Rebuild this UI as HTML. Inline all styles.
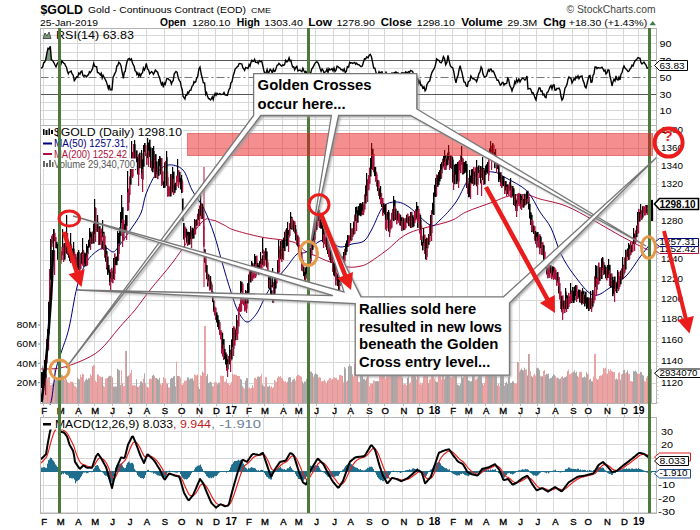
<!DOCTYPE html>
<html><head><meta charset="utf-8"><style>html,body{margin:0;padding:0;background:#fff;overflow:hidden}svg{display:block}text{font-family:"Liberation Sans",sans-serif}</style></head><body>
<svg width="700" height="530" viewBox="0 0 700 530" font-family="Liberation Sans, sans-serif">
<rect width="700" height="530" fill="#fff"/>
<text x="40.5" y="13.7" font-size="13" fill="#000" font-weight="bold" text-anchor="start" textLength="42.5" lengthAdjust="spacingAndGlyphs" >$GOLD</text>
<text x="88" y="12.7" font-size="9" fill="#000" font-weight="normal" text-anchor="start" textLength="158" lengthAdjust="spacingAndGlyphs" >Gold - Continuous Contract (EOD)</text>
<text x="251" y="12.7" font-size="8" fill="#000" font-weight="normal" text-anchor="start" textLength="20" lengthAdjust="spacingAndGlyphs" >CME</text>
<text x="566.5" y="12.9" font-size="10" fill="#444" font-weight="normal" text-anchor="start" textLength="89" lengthAdjust="spacingAndGlyphs" >&#169; StockCharts.com</text>
<text x="40" y="25.7" font-size="9" fill="#000" font-weight="normal" text-anchor="start" textLength="58" lengthAdjust="spacingAndGlyphs" >25-Jan-2019</text>
<text x="160" y="25.7" font-size="10" fill="#000" font-weight="bold" text-anchor="start" textLength="26" lengthAdjust="spacingAndGlyphs" >Open</text>
<text x="192" y="25.7" font-size="9" fill="#000" font-weight="normal" text-anchor="start" textLength="38.4" lengthAdjust="spacingAndGlyphs" >1280.10</text>
<text x="236.8" y="25.7" font-size="10" fill="#000" font-weight="bold" text-anchor="start" textLength="23.2" lengthAdjust="spacingAndGlyphs" >High</text>
<text x="264.3" y="25.7" font-size="9" fill="#000" font-weight="normal" text-anchor="start" textLength="38.6" lengthAdjust="spacingAndGlyphs" >1303.40</text>
<text x="308.2" y="25.7" font-size="10" fill="#000" font-weight="bold" text-anchor="start" textLength="23.8" lengthAdjust="spacingAndGlyphs" >Low</text>
<text x="336.4" y="25.7" font-size="9" fill="#000" font-weight="normal" text-anchor="start" textLength="38.6" lengthAdjust="spacingAndGlyphs" >1278.90</text>
<text x="380.8" y="25.7" font-size="10" fill="#000" font-weight="bold" text-anchor="start" textLength="31.2" lengthAdjust="spacingAndGlyphs" >Close</text>
<text x="416.8" y="25.7" font-size="9" fill="#000" font-weight="normal" text-anchor="start" textLength="38.0" lengthAdjust="spacingAndGlyphs" >1298.10</text>
<text x="461.2" y="25.7" font-size="10" fill="#000" font-weight="bold" text-anchor="start" textLength="41.6" lengthAdjust="spacingAndGlyphs" >Volume</text>
<text x="507.2" y="25.7" font-size="9" fill="#000" font-weight="normal" text-anchor="start" textLength="30.0" lengthAdjust="spacingAndGlyphs" >29.3M</text>
<text x="543.2" y="25.7" font-size="10" fill="#000" font-weight="bold" text-anchor="start" textLength="22.8" lengthAdjust="spacingAndGlyphs" >Chg</text>
<text x="568.8" y="25.7" font-size="9" fill="#000" font-weight="normal" text-anchor="start" textLength="78.4" lengthAdjust="spacingAndGlyphs" >+18.30 (+1.43%)</text>
<polygon points="649.5,25.2 656,25.2 652.7,21" fill="#3a7a4a"/>
<line x1="40.5" y1="119.5" x2="656.5" y2="119.5" stroke="#d8d8d8"/>
<line x1="40.5" y1="110.5" x2="656.5" y2="110.5" stroke="#d8d8d8"/>
<line x1="40.5" y1="102.5" x2="656.5" y2="102.5" stroke="#d8d8d8"/>
<line x1="40.5" y1="85.5" x2="656.5" y2="85.5" stroke="#d8d8d8"/>
<line x1="40.5" y1="68.5" x2="656.5" y2="68.5" stroke="#d8d8d8"/>
<line x1="40.5" y1="52.5" x2="656.5" y2="52.5" stroke="#d8d8d8"/>
<line x1="40.5" y1="43.5" x2="656.5" y2="43.5" stroke="#d8d8d8"/>
<line x1="40.5" y1="35.5" x2="656.5" y2="35.5" stroke="#d8d8d8"/>
<line x1="43.5" y1="28.5" x2="43.5" y2="125.5" stroke="#d8d8d8" stroke-width="1"/>
<line x1="60.5" y1="28.5" x2="60.5" y2="125.5" stroke="#d8d8d8" stroke-width="1"/>
<line x1="77.5" y1="28.5" x2="77.5" y2="125.5" stroke="#d8d8d8" stroke-width="1"/>
<line x1="94.5" y1="28.5" x2="94.5" y2="125.5" stroke="#d8d8d8" stroke-width="1"/>
<line x1="111.5" y1="28.5" x2="111.5" y2="125.5" stroke="#d8d8d8" stroke-width="1"/>
<line x1="129.5" y1="28.5" x2="129.5" y2="125.5" stroke="#d8d8d8" stroke-width="1"/>
<line x1="146.5" y1="28.5" x2="146.5" y2="125.5" stroke="#d8d8d8" stroke-width="1"/>
<line x1="164.5" y1="28.5" x2="164.5" y2="125.5" stroke="#d8d8d8" stroke-width="1"/>
<line x1="181.5" y1="28.5" x2="181.5" y2="125.5" stroke="#d8d8d8" stroke-width="1"/>
<line x1="198.5" y1="28.5" x2="198.5" y2="125.5" stroke="#d8d8d8" stroke-width="1"/>
<line x1="215.5" y1="28.5" x2="215.5" y2="125.5" stroke="#d8d8d8" stroke-width="1"/>
<line x1="232.5" y1="28.5" x2="232.5" y2="125.5" stroke="#d8d8d8" stroke-width="1"/>
<line x1="248.5" y1="28.5" x2="248.5" y2="125.5" stroke="#d8d8d8" stroke-width="1"/>
<line x1="263.5" y1="28.5" x2="263.5" y2="125.5" stroke="#d8d8d8" stroke-width="1"/>
<line x1="282.5" y1="28.5" x2="282.5" y2="125.5" stroke="#d8d8d8" stroke-width="1"/>
<line x1="297.5" y1="28.5" x2="297.5" y2="125.5" stroke="#d8d8d8" stroke-width="1"/>
<line x1="315.5" y1="28.5" x2="315.5" y2="125.5" stroke="#d8d8d8" stroke-width="1"/>
<line x1="333.5" y1="28.5" x2="333.5" y2="125.5" stroke="#d8d8d8" stroke-width="1"/>
<line x1="349.5" y1="28.5" x2="349.5" y2="125.5" stroke="#d8d8d8" stroke-width="1"/>
<line x1="368.5" y1="28.5" x2="368.5" y2="125.5" stroke="#d8d8d8" stroke-width="1"/>
<line x1="384.5" y1="28.5" x2="384.5" y2="125.5" stroke="#d8d8d8" stroke-width="1"/>
<line x1="402.5" y1="28.5" x2="402.5" y2="125.5" stroke="#d8d8d8" stroke-width="1"/>
<line x1="419.5" y1="28.5" x2="419.5" y2="125.5" stroke="#d8d8d8" stroke-width="1"/>
<line x1="435.5" y1="28.5" x2="435.5" y2="125.5" stroke="#d8d8d8" stroke-width="1"/>
<line x1="452.5" y1="28.5" x2="452.5" y2="125.5" stroke="#d8d8d8" stroke-width="1"/>
<line x1="467.5" y1="28.5" x2="467.5" y2="125.5" stroke="#d8d8d8" stroke-width="1"/>
<line x1="485.5" y1="28.5" x2="485.5" y2="125.5" stroke="#d8d8d8" stroke-width="1"/>
<line x1="502.5" y1="28.5" x2="502.5" y2="125.5" stroke="#d8d8d8" stroke-width="1"/>
<line x1="519.5" y1="28.5" x2="519.5" y2="125.5" stroke="#d8d8d8" stroke-width="1"/>
<line x1="536.5" y1="28.5" x2="536.5" y2="125.5" stroke="#d8d8d8" stroke-width="1"/>
<line x1="553.5" y1="28.5" x2="553.5" y2="125.5" stroke="#d8d8d8" stroke-width="1"/>
<line x1="572.5" y1="28.5" x2="572.5" y2="125.5" stroke="#d8d8d8" stroke-width="1"/>
<line x1="588.5" y1="28.5" x2="588.5" y2="125.5" stroke="#d8d8d8" stroke-width="1"/>
<line x1="606.5" y1="28.5" x2="606.5" y2="125.5" stroke="#d8d8d8" stroke-width="1"/>
<line x1="623.5" y1="28.5" x2="623.5" y2="125.5" stroke="#d8d8d8" stroke-width="1"/>
<line x1="638.5" y1="28.5" x2="638.5" y2="125.5" stroke="#d8d8d8" stroke-width="1"/>
<line x1="40.5" y1="60.5" x2="656.5" y2="60.5" stroke="#555"/>
<line x1="40.5" y1="94.5" x2="656.5" y2="94.5" stroke="#555"/>
<line x1="40.5" y1="77.5" x2="656.5" y2="77.5" stroke="#777" stroke-dasharray="8,3,2,3"/>
<line x1="40.5" y1="383.5" x2="656.5" y2="383.5" stroke="#d8d8d8"/>
<line x1="40.5" y1="362.5" x2="656.5" y2="362.5" stroke="#d8d8d8"/>
<line x1="40.5" y1="341.5" x2="656.5" y2="341.5" stroke="#d8d8d8"/>
<line x1="40.5" y1="320.5" x2="656.5" y2="320.5" stroke="#d8d8d8"/>
<line x1="40.5" y1="300.5" x2="656.5" y2="300.5" stroke="#d8d8d8"/>
<line x1="40.5" y1="280.5" x2="656.5" y2="280.5" stroke="#d8d8d8"/>
<line x1="40.5" y1="260.5" x2="656.5" y2="260.5" stroke="#d8d8d8"/>
<line x1="40.5" y1="241.5" x2="656.5" y2="241.5" stroke="#d8d8d8"/>
<line x1="40.5" y1="221.5" x2="656.5" y2="221.5" stroke="#d8d8d8"/>
<line x1="40.5" y1="203.5" x2="656.5" y2="203.5" stroke="#d8d8d8"/>
<line x1="40.5" y1="184.5" x2="656.5" y2="184.5" stroke="#d8d8d8"/>
<line x1="40.5" y1="166.5" x2="656.5" y2="166.5" stroke="#d8d8d8"/>
<line x1="40.5" y1="148.5" x2="656.5" y2="148.5" stroke="#d8d8d8"/>
<line x1="40.5" y1="130.5" x2="656.5" y2="130.5" stroke="#d8d8d8"/>
<line x1="43.5" y1="125.5" x2="43.5" y2="403.5" stroke="#d8d8d8" stroke-width="1"/>
<line x1="60.5" y1="125.5" x2="60.5" y2="403.5" stroke="#d8d8d8" stroke-width="1"/>
<line x1="77.5" y1="125.5" x2="77.5" y2="403.5" stroke="#d8d8d8" stroke-width="1"/>
<line x1="94.5" y1="125.5" x2="94.5" y2="403.5" stroke="#d8d8d8" stroke-width="1"/>
<line x1="111.5" y1="125.5" x2="111.5" y2="403.5" stroke="#d8d8d8" stroke-width="1"/>
<line x1="129.5" y1="125.5" x2="129.5" y2="403.5" stroke="#d8d8d8" stroke-width="1"/>
<line x1="146.5" y1="125.5" x2="146.5" y2="403.5" stroke="#d8d8d8" stroke-width="1"/>
<line x1="164.5" y1="125.5" x2="164.5" y2="403.5" stroke="#d8d8d8" stroke-width="1"/>
<line x1="181.5" y1="125.5" x2="181.5" y2="403.5" stroke="#d8d8d8" stroke-width="1"/>
<line x1="198.5" y1="125.5" x2="198.5" y2="403.5" stroke="#d8d8d8" stroke-width="1"/>
<line x1="215.5" y1="125.5" x2="215.5" y2="403.5" stroke="#d8d8d8" stroke-width="1"/>
<line x1="232.5" y1="125.5" x2="232.5" y2="403.5" stroke="#d8d8d8" stroke-width="1"/>
<line x1="248.5" y1="125.5" x2="248.5" y2="403.5" stroke="#d8d8d8" stroke-width="1"/>
<line x1="263.5" y1="125.5" x2="263.5" y2="403.5" stroke="#d8d8d8" stroke-width="1"/>
<line x1="282.5" y1="125.5" x2="282.5" y2="403.5" stroke="#d8d8d8" stroke-width="1"/>
<line x1="297.5" y1="125.5" x2="297.5" y2="403.5" stroke="#d8d8d8" stroke-width="1"/>
<line x1="315.5" y1="125.5" x2="315.5" y2="403.5" stroke="#d8d8d8" stroke-width="1"/>
<line x1="333.5" y1="125.5" x2="333.5" y2="403.5" stroke="#d8d8d8" stroke-width="1"/>
<line x1="349.5" y1="125.5" x2="349.5" y2="403.5" stroke="#d8d8d8" stroke-width="1"/>
<line x1="368.5" y1="125.5" x2="368.5" y2="403.5" stroke="#d8d8d8" stroke-width="1"/>
<line x1="384.5" y1="125.5" x2="384.5" y2="403.5" stroke="#d8d8d8" stroke-width="1"/>
<line x1="402.5" y1="125.5" x2="402.5" y2="403.5" stroke="#d8d8d8" stroke-width="1"/>
<line x1="419.5" y1="125.5" x2="419.5" y2="403.5" stroke="#d8d8d8" stroke-width="1"/>
<line x1="435.5" y1="125.5" x2="435.5" y2="403.5" stroke="#d8d8d8" stroke-width="1"/>
<line x1="452.5" y1="125.5" x2="452.5" y2="403.5" stroke="#d8d8d8" stroke-width="1"/>
<line x1="467.5" y1="125.5" x2="467.5" y2="403.5" stroke="#d8d8d8" stroke-width="1"/>
<line x1="485.5" y1="125.5" x2="485.5" y2="403.5" stroke="#d8d8d8" stroke-width="1"/>
<line x1="502.5" y1="125.5" x2="502.5" y2="403.5" stroke="#d8d8d8" stroke-width="1"/>
<line x1="519.5" y1="125.5" x2="519.5" y2="403.5" stroke="#d8d8d8" stroke-width="1"/>
<line x1="536.5" y1="125.5" x2="536.5" y2="403.5" stroke="#d8d8d8" stroke-width="1"/>
<line x1="553.5" y1="125.5" x2="553.5" y2="403.5" stroke="#d8d8d8" stroke-width="1"/>
<line x1="572.5" y1="125.5" x2="572.5" y2="403.5" stroke="#d8d8d8" stroke-width="1"/>
<line x1="588.5" y1="125.5" x2="588.5" y2="403.5" stroke="#d8d8d8" stroke-width="1"/>
<line x1="606.5" y1="125.5" x2="606.5" y2="403.5" stroke="#d8d8d8" stroke-width="1"/>
<line x1="623.5" y1="125.5" x2="623.5" y2="403.5" stroke="#d8d8d8" stroke-width="1"/>
<line x1="638.5" y1="125.5" x2="638.5" y2="403.5" stroke="#d8d8d8" stroke-width="1"/>
<line x1="40.5" y1="512.5" x2="656.5" y2="512.5" stroke="#d8d8d8"/>
<line x1="40.5" y1="498.5" x2="656.5" y2="498.5" stroke="#d8d8d8"/>
<line x1="40.5" y1="485.5" x2="656.5" y2="485.5" stroke="#d8d8d8"/>
<line x1="40.5" y1="458.5" x2="656.5" y2="458.5" stroke="#d8d8d8"/>
<line x1="40.5" y1="444.5" x2="656.5" y2="444.5" stroke="#d8d8d8"/>
<line x1="40.5" y1="431.5" x2="656.5" y2="431.5" stroke="#d8d8d8"/>
<line x1="43.5" y1="417.5" x2="43.5" y2="513.5" stroke="#d8d8d8" stroke-width="1"/>
<line x1="60.5" y1="417.5" x2="60.5" y2="513.5" stroke="#d8d8d8" stroke-width="1"/>
<line x1="77.5" y1="417.5" x2="77.5" y2="513.5" stroke="#d8d8d8" stroke-width="1"/>
<line x1="94.5" y1="417.5" x2="94.5" y2="513.5" stroke="#d8d8d8" stroke-width="1"/>
<line x1="111.5" y1="417.5" x2="111.5" y2="513.5" stroke="#d8d8d8" stroke-width="1"/>
<line x1="129.5" y1="417.5" x2="129.5" y2="513.5" stroke="#d8d8d8" stroke-width="1"/>
<line x1="146.5" y1="417.5" x2="146.5" y2="513.5" stroke="#d8d8d8" stroke-width="1"/>
<line x1="164.5" y1="417.5" x2="164.5" y2="513.5" stroke="#d8d8d8" stroke-width="1"/>
<line x1="181.5" y1="417.5" x2="181.5" y2="513.5" stroke="#d8d8d8" stroke-width="1"/>
<line x1="198.5" y1="417.5" x2="198.5" y2="513.5" stroke="#d8d8d8" stroke-width="1"/>
<line x1="215.5" y1="417.5" x2="215.5" y2="513.5" stroke="#d8d8d8" stroke-width="1"/>
<line x1="232.5" y1="417.5" x2="232.5" y2="513.5" stroke="#d8d8d8" stroke-width="1"/>
<line x1="248.5" y1="417.5" x2="248.5" y2="513.5" stroke="#d8d8d8" stroke-width="1"/>
<line x1="263.5" y1="417.5" x2="263.5" y2="513.5" stroke="#d8d8d8" stroke-width="1"/>
<line x1="282.5" y1="417.5" x2="282.5" y2="513.5" stroke="#d8d8d8" stroke-width="1"/>
<line x1="297.5" y1="417.5" x2="297.5" y2="513.5" stroke="#d8d8d8" stroke-width="1"/>
<line x1="315.5" y1="417.5" x2="315.5" y2="513.5" stroke="#d8d8d8" stroke-width="1"/>
<line x1="333.5" y1="417.5" x2="333.5" y2="513.5" stroke="#d8d8d8" stroke-width="1"/>
<line x1="349.5" y1="417.5" x2="349.5" y2="513.5" stroke="#d8d8d8" stroke-width="1"/>
<line x1="368.5" y1="417.5" x2="368.5" y2="513.5" stroke="#d8d8d8" stroke-width="1"/>
<line x1="384.5" y1="417.5" x2="384.5" y2="513.5" stroke="#d8d8d8" stroke-width="1"/>
<line x1="402.5" y1="417.5" x2="402.5" y2="513.5" stroke="#d8d8d8" stroke-width="1"/>
<line x1="419.5" y1="417.5" x2="419.5" y2="513.5" stroke="#d8d8d8" stroke-width="1"/>
<line x1="435.5" y1="417.5" x2="435.5" y2="513.5" stroke="#d8d8d8" stroke-width="1"/>
<line x1="452.5" y1="417.5" x2="452.5" y2="513.5" stroke="#d8d8d8" stroke-width="1"/>
<line x1="467.5" y1="417.5" x2="467.5" y2="513.5" stroke="#d8d8d8" stroke-width="1"/>
<line x1="485.5" y1="417.5" x2="485.5" y2="513.5" stroke="#d8d8d8" stroke-width="1"/>
<line x1="502.5" y1="417.5" x2="502.5" y2="513.5" stroke="#d8d8d8" stroke-width="1"/>
<line x1="519.5" y1="417.5" x2="519.5" y2="513.5" stroke="#d8d8d8" stroke-width="1"/>
<line x1="536.5" y1="417.5" x2="536.5" y2="513.5" stroke="#d8d8d8" stroke-width="1"/>
<line x1="553.5" y1="417.5" x2="553.5" y2="513.5" stroke="#d8d8d8" stroke-width="1"/>
<line x1="572.5" y1="417.5" x2="572.5" y2="513.5" stroke="#d8d8d8" stroke-width="1"/>
<line x1="588.5" y1="417.5" x2="588.5" y2="513.5" stroke="#d8d8d8" stroke-width="1"/>
<line x1="606.5" y1="417.5" x2="606.5" y2="513.5" stroke="#d8d8d8" stroke-width="1"/>
<line x1="623.5" y1="417.5" x2="623.5" y2="513.5" stroke="#d8d8d8" stroke-width="1"/>
<line x1="638.5" y1="417.5" x2="638.5" y2="513.5" stroke="#d8d8d8" stroke-width="1"/>
<rect x="42" y="365.7" width="1" height="37.3" fill="#a9a9a9"/>
<rect x="43" y="367.2" width="1" height="35.8" fill="#a9a9a9"/>
<rect x="44" y="374.4" width="1" height="28.6" fill="#eba3a3"/>
<rect x="45" y="375.4" width="1" height="27.6" fill="#eba3a3"/>
<rect x="46" y="373.9" width="1" height="29.1" fill="#eba3a3"/>
<rect x="47" y="378.5" width="1" height="24.5" fill="#eba3a3"/>
<rect x="48" y="377.4" width="1" height="25.6" fill="#eba3a3"/>
<rect x="49" y="376.8" width="1" height="26.2" fill="#eba3a3"/>
<rect x="50" y="385.0" width="1" height="18.0" fill="#eba3a3"/>
<rect x="51" y="384.9" width="1" height="18.1" fill="#eba3a3"/>
<rect x="52" y="383.8" width="1" height="19.2" fill="#eba3a3"/>
<rect x="53" y="382.6" width="1" height="20.4" fill="#eba3a3"/>
<rect x="54" y="367.8" width="1" height="35.2" fill="#eba3a3"/>
<rect x="55" y="380.1" width="1" height="22.9" fill="#a9a9a9"/>
<rect x="56" y="379.8" width="1" height="23.2" fill="#a9a9a9"/>
<rect x="57" y="379.6" width="1" height="23.4" fill="#a9a9a9"/>
<rect x="58" y="377.7" width="1" height="25.3" fill="#eba3a3"/>
<rect x="59" y="378.0" width="1" height="25.0" fill="#eba3a3"/>
<rect x="60" y="385.0" width="1" height="18.0" fill="#a9a9a9"/>
<rect x="61" y="374.6" width="1" height="28.4" fill="#a9a9a9"/>
<rect x="62" y="375.6" width="1" height="27.4" fill="#a9a9a9"/>
<rect x="63" y="376.0" width="1" height="27.0" fill="#a9a9a9"/>
<rect x="64" y="379.8" width="1" height="23.2" fill="#eba3a3"/>
<rect x="65" y="377.6" width="1" height="25.4" fill="#eba3a3"/>
<rect x="66" y="379.3" width="1" height="23.7" fill="#a9a9a9"/>
<rect x="67" y="381.9" width="1" height="21.1" fill="#eba3a3"/>
<rect x="68" y="382.7" width="1" height="20.3" fill="#eba3a3"/>
<rect x="69" y="383.3" width="1" height="19.7" fill="#eba3a3"/>
<rect x="70" y="381.6" width="1" height="21.4" fill="#eba3a3"/>
<rect x="71" y="381.7" width="1" height="21.3" fill="#eba3a3"/>
<rect x="72" y="381.9" width="1" height="21.1" fill="#eba3a3"/>
<rect x="73" y="383.3" width="1" height="19.7" fill="#eba3a3"/>
<rect x="74" y="386.0" width="1" height="17.0" fill="#eba3a3"/>
<rect x="75" y="386.3" width="1" height="16.7" fill="#eba3a3"/>
<rect x="76" y="387.4" width="1" height="15.6" fill="#eba3a3"/>
<rect x="77" y="377.5" width="1" height="25.5" fill="#a9a9a9"/>
<rect x="78" y="379.1" width="1" height="23.9" fill="#a9a9a9"/>
<rect x="79" y="379.3" width="1" height="23.7" fill="#a9a9a9"/>
<rect x="80" y="374.7" width="1" height="28.3" fill="#eba3a3"/>
<rect x="81" y="377.1" width="1" height="25.9" fill="#eba3a3"/>
<rect x="82" y="373.7" width="1" height="29.3" fill="#eba3a3"/>
<rect x="83" y="374.3" width="1" height="28.7" fill="#eba3a3"/>
<rect x="84" y="381.7" width="1" height="21.3" fill="#a9a9a9"/>
<rect x="85" y="379.9" width="1" height="23.1" fill="#a9a9a9"/>
<rect x="86" y="378.3" width="1" height="24.7" fill="#a9a9a9"/>
<rect x="87" y="379.9" width="1" height="23.1" fill="#a9a9a9"/>
<rect x="88" y="378.2" width="1" height="24.8" fill="#a9a9a9"/>
<rect x="89" y="378.2" width="1" height="24.8" fill="#a9a9a9"/>
<rect x="90" y="374.3" width="1" height="28.7" fill="#eba3a3"/>
<rect x="91" y="375.7" width="1" height="27.3" fill="#eba3a3"/>
<rect x="92" y="366.4" width="1" height="36.6" fill="#eba3a3"/>
<rect x="93" y="365.0" width="1" height="38.0" fill="#eba3a3"/>
<rect x="94" y="365.4" width="1" height="37.6" fill="#eba3a3"/>
<rect x="95" y="380.6" width="1" height="22.4" fill="#eba3a3"/>
<rect x="96" y="382.1" width="1" height="20.9" fill="#eba3a3"/>
<rect x="97" y="374.7" width="1" height="28.3" fill="#eba3a3"/>
<rect x="98" y="374.5" width="1" height="28.5" fill="#eba3a3"/>
<rect x="99" y="376.2" width="1" height="26.8" fill="#eba3a3"/>
<rect x="100" y="376.5" width="1" height="26.5" fill="#eba3a3"/>
<rect x="101" y="377.4" width="1" height="25.6" fill="#eba3a3"/>
<rect x="102" y="376.9" width="1" height="26.1" fill="#a9a9a9"/>
<rect x="103" y="385.9" width="1" height="17.1" fill="#eba3a3"/>
<rect x="104" y="386.8" width="1" height="16.2" fill="#eba3a3"/>
<rect x="105" y="378.6" width="1" height="24.4" fill="#eba3a3"/>
<rect x="106" y="378.2" width="1" height="24.8" fill="#eba3a3"/>
<rect x="107" y="378.0" width="1" height="25.0" fill="#eba3a3"/>
<rect x="108" y="376.7" width="1" height="26.3" fill="#a9a9a9"/>
<rect x="109" y="375.8" width="1" height="27.2" fill="#a9a9a9"/>
<rect x="110" y="375.8" width="1" height="27.2" fill="#a9a9a9"/>
<rect x="111" y="376.2" width="1" height="26.8" fill="#eba3a3"/>
<rect x="112" y="377.6" width="1" height="25.4" fill="#eba3a3"/>
<rect x="113" y="386.5" width="1" height="16.5" fill="#a9a9a9"/>
<rect x="114" y="386.6" width="1" height="16.4" fill="#a9a9a9"/>
<rect x="115" y="386.5" width="1" height="16.5" fill="#a9a9a9"/>
<rect x="116" y="386.5" width="1" height="16.5" fill="#a9a9a9"/>
<rect x="117" y="368.8" width="1" height="34.2" fill="#a9a9a9"/>
<rect x="118" y="369.7" width="1" height="33.3" fill="#a9a9a9"/>
<rect x="119" y="370.3" width="1" height="32.7" fill="#a9a9a9"/>
<rect x="120" y="384.9" width="1" height="18.1" fill="#a9a9a9"/>
<rect x="121" y="370.0" width="1" height="33.0" fill="#eba3a3"/>
<rect x="122" y="383.6" width="1" height="19.4" fill="#eba3a3"/>
<rect x="123" y="386.3" width="1" height="16.7" fill="#eba3a3"/>
<rect x="124" y="386.1" width="1" height="16.9" fill="#eba3a3"/>
<rect x="125" y="351.0" width="1" height="52.0" fill="#eba3a3"/>
<rect x="126" y="351.0" width="1" height="52.0" fill="#a9a9a9"/>
<rect x="127" y="376.5" width="1" height="26.5" fill="#a9a9a9"/>
<rect x="128" y="375.6" width="1" height="27.4" fill="#a9a9a9"/>
<rect x="129" y="375.0" width="1" height="28.0" fill="#eba3a3"/>
<rect x="130" y="373.1" width="1" height="29.9" fill="#eba3a3"/>
<rect x="131" y="370.0" width="1" height="33.0" fill="#eba3a3"/>
<rect x="132" y="385.3" width="1" height="17.7" fill="#eba3a3"/>
<rect x="133" y="385.5" width="1" height="17.5" fill="#eba3a3"/>
<rect x="134" y="384.8" width="1" height="18.2" fill="#eba3a3"/>
<rect x="135" y="385.7" width="1" height="17.3" fill="#eba3a3"/>
<rect x="136" y="379.2" width="1" height="23.8" fill="#a9a9a9"/>
<rect x="137" y="386.9" width="1" height="16.1" fill="#eba3a3"/>
<rect x="138" y="386.9" width="1" height="16.1" fill="#eba3a3"/>
<rect x="139" y="385.4" width="1" height="17.6" fill="#eba3a3"/>
<rect x="140" y="381.5" width="1" height="21.5" fill="#a9a9a9"/>
<rect x="141" y="381.4" width="1" height="21.6" fill="#a9a9a9"/>
<rect x="142" y="382.9" width="1" height="20.1" fill="#a9a9a9"/>
<rect x="143" y="378.7" width="1" height="24.3" fill="#eba3a3"/>
<rect x="144" y="373.4" width="1" height="29.6" fill="#a9a9a9"/>
<rect x="145" y="383.1" width="1" height="19.9" fill="#eba3a3"/>
<rect x="146" y="386.7" width="1" height="16.3" fill="#eba3a3"/>
<rect x="147" y="387.0" width="1" height="16.0" fill="#eba3a3"/>
<rect x="148" y="387.7" width="1" height="15.3" fill="#eba3a3"/>
<rect x="149" y="378.6" width="1" height="24.4" fill="#eba3a3"/>
<rect x="150" y="378.8" width="1" height="24.2" fill="#eba3a3"/>
<rect x="151" y="378.7" width="1" height="24.3" fill="#eba3a3"/>
<rect x="152" y="375.7" width="1" height="27.3" fill="#a9a9a9"/>
<rect x="153" y="374.6" width="1" height="28.4" fill="#a9a9a9"/>
<rect x="154" y="375.8" width="1" height="27.2" fill="#eba3a3"/>
<rect x="155" y="377.8" width="1" height="25.2" fill="#eba3a3"/>
<rect x="156" y="378.0" width="1" height="25.0" fill="#a9a9a9"/>
<rect x="157" y="379.0" width="1" height="24.0" fill="#a9a9a9"/>
<rect x="158" y="379.9" width="1" height="23.1" fill="#a9a9a9"/>
<rect x="159" y="377.9" width="1" height="25.1" fill="#a9a9a9"/>
<rect x="160" y="384.0" width="1" height="19.0" fill="#eba3a3"/>
<rect x="161" y="384.8" width="1" height="18.2" fill="#eba3a3"/>
<rect x="162" y="383.1" width="1" height="19.9" fill="#eba3a3"/>
<rect x="163" y="377.0" width="1" height="26.0" fill="#eba3a3"/>
<rect x="164" y="378.6" width="1" height="24.4" fill="#eba3a3"/>
<rect x="165" y="378.3" width="1" height="24.7" fill="#eba3a3"/>
<rect x="166" y="382.6" width="1" height="20.4" fill="#eba3a3"/>
<rect x="167" y="383.9" width="1" height="19.1" fill="#a9a9a9"/>
<rect x="168" y="387.4" width="1" height="15.6" fill="#eba3a3"/>
<rect x="169" y="387.6" width="1" height="15.4" fill="#eba3a3"/>
<rect x="170" y="378.9" width="1" height="24.1" fill="#a9a9a9"/>
<rect x="171" y="377.8" width="1" height="25.2" fill="#a9a9a9"/>
<rect x="172" y="378.2" width="1" height="24.8" fill="#a9a9a9"/>
<rect x="173" y="376.4" width="1" height="26.6" fill="#a9a9a9"/>
<rect x="174" y="375.9" width="1" height="27.1" fill="#a9a9a9"/>
<rect x="175" y="386.3" width="1" height="16.7" fill="#a9a9a9"/>
<rect x="176" y="361.5" width="1" height="41.5" fill="#eba3a3"/>
<rect x="177" y="375.9" width="1" height="27.1" fill="#a9a9a9"/>
<rect x="178" y="376.0" width="1" height="27.0" fill="#a9a9a9"/>
<rect x="179" y="376.2" width="1" height="26.8" fill="#eba3a3"/>
<rect x="180" y="377.6" width="1" height="25.4" fill="#eba3a3"/>
<rect x="181" y="384.3" width="1" height="18.7" fill="#eba3a3"/>
<rect x="182" y="384.9" width="1" height="18.1" fill="#eba3a3"/>
<rect x="183" y="383.3" width="1" height="19.7" fill="#eba3a3"/>
<rect x="184" y="380.7" width="1" height="22.3" fill="#eba3a3"/>
<rect x="185" y="380.7" width="1" height="22.3" fill="#eba3a3"/>
<rect x="186" y="380.4" width="1" height="22.6" fill="#eba3a3"/>
<rect x="187" y="377.5" width="1" height="25.5" fill="#a9a9a9"/>
<rect x="188" y="377.4" width="1" height="25.6" fill="#a9a9a9"/>
<rect x="189" y="379.5" width="1" height="23.5" fill="#a9a9a9"/>
<rect x="190" y="378.3" width="1" height="24.7" fill="#a9a9a9"/>
<rect x="191" y="378.6" width="1" height="24.4" fill="#a9a9a9"/>
<rect x="192" y="378.4" width="1" height="24.6" fill="#a9a9a9"/>
<rect x="193" y="380.4" width="1" height="22.6" fill="#a9a9a9"/>
<rect x="194" y="374.4" width="1" height="28.6" fill="#eba3a3"/>
<rect x="195" y="374.8" width="1" height="28.2" fill="#eba3a3"/>
<rect x="196" y="375.5" width="1" height="27.5" fill="#eba3a3"/>
<rect x="197" y="374.7" width="1" height="28.3" fill="#eba3a3"/>
<rect x="198" y="386.9" width="1" height="16.1" fill="#a9a9a9"/>
<rect x="199" y="389.0" width="1" height="14.0" fill="#a9a9a9"/>
<rect x="200" y="375.3" width="1" height="27.7" fill="#eba3a3"/>
<rect x="201" y="375.9" width="1" height="27.1" fill="#eba3a3"/>
<rect x="202" y="371.7" width="1" height="31.3" fill="#eba3a3"/>
<rect x="203" y="372.7" width="1" height="30.3" fill="#eba3a3"/>
<rect x="204" y="326.0" width="1" height="77.0" fill="#eba3a3"/>
<rect x="205" y="326.0" width="1" height="77.0" fill="#eba3a3"/>
<rect x="206" y="376.2" width="1" height="26.8" fill="#a9a9a9"/>
<rect x="207" y="374.1" width="1" height="28.9" fill="#a9a9a9"/>
<rect x="208" y="383.0" width="1" height="20.0" fill="#a9a9a9"/>
<rect x="209" y="382.3" width="1" height="20.7" fill="#a9a9a9"/>
<rect x="210" y="381.7" width="1" height="21.3" fill="#a9a9a9"/>
<rect x="211" y="382.7" width="1" height="20.3" fill="#a9a9a9"/>
<rect x="212" y="386.1" width="1" height="16.9" fill="#eba3a3"/>
<rect x="213" y="386.4" width="1" height="16.6" fill="#eba3a3"/>
<rect x="214" y="382.3" width="1" height="20.7" fill="#eba3a3"/>
<rect x="215" y="382.2" width="1" height="20.8" fill="#eba3a3"/>
<rect x="216" y="382.3" width="1" height="20.7" fill="#eba3a3"/>
<rect x="217" y="384.4" width="1" height="18.6" fill="#a9a9a9"/>
<rect x="218" y="382.7" width="1" height="20.3" fill="#a9a9a9"/>
<rect x="219" y="382.6" width="1" height="20.4" fill="#a9a9a9"/>
<rect x="220" y="375.6" width="1" height="27.4" fill="#eba3a3"/>
<rect x="221" y="375.9" width="1" height="27.1" fill="#eba3a3"/>
<rect x="222" y="375.8" width="1" height="27.2" fill="#eba3a3"/>
<rect x="223" y="376.0" width="1" height="27.0" fill="#eba3a3"/>
<rect x="224" y="381.7" width="1" height="21.3" fill="#eba3a3"/>
<rect x="225" y="381.6" width="1" height="21.4" fill="#eba3a3"/>
<rect x="226" y="379.2" width="1" height="23.8" fill="#eba3a3"/>
<rect x="227" y="383.0" width="1" height="20.0" fill="#eba3a3"/>
<rect x="228" y="383.6" width="1" height="19.4" fill="#eba3a3"/>
<rect x="229" y="385.0" width="1" height="18.0" fill="#eba3a3"/>
<rect x="230" y="384.1" width="1" height="18.9" fill="#eba3a3"/>
<rect x="231" y="381.8" width="1" height="21.2" fill="#eba3a3"/>
<rect x="232" y="373.7" width="1" height="29.3" fill="#eba3a3"/>
<rect x="233" y="375.0" width="1" height="28.0" fill="#eba3a3"/>
<rect x="234" y="374.1" width="1" height="28.9" fill="#eba3a3"/>
<rect x="235" y="375.1" width="1" height="27.9" fill="#eba3a3"/>
<rect x="236" y="374.8" width="1" height="28.2" fill="#eba3a3"/>
<rect x="237" y="376.0" width="1" height="27.0" fill="#eba3a3"/>
<rect x="238" y="376.0" width="1" height="27.0" fill="#eba3a3"/>
<rect x="239" y="376.0" width="1" height="27.0" fill="#eba3a3"/>
<rect x="240" y="378.8" width="1" height="24.2" fill="#a9a9a9"/>
<rect x="241" y="379.5" width="1" height="23.5" fill="#a9a9a9"/>
<rect x="242" y="386.2" width="1" height="16.8" fill="#eba3a3"/>
<rect x="243" y="387.6" width="1" height="15.4" fill="#eba3a3"/>
<rect x="244" y="388.7" width="1" height="14.3" fill="#eba3a3"/>
<rect x="245" y="380.7" width="1" height="22.3" fill="#a9a9a9"/>
<rect x="246" y="378.1" width="1" height="24.9" fill="#a9a9a9"/>
<rect x="247" y="378.2" width="1" height="24.8" fill="#a9a9a9"/>
<rect x="248" y="388.3" width="1" height="14.7" fill="#eba3a3"/>
<rect x="249" y="387.4" width="1" height="15.6" fill="#eba3a3"/>
<rect x="250" y="388.5" width="1" height="14.5" fill="#eba3a3"/>
<rect x="251" y="387.9" width="1" height="15.1" fill="#eba3a3"/>
<rect x="252" y="385.2" width="1" height="17.8" fill="#eba3a3"/>
<rect x="253" y="387.6" width="1" height="15.4" fill="#eba3a3"/>
<rect x="254" y="377.8" width="1" height="25.2" fill="#eba3a3"/>
<rect x="255" y="377.7" width="1" height="25.3" fill="#eba3a3"/>
<rect x="256" y="379.2" width="1" height="23.8" fill="#eba3a3"/>
<rect x="257" y="376.7" width="1" height="26.3" fill="#eba3a3"/>
<rect x="258" y="376.3" width="1" height="26.7" fill="#a9a9a9"/>
<rect x="259" y="376.9" width="1" height="26.1" fill="#a9a9a9"/>
<rect x="260" y="376.0" width="1" height="27.0" fill="#eba3a3"/>
<rect x="261" y="373.6" width="1" height="29.4" fill="#eba3a3"/>
<rect x="262" y="384.6" width="1" height="18.4" fill="#a9a9a9"/>
<rect x="263" y="386.4" width="1" height="16.6" fill="#a9a9a9"/>
<rect x="264" y="386.4" width="1" height="16.6" fill="#a9a9a9"/>
<rect x="265" y="376.8" width="1" height="26.2" fill="#eba3a3"/>
<rect x="266" y="377.3" width="1" height="25.7" fill="#eba3a3"/>
<rect x="267" y="386.6" width="1" height="16.4" fill="#a9a9a9"/>
<rect x="268" y="386.7" width="1" height="16.3" fill="#a9a9a9"/>
<rect x="269" y="385.5" width="1" height="17.5" fill="#a9a9a9"/>
<rect x="270" y="387.4" width="1" height="15.6" fill="#eba3a3"/>
<rect x="271" y="386.0" width="1" height="17.0" fill="#eba3a3"/>
<rect x="272" y="388.2" width="1" height="14.8" fill="#eba3a3"/>
<rect x="273" y="387.0" width="1" height="16.0" fill="#eba3a3"/>
<rect x="274" y="380.0" width="1" height="23.0" fill="#eba3a3"/>
<rect x="275" y="381.3" width="1" height="21.7" fill="#eba3a3"/>
<rect x="276" y="382.0" width="1" height="21.0" fill="#eba3a3"/>
<rect x="277" y="377.8" width="1" height="25.2" fill="#eba3a3"/>
<rect x="278" y="376.2" width="1" height="26.8" fill="#eba3a3"/>
<rect x="279" y="376.9" width="1" height="26.1" fill="#eba3a3"/>
<rect x="280" y="376.1" width="1" height="26.9" fill="#eba3a3"/>
<rect x="281" y="378.1" width="1" height="24.9" fill="#eba3a3"/>
<rect x="282" y="378.4" width="1" height="24.6" fill="#eba3a3"/>
<rect x="283" y="380.7" width="1" height="22.3" fill="#eba3a3"/>
<rect x="284" y="381.8" width="1" height="21.2" fill="#eba3a3"/>
<rect x="285" y="381.1" width="1" height="21.9" fill="#eba3a3"/>
<rect x="286" y="382.7" width="1" height="20.3" fill="#eba3a3"/>
<rect x="287" y="381.7" width="1" height="21.3" fill="#eba3a3"/>
<rect x="288" y="377.7" width="1" height="25.3" fill="#a9a9a9"/>
<rect x="289" y="376.9" width="1" height="26.1" fill="#a9a9a9"/>
<rect x="290" y="377.2" width="1" height="25.8" fill="#a9a9a9"/>
<rect x="291" y="382.1" width="1" height="20.9" fill="#eba3a3"/>
<rect x="292" y="380.2" width="1" height="22.8" fill="#eba3a3"/>
<rect x="293" y="379.2" width="1" height="23.8" fill="#a9a9a9"/>
<rect x="294" y="378.8" width="1" height="24.2" fill="#a9a9a9"/>
<rect x="295" y="380.9" width="1" height="22.1" fill="#eba3a3"/>
<rect x="296" y="376.3" width="1" height="26.7" fill="#eba3a3"/>
<rect x="297" y="375.1" width="1" height="27.9" fill="#eba3a3"/>
<rect x="298" y="374.9" width="1" height="28.1" fill="#eba3a3"/>
<rect x="299" y="375.6" width="1" height="27.4" fill="#eba3a3"/>
<rect x="300" y="376.1" width="1" height="26.9" fill="#eba3a3"/>
<rect x="301" y="376.9" width="1" height="26.1" fill="#eba3a3"/>
<rect x="302" y="381.6" width="1" height="21.4" fill="#a9a9a9"/>
<rect x="303" y="383.7" width="1" height="19.3" fill="#a9a9a9"/>
<rect x="304" y="381.4" width="1" height="21.6" fill="#a9a9a9"/>
<rect x="305" y="381.7" width="1" height="21.3" fill="#a9a9a9"/>
<rect x="306" y="378.9" width="1" height="24.1" fill="#a9a9a9"/>
<rect x="307" y="379.3" width="1" height="23.7" fill="#a9a9a9"/>
<rect x="308" y="380.4" width="1" height="22.6" fill="#a9a9a9"/>
<rect x="309" y="373.7" width="1" height="29.3" fill="#a9a9a9"/>
<rect x="310" y="371.5" width="1" height="31.5" fill="#a9a9a9"/>
<rect x="311" y="371.7" width="1" height="31.3" fill="#a9a9a9"/>
<rect x="312" y="373.3" width="1" height="29.7" fill="#a9a9a9"/>
<rect x="313" y="376.6" width="1" height="26.4" fill="#eba3a3"/>
<rect x="314" y="374.5" width="1" height="28.5" fill="#a9a9a9"/>
<rect x="315" y="373.0" width="1" height="30.0" fill="#a9a9a9"/>
<rect x="316" y="374.1" width="1" height="28.9" fill="#a9a9a9"/>
<rect x="317" y="374.8" width="1" height="28.2" fill="#a9a9a9"/>
<rect x="318" y="377.7" width="1" height="25.3" fill="#eba3a3"/>
<rect x="319" y="376.9" width="1" height="26.1" fill="#eba3a3"/>
<rect x="320" y="377.5" width="1" height="25.5" fill="#eba3a3"/>
<rect x="321" y="381.4" width="1" height="21.6" fill="#eba3a3"/>
<rect x="322" y="381.3" width="1" height="21.7" fill="#eba3a3"/>
<rect x="323" y="380.6" width="1" height="22.4" fill="#eba3a3"/>
<rect x="324" y="379.7" width="1" height="23.3" fill="#eba3a3"/>
<rect x="325" y="381.6" width="1" height="21.4" fill="#eba3a3"/>
<rect x="326" y="383.3" width="1" height="19.7" fill="#eba3a3"/>
<rect x="327" y="380.9" width="1" height="22.1" fill="#eba3a3"/>
<rect x="328" y="379.7" width="1" height="23.3" fill="#eba3a3"/>
<rect x="329" y="378.0" width="1" height="25.0" fill="#eba3a3"/>
<rect x="330" y="377.9" width="1" height="25.1" fill="#eba3a3"/>
<rect x="331" y="379.6" width="1" height="23.4" fill="#eba3a3"/>
<rect x="332" y="379.1" width="1" height="23.9" fill="#eba3a3"/>
<rect x="333" y="377.7" width="1" height="25.3" fill="#eba3a3"/>
<rect x="334" y="377.2" width="1" height="25.8" fill="#eba3a3"/>
<rect x="335" y="378.0" width="1" height="25.0" fill="#eba3a3"/>
<rect x="336" y="377.8" width="1" height="25.2" fill="#eba3a3"/>
<rect x="337" y="380.0" width="1" height="23.0" fill="#eba3a3"/>
<rect x="338" y="379.6" width="1" height="23.4" fill="#eba3a3"/>
<rect x="339" y="375.2" width="1" height="27.8" fill="#eba3a3"/>
<rect x="340" y="374.7" width="1" height="28.3" fill="#eba3a3"/>
<rect x="341" y="375.6" width="1" height="27.4" fill="#eba3a3"/>
<rect x="342" y="375.8" width="1" height="27.2" fill="#eba3a3"/>
<rect x="343" y="382.4" width="1" height="20.6" fill="#eba3a3"/>
<rect x="344" y="366.9" width="1" height="36.1" fill="#a9a9a9"/>
<rect x="345" y="368.5" width="1" height="34.5" fill="#a9a9a9"/>
<rect x="346" y="381.7" width="1" height="21.3" fill="#eba3a3"/>
<rect x="347" y="380.6" width="1" height="22.4" fill="#eba3a3"/>
<rect x="348" y="366.3" width="1" height="36.7" fill="#a9a9a9"/>
<rect x="349" y="364.3" width="1" height="38.7" fill="#a9a9a9"/>
<rect x="350" y="365.8" width="1" height="37.2" fill="#a9a9a9"/>
<rect x="351" y="366.3" width="1" height="36.7" fill="#a9a9a9"/>
<rect x="352" y="374.3" width="1" height="28.7" fill="#eba3a3"/>
<rect x="353" y="376.4" width="1" height="26.6" fill="#eba3a3"/>
<rect x="354" y="364.1" width="1" height="38.9" fill="#eba3a3"/>
<rect x="355" y="363.2" width="1" height="39.8" fill="#eba3a3"/>
<rect x="356" y="364.1" width="1" height="38.9" fill="#eba3a3"/>
<rect x="357" y="361.4" width="1" height="41.6" fill="#eba3a3"/>
<rect x="358" y="381.8" width="1" height="21.2" fill="#eba3a3"/>
<rect x="359" y="381.9" width="1" height="21.1" fill="#eba3a3"/>
<rect x="360" y="371.4" width="1" height="31.6" fill="#a9a9a9"/>
<rect x="361" y="374.2" width="1" height="28.8" fill="#a9a9a9"/>
<rect x="362" y="372.3" width="1" height="30.7" fill="#a9a9a9"/>
<rect x="363" y="379.0" width="1" height="24.0" fill="#a9a9a9"/>
<rect x="364" y="379.1" width="1" height="23.9" fill="#a9a9a9"/>
<rect x="365" y="380.3" width="1" height="22.7" fill="#a9a9a9"/>
<rect x="366" y="378.2" width="1" height="24.8" fill="#a9a9a9"/>
<rect x="367" y="373.7" width="1" height="29.3" fill="#eba3a3"/>
<rect x="368" y="373.2" width="1" height="29.8" fill="#eba3a3"/>
<rect x="369" y="386.2" width="1" height="16.8" fill="#eba3a3"/>
<rect x="370" y="384.0" width="1" height="19.0" fill="#eba3a3"/>
<rect x="371" y="383.5" width="1" height="19.5" fill="#eba3a3"/>
<rect x="372" y="383.9" width="1" height="19.1" fill="#eba3a3"/>
<rect x="373" y="380.4" width="1" height="22.6" fill="#eba3a3"/>
<rect x="374" y="380.7" width="1" height="22.3" fill="#eba3a3"/>
<rect x="375" y="381.3" width="1" height="21.7" fill="#a9a9a9"/>
<rect x="376" y="381.2" width="1" height="21.8" fill="#a9a9a9"/>
<rect x="377" y="381.2" width="1" height="21.8" fill="#a9a9a9"/>
<rect x="378" y="381.2" width="1" height="21.8" fill="#a9a9a9"/>
<rect x="379" y="375.6" width="1" height="27.4" fill="#eba3a3"/>
<rect x="380" y="374.7" width="1" height="28.3" fill="#eba3a3"/>
<rect x="381" y="373.9" width="1" height="29.1" fill="#eba3a3"/>
<rect x="382" y="374.9" width="1" height="28.1" fill="#eba3a3"/>
<rect x="383" y="373.2" width="1" height="29.8" fill="#eba3a3"/>
<rect x="384" y="374.3" width="1" height="28.7" fill="#eba3a3"/>
<rect x="385" y="378.7" width="1" height="24.3" fill="#eba3a3"/>
<rect x="386" y="374.2" width="1" height="28.8" fill="#eba3a3"/>
<rect x="387" y="376.5" width="1" height="26.5" fill="#eba3a3"/>
<rect x="388" y="371.1" width="1" height="31.9" fill="#eba3a3"/>
<rect x="389" y="372.4" width="1" height="30.6" fill="#eba3a3"/>
<rect x="390" y="372.9" width="1" height="30.1" fill="#eba3a3"/>
<rect x="391" y="372.8" width="1" height="30.2" fill="#a9a9a9"/>
<rect x="392" y="371.6" width="1" height="31.4" fill="#a9a9a9"/>
<rect x="393" y="372.1" width="1" height="30.9" fill="#a9a9a9"/>
<rect x="394" y="371.4" width="1" height="31.6" fill="#a9a9a9"/>
<rect x="395" y="372.8" width="1" height="30.2" fill="#a9a9a9"/>
<rect x="396" y="372.5" width="1" height="30.5" fill="#a9a9a9"/>
<rect x="397" y="374.9" width="1" height="28.1" fill="#eba3a3"/>
<rect x="398" y="374.8" width="1" height="28.2" fill="#eba3a3"/>
<rect x="399" y="371.6" width="1" height="31.4" fill="#eba3a3"/>
<rect x="400" y="372.0" width="1" height="31.0" fill="#eba3a3"/>
<rect x="401" y="372.3" width="1" height="30.7" fill="#eba3a3"/>
<rect x="402" y="378.0" width="1" height="25.0" fill="#a9a9a9"/>
<rect x="403" y="384.5" width="1" height="18.5" fill="#eba3a3"/>
<rect x="404" y="383.9" width="1" height="19.1" fill="#eba3a3"/>
<rect x="405" y="384.1" width="1" height="18.9" fill="#eba3a3"/>
<rect x="406" y="385.4" width="1" height="17.6" fill="#eba3a3"/>
<rect x="407" y="377.8" width="1" height="25.2" fill="#a9a9a9"/>
<rect x="408" y="376.3" width="1" height="26.7" fill="#a9a9a9"/>
<rect x="409" y="383.6" width="1" height="19.4" fill="#eba3a3"/>
<rect x="410" y="382.4" width="1" height="20.6" fill="#eba3a3"/>
<rect x="411" y="372.6" width="1" height="30.4" fill="#eba3a3"/>
<rect x="412" y="371.4" width="1" height="31.6" fill="#eba3a3"/>
<rect x="413" y="375.1" width="1" height="27.9" fill="#a9a9a9"/>
<rect x="414" y="375.5" width="1" height="27.5" fill="#a9a9a9"/>
<rect x="415" y="376.3" width="1" height="26.7" fill="#a9a9a9"/>
<rect x="416" y="379.3" width="1" height="23.7" fill="#eba3a3"/>
<rect x="417" y="368.9" width="1" height="34.1" fill="#eba3a3"/>
<rect x="418" y="369.7" width="1" height="33.3" fill="#eba3a3"/>
<rect x="419" y="384.6" width="1" height="18.4" fill="#eba3a3"/>
<rect x="420" y="382.6" width="1" height="20.4" fill="#eba3a3"/>
<rect x="421" y="384.5" width="1" height="18.5" fill="#eba3a3"/>
<rect x="422" y="382.8" width="1" height="20.2" fill="#eba3a3"/>
<rect x="423" y="373.9" width="1" height="29.1" fill="#eba3a3"/>
<rect x="424" y="372.4" width="1" height="30.6" fill="#eba3a3"/>
<rect x="425" y="375.1" width="1" height="27.9" fill="#eba3a3"/>
<rect x="426" y="373.4" width="1" height="29.6" fill="#eba3a3"/>
<rect x="427" y="373.9" width="1" height="29.1" fill="#eba3a3"/>
<rect x="428" y="383.3" width="1" height="19.7" fill="#a9a9a9"/>
<rect x="429" y="379.8" width="1" height="23.2" fill="#eba3a3"/>
<rect x="430" y="378.8" width="1" height="24.2" fill="#eba3a3"/>
<rect x="431" y="374.1" width="1" height="28.9" fill="#eba3a3"/>
<rect x="432" y="374.5" width="1" height="28.5" fill="#eba3a3"/>
<rect x="433" y="373.5" width="1" height="29.5" fill="#eba3a3"/>
<rect x="434" y="378.6" width="1" height="24.4" fill="#eba3a3"/>
<rect x="435" y="381.0" width="1" height="22.0" fill="#a9a9a9"/>
<rect x="436" y="381.9" width="1" height="21.1" fill="#a9a9a9"/>
<rect x="437" y="381.9" width="1" height="21.1" fill="#a9a9a9"/>
<rect x="438" y="374.4" width="1" height="28.6" fill="#eba3a3"/>
<rect x="439" y="372.6" width="1" height="30.4" fill="#eba3a3"/>
<rect x="440" y="373.8" width="1" height="29.2" fill="#eba3a3"/>
<rect x="441" y="379.4" width="1" height="23.6" fill="#eba3a3"/>
<rect x="442" y="372.5" width="1" height="30.5" fill="#eba3a3"/>
<rect x="443" y="370.8" width="1" height="32.2" fill="#eba3a3"/>
<rect x="444" y="379.1" width="1" height="23.9" fill="#a9a9a9"/>
<rect x="445" y="376.9" width="1" height="26.1" fill="#a9a9a9"/>
<rect x="446" y="372.7" width="1" height="30.3" fill="#a9a9a9"/>
<rect x="447" y="370.9" width="1" height="32.1" fill="#a9a9a9"/>
<rect x="448" y="373.1" width="1" height="29.9" fill="#a9a9a9"/>
<rect x="449" y="371.2" width="1" height="31.8" fill="#a9a9a9"/>
<rect x="450" y="377.2" width="1" height="25.8" fill="#eba3a3"/>
<rect x="451" y="377.3" width="1" height="25.7" fill="#eba3a3"/>
<rect x="452" y="378.0" width="1" height="25.0" fill="#eba3a3"/>
<rect x="453" y="374.2" width="1" height="28.8" fill="#eba3a3"/>
<rect x="454" y="373.1" width="1" height="29.9" fill="#eba3a3"/>
<rect x="455" y="372.2" width="1" height="30.8" fill="#a9a9a9"/>
<rect x="456" y="373.5" width="1" height="29.5" fill="#a9a9a9"/>
<rect x="457" y="384.6" width="1" height="18.4" fill="#a9a9a9"/>
<rect x="458" y="385.1" width="1" height="17.9" fill="#a9a9a9"/>
<rect x="459" y="385.7" width="1" height="17.3" fill="#a9a9a9"/>
<rect x="460" y="383.8" width="1" height="19.2" fill="#a9a9a9"/>
<rect x="461" y="375.8" width="1" height="27.2" fill="#a9a9a9"/>
<rect x="462" y="378.0" width="1" height="25.0" fill="#a9a9a9"/>
<rect x="463" y="376.8" width="1" height="26.2" fill="#a9a9a9"/>
<rect x="464" y="372.5" width="1" height="30.5" fill="#eba3a3"/>
<rect x="465" y="373.5" width="1" height="29.5" fill="#eba3a3"/>
<rect x="466" y="376.0" width="1" height="27.0" fill="#a9a9a9"/>
<rect x="467" y="374.8" width="1" height="28.2" fill="#a9a9a9"/>
<rect x="468" y="380.4" width="1" height="22.6" fill="#a9a9a9"/>
<rect x="469" y="380.6" width="1" height="22.4" fill="#a9a9a9"/>
<rect x="470" y="381.6" width="1" height="21.4" fill="#a9a9a9"/>
<rect x="471" y="381.0" width="1" height="22.0" fill="#a9a9a9"/>
<rect x="472" y="373.3" width="1" height="29.7" fill="#a9a9a9"/>
<rect x="473" y="371.4" width="1" height="31.6" fill="#a9a9a9"/>
<rect x="474" y="375.4" width="1" height="27.6" fill="#eba3a3"/>
<rect x="475" y="379.6" width="1" height="23.4" fill="#eba3a3"/>
<rect x="476" y="379.2" width="1" height="23.8" fill="#eba3a3"/>
<rect x="477" y="378.2" width="1" height="24.8" fill="#eba3a3"/>
<rect x="478" y="370.7" width="1" height="32.3" fill="#a9a9a9"/>
<rect x="479" y="369.5" width="1" height="33.5" fill="#a9a9a9"/>
<rect x="480" y="373.0" width="1" height="30.0" fill="#a9a9a9"/>
<rect x="481" y="372.1" width="1" height="30.9" fill="#a9a9a9"/>
<rect x="482" y="383.4" width="1" height="19.6" fill="#eba3a3"/>
<rect x="483" y="385.3" width="1" height="17.7" fill="#eba3a3"/>
<rect x="484" y="382.8" width="1" height="20.2" fill="#eba3a3"/>
<rect x="485" y="374.8" width="1" height="28.2" fill="#eba3a3"/>
<rect x="486" y="372.4" width="1" height="30.6" fill="#eba3a3"/>
<rect x="487" y="373.9" width="1" height="29.1" fill="#eba3a3"/>
<rect x="488" y="373.3" width="1" height="29.7" fill="#a9a9a9"/>
<rect x="489" y="373.0" width="1" height="30.0" fill="#a9a9a9"/>
<rect x="490" y="373.4" width="1" height="29.6" fill="#a9a9a9"/>
<rect x="491" y="373.9" width="1" height="29.1" fill="#a9a9a9"/>
<rect x="492" y="373.4" width="1" height="29.6" fill="#eba3a3"/>
<rect x="493" y="372.6" width="1" height="30.4" fill="#eba3a3"/>
<rect x="494" y="371.8" width="1" height="31.2" fill="#a9a9a9"/>
<rect x="495" y="371.0" width="1" height="32.0" fill="#a9a9a9"/>
<rect x="496" y="371.8" width="1" height="31.2" fill="#a9a9a9"/>
<rect x="497" y="385.4" width="1" height="17.6" fill="#eba3a3"/>
<rect x="498" y="383.8" width="1" height="19.2" fill="#eba3a3"/>
<rect x="499" y="386.1" width="1" height="16.9" fill="#eba3a3"/>
<rect x="500" y="364.1" width="1" height="38.9" fill="#a9a9a9"/>
<rect x="501" y="364.2" width="1" height="38.8" fill="#a9a9a9"/>
<rect x="502" y="364.9" width="1" height="38.1" fill="#a9a9a9"/>
<rect x="503" y="365.0" width="1" height="38.0" fill="#a9a9a9"/>
<rect x="504" y="385.7" width="1" height="17.3" fill="#a9a9a9"/>
<rect x="505" y="383.1" width="1" height="19.9" fill="#a9a9a9"/>
<rect x="506" y="381.8" width="1" height="21.2" fill="#a9a9a9"/>
<rect x="507" y="384.0" width="1" height="19.0" fill="#a9a9a9"/>
<rect x="508" y="376.8" width="1" height="26.2" fill="#a9a9a9"/>
<rect x="509" y="376.0" width="1" height="27.0" fill="#a9a9a9"/>
<rect x="510" y="382.7" width="1" height="20.3" fill="#a9a9a9"/>
<rect x="511" y="382.9" width="1" height="20.1" fill="#a9a9a9"/>
<rect x="512" y="381.3" width="1" height="21.7" fill="#a9a9a9"/>
<rect x="513" y="381.4" width="1" height="21.6" fill="#a9a9a9"/>
<rect x="514" y="383.1" width="1" height="19.9" fill="#eba3a3"/>
<rect x="515" y="383.6" width="1" height="19.4" fill="#eba3a3"/>
<rect x="516" y="383.6" width="1" height="19.4" fill="#eba3a3"/>
<rect x="517" y="362.0" width="1" height="41.0" fill="#eba3a3"/>
<rect x="518" y="362.0" width="1" height="41.0" fill="#eba3a3"/>
<rect x="519" y="371.9" width="1" height="31.1" fill="#a9a9a9"/>
<rect x="520" y="370.1" width="1" height="32.9" fill="#a9a9a9"/>
<rect x="521" y="368.5" width="1" height="34.5" fill="#a9a9a9"/>
<rect x="522" y="370.2" width="1" height="32.8" fill="#a9a9a9"/>
<rect x="523" y="370.3" width="1" height="32.7" fill="#a9a9a9"/>
<rect x="524" y="367.7" width="1" height="35.3" fill="#a9a9a9"/>
<rect x="525" y="369.7" width="1" height="33.3" fill="#eba3a3"/>
<rect x="526" y="369.2" width="1" height="33.8" fill="#eba3a3"/>
<rect x="527" y="375.6" width="1" height="27.4" fill="#a9a9a9"/>
<rect x="528" y="354.0" width="1" height="49.0" fill="#a9a9a9"/>
<rect x="529" y="354.0" width="1" height="49.0" fill="#eba3a3"/>
<rect x="530" y="371.2" width="1" height="31.8" fill="#eba3a3"/>
<rect x="531" y="375.8" width="1" height="27.2" fill="#a9a9a9"/>
<rect x="532" y="377.2" width="1" height="25.8" fill="#a9a9a9"/>
<rect x="533" y="375.2" width="1" height="27.8" fill="#eba3a3"/>
<rect x="534" y="373.9" width="1" height="29.1" fill="#eba3a3"/>
<rect x="535" y="375.5" width="1" height="27.5" fill="#eba3a3"/>
<rect x="536" y="368.3" width="1" height="34.7" fill="#a9a9a9"/>
<rect x="537" y="367.8" width="1" height="35.2" fill="#a9a9a9"/>
<rect x="538" y="368.4" width="1" height="34.6" fill="#a9a9a9"/>
<rect x="539" y="370.1" width="1" height="32.9" fill="#a9a9a9"/>
<rect x="540" y="375.8" width="1" height="27.2" fill="#eba3a3"/>
<rect x="541" y="376.3" width="1" height="26.7" fill="#a9a9a9"/>
<rect x="542" y="376.5" width="1" height="26.5" fill="#a9a9a9"/>
<rect x="543" y="371.0" width="1" height="32.0" fill="#eba3a3"/>
<rect x="544" y="369.8" width="1" height="33.2" fill="#eba3a3"/>
<rect x="545" y="375.0" width="1" height="28.0" fill="#a9a9a9"/>
<rect x="546" y="373.7" width="1" height="29.3" fill="#a9a9a9"/>
<rect x="547" y="374.3" width="1" height="28.7" fill="#a9a9a9"/>
<rect x="548" y="373.6" width="1" height="29.4" fill="#a9a9a9"/>
<rect x="549" y="378.9" width="1" height="24.1" fill="#a9a9a9"/>
<rect x="550" y="378.0" width="1" height="25.0" fill="#a9a9a9"/>
<rect x="551" y="377.8" width="1" height="25.2" fill="#a9a9a9"/>
<rect x="552" y="376.2" width="1" height="26.8" fill="#a9a9a9"/>
<rect x="553" y="374.2" width="1" height="28.8" fill="#a9a9a9"/>
<rect x="554" y="374.9" width="1" height="28.1" fill="#a9a9a9"/>
<rect x="555" y="376.3" width="1" height="26.7" fill="#eba3a3"/>
<rect x="556" y="377.9" width="1" height="25.1" fill="#eba3a3"/>
<rect x="557" y="377.7" width="1" height="25.3" fill="#eba3a3"/>
<rect x="558" y="378.2" width="1" height="24.8" fill="#a9a9a9"/>
<rect x="559" y="379.2" width="1" height="23.8" fill="#a9a9a9"/>
<rect x="560" y="378.6" width="1" height="24.4" fill="#a9a9a9"/>
<rect x="561" y="377.0" width="1" height="26.0" fill="#eba3a3"/>
<rect x="562" y="376.3" width="1" height="26.7" fill="#eba3a3"/>
<rect x="563" y="378.1" width="1" height="24.9" fill="#a9a9a9"/>
<rect x="564" y="377.3" width="1" height="25.7" fill="#a9a9a9"/>
<rect x="565" y="377.0" width="1" height="26.0" fill="#a9a9a9"/>
<rect x="566" y="376.2" width="1" height="26.8" fill="#a9a9a9"/>
<rect x="567" y="371.3" width="1" height="31.7" fill="#eba3a3"/>
<rect x="568" y="369.5" width="1" height="33.5" fill="#eba3a3"/>
<rect x="569" y="374.3" width="1" height="28.7" fill="#eba3a3"/>
<rect x="570" y="374.1" width="1" height="28.9" fill="#eba3a3"/>
<rect x="571" y="373.2" width="1" height="29.8" fill="#eba3a3"/>
<rect x="572" y="372.5" width="1" height="30.5" fill="#eba3a3"/>
<rect x="573" y="371.8" width="1" height="31.2" fill="#a9a9a9"/>
<rect x="574" y="370.5" width="1" height="32.5" fill="#a9a9a9"/>
<rect x="575" y="373.0" width="1" height="30.0" fill="#a9a9a9"/>
<rect x="576" y="371.7" width="1" height="31.3" fill="#a9a9a9"/>
<rect x="577" y="375.8" width="1" height="27.2" fill="#eba3a3"/>
<rect x="578" y="377.2" width="1" height="25.8" fill="#eba3a3"/>
<rect x="579" y="372.0" width="1" height="31.0" fill="#eba3a3"/>
<rect x="580" y="371.7" width="1" height="31.3" fill="#eba3a3"/>
<rect x="581" y="371.8" width="1" height="31.2" fill="#eba3a3"/>
<rect x="582" y="377.6" width="1" height="25.4" fill="#a9a9a9"/>
<rect x="583" y="377.4" width="1" height="25.6" fill="#a9a9a9"/>
<rect x="584" y="376.4" width="1" height="26.6" fill="#a9a9a9"/>
<rect x="585" y="377.4" width="1" height="25.6" fill="#a9a9a9"/>
<rect x="586" y="372.0" width="1" height="31.0" fill="#a9a9a9"/>
<rect x="587" y="374.3" width="1" height="28.7" fill="#eba3a3"/>
<rect x="588" y="373.7" width="1" height="29.3" fill="#eba3a3"/>
<rect x="589" y="379.7" width="1" height="23.3" fill="#a9a9a9"/>
<rect x="590" y="378.8" width="1" height="24.2" fill="#a9a9a9"/>
<rect x="591" y="381.2" width="1" height="21.8" fill="#a9a9a9"/>
<rect x="592" y="381.4" width="1" height="21.6" fill="#a9a9a9"/>
<rect x="593" y="376.5" width="1" height="26.5" fill="#eba3a3"/>
<rect x="594" y="354.0" width="1" height="49.0" fill="#eba3a3"/>
<rect x="595" y="354.0" width="1" height="49.0" fill="#eba3a3"/>
<rect x="596" y="378.6" width="1" height="24.4" fill="#eba3a3"/>
<rect x="597" y="379.8" width="1" height="23.2" fill="#eba3a3"/>
<rect x="598" y="379.0" width="1" height="24.0" fill="#eba3a3"/>
<rect x="599" y="375.9" width="1" height="27.1" fill="#eba3a3"/>
<rect x="600" y="375.5" width="1" height="27.5" fill="#eba3a3"/>
<rect x="601" y="375.6" width="1" height="27.4" fill="#eba3a3"/>
<rect x="602" y="374.5" width="1" height="28.5" fill="#eba3a3"/>
<rect x="603" y="367.9" width="1" height="35.1" fill="#eba3a3"/>
<rect x="604" y="368.8" width="1" height="34.2" fill="#eba3a3"/>
<rect x="605" y="367.7" width="1" height="35.3" fill="#eba3a3"/>
<rect x="606" y="373.6" width="1" height="29.4" fill="#eba3a3"/>
<rect x="607" y="373.7" width="1" height="29.3" fill="#eba3a3"/>
<rect x="608" y="369.0" width="1" height="34.0" fill="#eba3a3"/>
<rect x="609" y="371.2" width="1" height="31.8" fill="#eba3a3"/>
<rect x="610" y="369.4" width="1" height="33.6" fill="#eba3a3"/>
<rect x="611" y="370.7" width="1" height="32.3" fill="#eba3a3"/>
<rect x="612" y="371.6" width="1" height="31.4" fill="#eba3a3"/>
<rect x="613" y="372.1" width="1" height="30.9" fill="#eba3a3"/>
<rect x="614" y="372.1" width="1" height="30.9" fill="#eba3a3"/>
<rect x="615" y="379.5" width="1" height="23.5" fill="#a9a9a9"/>
<rect x="616" y="378.5" width="1" height="24.5" fill="#a9a9a9"/>
<rect x="617" y="379.5" width="1" height="23.5" fill="#a9a9a9"/>
<rect x="618" y="373.0" width="1" height="30.0" fill="#eba3a3"/>
<rect x="619" y="372.3" width="1" height="30.7" fill="#eba3a3"/>
<rect x="620" y="379.6" width="1" height="23.4" fill="#a9a9a9"/>
<rect x="621" y="374.5" width="1" height="28.5" fill="#eba3a3"/>
<rect x="622" y="373.6" width="1" height="29.4" fill="#eba3a3"/>
<rect x="623" y="370.0" width="1" height="33.0" fill="#a9a9a9"/>
<rect x="624" y="369.7" width="1" height="33.3" fill="#a9a9a9"/>
<rect x="625" y="373.3" width="1" height="29.7" fill="#eba3a3"/>
<rect x="626" y="372.0" width="1" height="31.0" fill="#eba3a3"/>
<rect x="627" y="370.4" width="1" height="32.6" fill="#a9a9a9"/>
<rect x="628" y="373.5" width="1" height="29.5" fill="#eba3a3"/>
<rect x="629" y="374.0" width="1" height="29.0" fill="#eba3a3"/>
<rect x="630" y="381.3" width="1" height="21.7" fill="#eba3a3"/>
<rect x="631" y="381.0" width="1" height="22.0" fill="#eba3a3"/>
<rect x="632" y="381.7" width="1" height="21.3" fill="#eba3a3"/>
<rect x="633" y="370.9" width="1" height="32.1" fill="#a9a9a9"/>
<rect x="634" y="371.5" width="1" height="31.5" fill="#a9a9a9"/>
<rect x="635" y="370.6" width="1" height="32.4" fill="#a9a9a9"/>
<rect x="636" y="371.9" width="1" height="31.1" fill="#a9a9a9"/>
<rect x="637" y="373.8" width="1" height="29.2" fill="#eba3a3"/>
<rect x="638" y="374.0" width="1" height="29.0" fill="#eba3a3"/>
<rect x="639" y="373.8" width="1" height="29.2" fill="#eba3a3"/>
<rect x="640" y="371.8" width="1" height="31.2" fill="#a9a9a9"/>
<rect x="641" y="372.2" width="1" height="30.8" fill="#a9a9a9"/>
<rect x="642" y="375.0" width="1" height="28.0" fill="#a9a9a9"/>
<rect x="643" y="375.6" width="1" height="27.4" fill="#a9a9a9"/>
<rect x="644" y="381.0" width="1" height="22.0" fill="#eba3a3"/>
<rect x="645" y="381.6" width="1" height="21.4" fill="#eba3a3"/>
<rect x="646" y="377.8" width="1" height="25.2" fill="#eba3a3"/>
<rect x="647" y="376.0" width="1" height="27.0" fill="#eba3a3"/>
<rect x="648" y="378.0" width="1" height="25.0" fill="#eba3a3"/>
<rect x="649" y="376.6" width="1" height="26.4" fill="#eba3a3"/>
<rect x="650" y="369.8" width="1" height="33.2" fill="#a9a9a9"/>
<rect x="651" y="368.9" width="1" height="34.1" fill="#a9a9a9"/>
<rect x="42" y="365.7" width="0.6" height="37.3" fill="#b88" opacity="0.5"/>
<rect x="47" y="378.5" width="0.6" height="24.5" fill="#b88" opacity="0.5"/>
<rect x="52" y="383.8" width="0.6" height="19.2" fill="#b88" opacity="0.5"/>
<rect x="57" y="379.6" width="0.6" height="23.4" fill="#b88" opacity="0.5"/>
<rect x="62" y="375.6" width="0.6" height="27.4" fill="#b88" opacity="0.5"/>
<rect x="67" y="381.9" width="0.6" height="21.1" fill="#b88" opacity="0.5"/>
<rect x="72" y="381.9" width="0.6" height="21.1" fill="#b88" opacity="0.5"/>
<rect x="77" y="377.5" width="0.6" height="25.5" fill="#b88" opacity="0.5"/>
<rect x="82" y="373.7" width="0.6" height="29.3" fill="#b88" opacity="0.5"/>
<rect x="87" y="379.9" width="0.6" height="23.1" fill="#b88" opacity="0.5"/>
<rect x="92" y="366.4" width="0.6" height="36.6" fill="#b88" opacity="0.5"/>
<rect x="97" y="374.7" width="0.6" height="28.3" fill="#b88" opacity="0.5"/>
<rect x="102" y="376.9" width="0.6" height="26.1" fill="#b88" opacity="0.5"/>
<rect x="107" y="378.0" width="0.6" height="25.0" fill="#b88" opacity="0.5"/>
<rect x="112" y="377.6" width="0.6" height="25.4" fill="#b88" opacity="0.5"/>
<rect x="117" y="368.8" width="0.6" height="34.2" fill="#b88" opacity="0.5"/>
<rect x="122" y="383.6" width="0.6" height="19.4" fill="#b88" opacity="0.5"/>
<rect x="127" y="376.5" width="0.6" height="26.5" fill="#b88" opacity="0.5"/>
<rect x="132" y="385.3" width="0.6" height="17.7" fill="#b88" opacity="0.5"/>
<rect x="137" y="386.9" width="0.6" height="16.1" fill="#b88" opacity="0.5"/>
<rect x="142" y="382.9" width="0.6" height="20.1" fill="#b88" opacity="0.5"/>
<rect x="147" y="387.0" width="0.6" height="16.0" fill="#b88" opacity="0.5"/>
<rect x="152" y="375.7" width="0.6" height="27.3" fill="#b88" opacity="0.5"/>
<rect x="157" y="379.0" width="0.6" height="24.0" fill="#b88" opacity="0.5"/>
<rect x="162" y="383.1" width="0.6" height="19.9" fill="#b88" opacity="0.5"/>
<rect x="167" y="383.9" width="0.6" height="19.1" fill="#b88" opacity="0.5"/>
<rect x="172" y="378.2" width="0.6" height="24.8" fill="#b88" opacity="0.5"/>
<rect x="177" y="375.9" width="0.6" height="27.1" fill="#b88" opacity="0.5"/>
<rect x="182" y="384.9" width="0.6" height="18.1" fill="#b88" opacity="0.5"/>
<rect x="187" y="377.5" width="0.6" height="25.5" fill="#b88" opacity="0.5"/>
<rect x="192" y="378.4" width="0.6" height="24.6" fill="#b88" opacity="0.5"/>
<rect x="197" y="374.7" width="0.6" height="28.3" fill="#b88" opacity="0.5"/>
<rect x="202" y="371.7" width="0.6" height="31.3" fill="#b88" opacity="0.5"/>
<rect x="207" y="374.1" width="0.6" height="28.9" fill="#b88" opacity="0.5"/>
<rect x="212" y="386.1" width="0.6" height="16.9" fill="#b88" opacity="0.5"/>
<rect x="217" y="384.4" width="0.6" height="18.6" fill="#b88" opacity="0.5"/>
<rect x="222" y="375.8" width="0.6" height="27.2" fill="#b88" opacity="0.5"/>
<rect x="227" y="383.0" width="0.6" height="20.0" fill="#b88" opacity="0.5"/>
<rect x="232" y="373.7" width="0.6" height="29.3" fill="#b88" opacity="0.5"/>
<rect x="237" y="376.0" width="0.6" height="27.0" fill="#b88" opacity="0.5"/>
<rect x="242" y="386.2" width="0.6" height="16.8" fill="#b88" opacity="0.5"/>
<rect x="247" y="378.2" width="0.6" height="24.8" fill="#b88" opacity="0.5"/>
<rect x="252" y="385.2" width="0.6" height="17.8" fill="#b88" opacity="0.5"/>
<rect x="257" y="376.7" width="0.6" height="26.3" fill="#b88" opacity="0.5"/>
<rect x="262" y="384.6" width="0.6" height="18.4" fill="#b88" opacity="0.5"/>
<rect x="267" y="386.6" width="0.6" height="16.4" fill="#b88" opacity="0.5"/>
<rect x="272" y="388.2" width="0.6" height="14.8" fill="#b88" opacity="0.5"/>
<rect x="277" y="377.8" width="0.6" height="25.2" fill="#b88" opacity="0.5"/>
<rect x="282" y="378.4" width="0.6" height="24.6" fill="#b88" opacity="0.5"/>
<rect x="287" y="381.7" width="0.6" height="21.3" fill="#b88" opacity="0.5"/>
<rect x="292" y="380.2" width="0.6" height="22.8" fill="#b88" opacity="0.5"/>
<rect x="297" y="375.1" width="0.6" height="27.9" fill="#b88" opacity="0.5"/>
<rect x="302" y="381.6" width="0.6" height="21.4" fill="#b88" opacity="0.5"/>
<rect x="307" y="379.3" width="0.6" height="23.7" fill="#b88" opacity="0.5"/>
<rect x="312" y="373.3" width="0.6" height="29.7" fill="#b88" opacity="0.5"/>
<rect x="317" y="374.8" width="0.6" height="28.2" fill="#b88" opacity="0.5"/>
<rect x="322" y="381.3" width="0.6" height="21.7" fill="#b88" opacity="0.5"/>
<rect x="327" y="380.9" width="0.6" height="22.1" fill="#b88" opacity="0.5"/>
<rect x="332" y="379.1" width="0.6" height="23.9" fill="#b88" opacity="0.5"/>
<rect x="337" y="380.0" width="0.6" height="23.0" fill="#b88" opacity="0.5"/>
<rect x="342" y="375.8" width="0.6" height="27.2" fill="#b88" opacity="0.5"/>
<rect x="347" y="380.6" width="0.6" height="22.4" fill="#b88" opacity="0.5"/>
<rect x="352" y="374.3" width="0.6" height="28.7" fill="#b88" opacity="0.5"/>
<rect x="357" y="361.4" width="0.6" height="41.6" fill="#b88" opacity="0.5"/>
<rect x="362" y="372.3" width="0.6" height="30.7" fill="#b88" opacity="0.5"/>
<rect x="367" y="373.7" width="0.6" height="29.3" fill="#b88" opacity="0.5"/>
<rect x="372" y="383.9" width="0.6" height="19.1" fill="#b88" opacity="0.5"/>
<rect x="377" y="381.2" width="0.6" height="21.8" fill="#b88" opacity="0.5"/>
<rect x="382" y="374.9" width="0.6" height="28.1" fill="#b88" opacity="0.5"/>
<rect x="387" y="376.5" width="0.6" height="26.5" fill="#b88" opacity="0.5"/>
<rect x="392" y="371.6" width="0.6" height="31.4" fill="#b88" opacity="0.5"/>
<rect x="397" y="374.9" width="0.6" height="28.1" fill="#b88" opacity="0.5"/>
<rect x="402" y="378.0" width="0.6" height="25.0" fill="#b88" opacity="0.5"/>
<rect x="407" y="377.8" width="0.6" height="25.2" fill="#b88" opacity="0.5"/>
<rect x="412" y="371.4" width="0.6" height="31.6" fill="#b88" opacity="0.5"/>
<rect x="417" y="368.9" width="0.6" height="34.1" fill="#b88" opacity="0.5"/>
<rect x="422" y="382.8" width="0.6" height="20.2" fill="#b88" opacity="0.5"/>
<rect x="427" y="373.9" width="0.6" height="29.1" fill="#b88" opacity="0.5"/>
<rect x="432" y="374.5" width="0.6" height="28.5" fill="#b88" opacity="0.5"/>
<rect x="437" y="381.9" width="0.6" height="21.1" fill="#b88" opacity="0.5"/>
<rect x="442" y="372.5" width="0.6" height="30.5" fill="#b88" opacity="0.5"/>
<rect x="447" y="370.9" width="0.6" height="32.1" fill="#b88" opacity="0.5"/>
<rect x="452" y="378.0" width="0.6" height="25.0" fill="#b88" opacity="0.5"/>
<rect x="457" y="384.6" width="0.6" height="18.4" fill="#b88" opacity="0.5"/>
<rect x="462" y="378.0" width="0.6" height="25.0" fill="#b88" opacity="0.5"/>
<rect x="467" y="374.8" width="0.6" height="28.2" fill="#b88" opacity="0.5"/>
<rect x="472" y="373.3" width="0.6" height="29.7" fill="#b88" opacity="0.5"/>
<rect x="477" y="378.2" width="0.6" height="24.8" fill="#b88" opacity="0.5"/>
<rect x="482" y="383.4" width="0.6" height="19.6" fill="#b88" opacity="0.5"/>
<rect x="487" y="373.9" width="0.6" height="29.1" fill="#b88" opacity="0.5"/>
<rect x="492" y="373.4" width="0.6" height="29.6" fill="#b88" opacity="0.5"/>
<rect x="497" y="385.4" width="0.6" height="17.6" fill="#b88" opacity="0.5"/>
<rect x="502" y="364.9" width="0.6" height="38.1" fill="#b88" opacity="0.5"/>
<rect x="507" y="384.0" width="0.6" height="19.0" fill="#b88" opacity="0.5"/>
<rect x="512" y="381.3" width="0.6" height="21.7" fill="#b88" opacity="0.5"/>
<rect x="517" y="362.0" width="0.6" height="41.0" fill="#b88" opacity="0.5"/>
<rect x="522" y="370.2" width="0.6" height="32.8" fill="#b88" opacity="0.5"/>
<rect x="527" y="375.6" width="0.6" height="27.4" fill="#b88" opacity="0.5"/>
<rect x="532" y="377.2" width="0.6" height="25.8" fill="#b88" opacity="0.5"/>
<rect x="537" y="367.8" width="0.6" height="35.2" fill="#b88" opacity="0.5"/>
<rect x="542" y="376.5" width="0.6" height="26.5" fill="#b88" opacity="0.5"/>
<rect x="547" y="374.3" width="0.6" height="28.7" fill="#b88" opacity="0.5"/>
<rect x="552" y="376.2" width="0.6" height="26.8" fill="#b88" opacity="0.5"/>
<rect x="557" y="377.7" width="0.6" height="25.3" fill="#b88" opacity="0.5"/>
<rect x="562" y="376.3" width="0.6" height="26.7" fill="#b88" opacity="0.5"/>
<rect x="567" y="371.3" width="0.6" height="31.7" fill="#b88" opacity="0.5"/>
<rect x="572" y="372.5" width="0.6" height="30.5" fill="#b88" opacity="0.5"/>
<rect x="577" y="375.8" width="0.6" height="27.2" fill="#b88" opacity="0.5"/>
<rect x="582" y="377.6" width="0.6" height="25.4" fill="#b88" opacity="0.5"/>
<rect x="587" y="374.3" width="0.6" height="28.7" fill="#b88" opacity="0.5"/>
<rect x="592" y="381.4" width="0.6" height="21.6" fill="#b88" opacity="0.5"/>
<rect x="597" y="379.8" width="0.6" height="23.2" fill="#b88" opacity="0.5"/>
<rect x="602" y="374.5" width="0.6" height="28.5" fill="#b88" opacity="0.5"/>
<rect x="607" y="373.7" width="0.6" height="29.3" fill="#b88" opacity="0.5"/>
<rect x="612" y="371.6" width="0.6" height="31.4" fill="#b88" opacity="0.5"/>
<rect x="617" y="379.5" width="0.6" height="23.5" fill="#b88" opacity="0.5"/>
<rect x="622" y="373.6" width="0.6" height="29.4" fill="#b88" opacity="0.5"/>
<rect x="627" y="370.4" width="0.6" height="32.6" fill="#b88" opacity="0.5"/>
<rect x="632" y="381.7" width="0.6" height="21.3" fill="#b88" opacity="0.5"/>
<rect x="637" y="373.8" width="0.6" height="29.2" fill="#b88" opacity="0.5"/>
<rect x="642" y="375.0" width="0.6" height="28.0" fill="#b88" opacity="0.5"/>
<rect x="647" y="376.0" width="0.6" height="27.0" fill="#b88" opacity="0.5"/>
<path d="M41.0,369.0 C44.2,368.8 53.3,369.3 60.0,368.0 C66.7,366.7 74.3,364.0 81.0,361.0 C87.7,358.0 93.7,355.5 100.0,350.0 C106.3,344.5 113.2,334.7 119.0,328.0 C124.8,321.3 129.8,316.3 135.0,310.0 C140.2,303.7 143.7,298.0 150.0,290.0 C156.3,282.0 164.5,273.2 173.0,262.0 C181.5,250.8 194.5,230.0 201.0,223.0 C207.5,216.0 208.2,219.7 212.0,220.0 C215.8,220.3 220.3,223.3 224.0,225.0 C227.7,226.7 227.8,228.0 234.0,230.0 C240.2,232.0 251.2,235.0 261.0,237.0 C270.8,239.0 285.7,239.7 293.0,242.0 C300.3,244.3 301.2,248.7 305.0,251.0 C308.8,253.3 311.8,254.2 316.0,256.0 C320.2,257.8 324.7,260.2 330.0,262.0 C335.3,263.8 342.8,266.3 348.0,267.0 C353.2,267.7 357.3,266.8 361.0,266.0 C364.7,265.2 365.7,264.7 370.0,262.0 C374.3,259.3 380.5,254.8 387.0,250.0 C393.5,245.2 398.5,237.8 409.0,233.0 C419.5,228.2 440.5,224.5 450.0,221.0 C459.5,217.5 458.8,215.2 466.0,212.0 C473.2,208.8 485.8,204.7 493.0,202.0 C500.2,199.3 503.3,197.2 509.0,196.0 C514.7,194.8 521.8,194.5 527.0,195.0 C532.2,195.5 533.5,197.2 540.0,199.0 C546.5,200.8 557.2,202.5 566.0,206.0 C574.8,209.5 584.2,215.2 593.0,220.0 C601.8,224.8 610.2,230.2 619.0,235.0 C627.8,239.8 640.7,246.5 646.0,249.0 C651.3,251.5 650.2,249.8 651.0,250.0" fill="none" stroke="#b0103c" stroke-width="1"/>
<path d="M50.0,405.0 C50.3,403.7 51.0,403.0 52.0,397.0 C53.0,391.0 54.3,376.8 56.0,369.0 C57.7,361.2 59.8,356.8 62.0,350.0 C64.2,343.2 66.5,338.5 69.0,328.0 C71.5,317.5 74.2,297.8 77.0,287.0 C79.8,276.2 82.7,269.0 86.0,263.0 C89.3,257.0 93.7,253.5 97.0,251.0 C100.3,248.5 103.3,247.8 106.0,248.0 C108.7,248.2 110.8,252.3 113.0,252.0 C115.2,251.7 116.0,249.8 119.0,246.0 C122.0,242.2 127.3,234.5 131.0,229.0 C134.7,223.5 138.5,218.8 141.0,213.0 C143.5,207.2 143.5,200.5 146.0,194.0 C148.5,187.5 152.3,178.8 156.0,174.0 C159.7,169.2 163.5,165.7 168.0,165.0 C172.5,164.3 179.0,165.8 183.0,170.0 C187.0,174.2 188.5,183.5 192.0,190.0 C195.5,196.5 200.3,201.7 204.0,209.0 C207.7,216.3 211.0,225.2 214.0,234.0 C217.0,242.8 219.2,252.3 222.0,262.0 C224.8,271.7 228.3,283.8 231.0,292.0 C233.7,300.2 235.3,306.0 238.0,311.0 C240.7,316.0 243.8,321.7 247.0,322.0 C250.2,322.3 253.8,317.5 257.0,313.0 C260.2,308.5 263.0,300.3 266.0,295.0 C269.0,289.7 271.7,285.5 275.0,281.0 C278.3,276.5 282.3,272.5 286.0,268.0 C289.7,263.5 293.7,256.7 297.0,254.0 C300.3,251.3 302.2,254.2 306.0,252.0 C309.8,249.8 316.0,242.8 320.0,241.0 C324.0,239.2 326.7,240.0 330.0,241.0 C333.3,242.0 336.3,246.5 340.0,247.0 C343.7,247.5 348.0,245.0 352.0,244.0 C356.0,243.0 360.7,243.5 364.0,241.0 C367.3,238.5 368.8,234.7 372.0,229.0 C375.2,223.3 379.0,211.5 383.0,207.0 C387.0,202.5 391.7,202.0 396.0,202.0 C400.3,202.0 403.3,203.2 409.0,207.0 C414.7,210.8 424.8,222.8 430.0,225.0 C435.2,227.2 435.7,223.8 440.0,220.0 C444.3,216.2 450.7,209.5 456.0,202.0 C461.3,194.5 465.8,180.0 472.0,175.0 C478.2,170.0 487.3,171.5 493.0,172.0 C498.7,172.5 500.3,174.8 506.0,178.0 C511.7,181.2 521.3,185.3 527.0,191.0 C532.7,196.7 536.0,205.8 540.0,212.0 C544.0,218.2 547.5,221.0 551.0,228.0 C554.5,235.0 557.2,246.2 561.0,254.0 C564.8,261.8 568.7,268.2 574.0,275.0 C579.3,281.8 586.8,293.0 593.0,295.0 C599.2,297.0 605.3,290.3 611.0,287.0 C616.7,283.7 622.2,280.0 627.0,275.0 C631.8,270.0 636.0,262.3 640.0,257.0 C644.0,251.7 649.2,245.3 651.0,243.0" fill="none" stroke="#00007a" stroke-width="1"/>
<rect x="41" y="372.4" width="1.6" height="11.0" fill="#a8123c"/>
<rect x="42" y="372.2" width="1.6" height="12.0" fill="#000"/>
<rect x="43" y="369.5" width="1.6" height="14.7" fill="#000"/>
<rect x="44" y="368.1" width="1.6" height="12.6" fill="#a8123c"/>
<rect x="45" y="355.8" width="1.6" height="22.4" fill="#000"/>
<rect x="46" y="339.0" width="1.6" height="24.4" fill="#a8123c"/>
<rect x="47" y="329.0" width="1.6" height="21.6" fill="#000"/>
<rect x="48" y="301.7" width="1.6" height="32.6" fill="#000"/>
<rect x="49" y="269.0" width="1.6" height="43.9" fill="#a8123c"/>
<rect x="50" y="239.0" width="1.6" height="40.7" fill="#000"/>
<rect x="51" y="235.7" width="1.6" height="11.4" fill="#a8123c"/>
<rect x="52" y="234.1" width="1.6" height="9.4" fill="#a8123c"/>
<rect x="53" y="229.0" width="1.6" height="12.3" fill="#000"/>
<rect x="54" y="232.8" width="1.6" height="8.1" fill="#a8123c"/>
<rect x="55" y="237.0" width="1.6" height="11.1" fill="#a8123c"/>
<rect x="56" y="242.1" width="1.6" height="6.3" fill="#000"/>
<rect x="57" y="244.0" width="1.6" height="15.5" fill="#000"/>
<rect x="58" y="251.6" width="1.6" height="12.0" fill="#a8123c"/>
<rect x="59" y="249.6" width="1.6" height="9.7" fill="#000"/>
<rect x="60" y="246.7" width="1.6" height="17.2" fill="#a8123c"/>
<rect x="61" y="251.3" width="1.6" height="8.8" fill="#a8123c"/>
<rect x="62" y="247.2" width="1.6" height="8.2" fill="#a8123c"/>
<rect x="63" y="249.0" width="1.6" height="11.4" fill="#000"/>
<rect x="64" y="243.0" width="1.6" height="16.5" fill="#000"/>
<rect x="65" y="240.8" width="1.6" height="12.4" fill="#a8123c"/>
<rect x="66" y="243.2" width="1.6" height="10.5" fill="#000"/>
<rect x="67" y="240.1" width="1.6" height="11.8" fill="#a8123c"/>
<rect x="68" y="242.4" width="1.6" height="15.3" fill="#000"/>
<rect x="69" y="249.8" width="1.6" height="11.4" fill="#000"/>
<rect x="70" y="243.7" width="1.6" height="19.3" fill="#a8123c"/>
<rect x="71" y="247.9" width="1.6" height="12.3" fill="#a8123c"/>
<rect x="72" y="248.7" width="1.6" height="11.7" fill="#000"/>
<rect x="73" y="248.7" width="1.6" height="17.3" fill="#000"/>
<rect x="74" y="257.0" width="1.6" height="9.6" fill="#a8123c"/>
<rect x="75" y="253.9" width="1.6" height="10.5" fill="#a8123c"/>
<rect x="76" y="256.9" width="1.6" height="13.3" fill="#a8123c"/>
<rect x="77" y="252.2" width="1.6" height="17.8" fill="#000"/>
<rect x="78" y="251.7" width="1.6" height="18.3" fill="#000"/>
<rect x="79" y="260.8" width="1.6" height="9.4" fill="#a8123c"/>
<rect x="80" y="253.2" width="1.6" height="15.6" fill="#a8123c"/>
<rect x="81" y="252.3" width="1.6" height="11.4" fill="#000"/>
<rect x="82" y="254.0" width="1.6" height="11.7" fill="#a8123c"/>
<rect x="83" y="256.0" width="1.6" height="10.7" fill="#000"/>
<rect x="84" y="252.6" width="1.6" height="11.1" fill="#000"/>
<rect x="85" y="253.6" width="1.6" height="12.7" fill="#000"/>
<rect x="86" y="247.4" width="1.6" height="18.6" fill="#a8123c"/>
<rect x="87" y="246.1" width="1.6" height="8.0" fill="#000"/>
<rect x="88" y="239.7" width="1.6" height="8.1" fill="#000"/>
<rect x="89" y="235.2" width="1.6" height="11.5" fill="#000"/>
<rect x="90" y="231.7" width="1.6" height="8.1" fill="#000"/>
<rect x="91" y="233.6" width="1.6" height="10.3" fill="#000"/>
<rect x="92" y="231.5" width="1.6" height="11.5" fill="#a8123c"/>
<rect x="93" y="223.6" width="1.6" height="20.0" fill="#000"/>
<rect x="94" y="207.0" width="1.6" height="27.1" fill="#000"/>
<rect x="95" y="208.1" width="1.6" height="18.3" fill="#a8123c"/>
<rect x="96" y="221.8" width="1.6" height="10.0" fill="#a8123c"/>
<rect x="97" y="222.6" width="1.6" height="8.7" fill="#000"/>
<rect x="98" y="227.3" width="1.6" height="10.9" fill="#000"/>
<rect x="99" y="226.1" width="1.6" height="18.8" fill="#000"/>
<rect x="100" y="229.3" width="1.6" height="12.0" fill="#a8123c"/>
<rect x="101" y="228.5" width="1.6" height="21.1" fill="#a8123c"/>
<rect x="102" y="240.8" width="1.6" height="8.0" fill="#000"/>
<rect x="103" y="231.8" width="1.6" height="13.1" fill="#000"/>
<rect x="104" y="235.7" width="1.6" height="22.0" fill="#a8123c"/>
<rect x="105" y="246.3" width="1.6" height="15.4" fill="#000"/>
<rect x="106" y="250.9" width="1.6" height="18.5" fill="#000"/>
<rect x="107" y="256.5" width="1.6" height="18.4" fill="#000"/>
<rect x="108" y="264.9" width="1.6" height="7.6" fill="#000"/>
<rect x="109" y="269.0" width="1.6" height="16.5" fill="#a8123c"/>
<rect x="110" y="272.2" width="1.6" height="9.8" fill="#000"/>
<rect x="111" y="267.8" width="1.6" height="12.2" fill="#a8123c"/>
<rect x="112" y="270.3" width="1.6" height="12.9" fill="#a8123c"/>
<rect x="113" y="259.7" width="1.6" height="19.3" fill="#000"/>
<rect x="114" y="253.3" width="1.6" height="20.5" fill="#a8123c"/>
<rect x="115" y="257.1" width="1.6" height="8.0" fill="#000"/>
<rect x="116" y="256.4" width="1.6" height="8.8" fill="#000"/>
<rect x="117" y="244.1" width="1.6" height="16.9" fill="#000"/>
<rect x="118" y="233.0" width="1.6" height="20.9" fill="#000"/>
<rect x="119" y="227.4" width="1.6" height="16.2" fill="#000"/>
<rect x="120" y="212.0" width="1.6" height="23.9" fill="#000"/>
<rect x="121" y="208.7" width="1.6" height="9.2" fill="#000"/>
<rect x="122" y="207.2" width="1.6" height="24.2" fill="#000"/>
<rect x="123" y="220.2" width="1.6" height="20.5" fill="#a8123c"/>
<rect x="124" y="224.3" width="1.6" height="8.5" fill="#000"/>
<rect x="125" y="221.8" width="1.6" height="8.9" fill="#a8123c"/>
<rect x="126" y="215.1" width="1.6" height="10.9" fill="#000"/>
<rect x="127" y="192.2" width="1.6" height="18.8" fill="#a8123c"/>
<rect x="128" y="193.6" width="1.6" height="9.2" fill="#000"/>
<rect x="129" y="176.4" width="1.6" height="18.6" fill="#a8123c"/>
<rect x="130" y="166.8" width="1.6" height="17.9" fill="#000"/>
<rect x="131" y="162.6" width="1.6" height="14.1" fill="#a8123c"/>
<rect x="132" y="151.9" width="1.6" height="24.5" fill="#a8123c"/>
<rect x="133" y="144.0" width="1.6" height="14.6" fill="#a8123c"/>
<rect x="134" y="144.2" width="1.6" height="14.8" fill="#000"/>
<rect x="135" y="151.2" width="1.6" height="10.6" fill="#a8123c"/>
<rect x="136" y="150.4" width="1.6" height="11.9" fill="#000"/>
<rect x="137" y="156.0" width="1.6" height="18.7" fill="#a8123c"/>
<rect x="138" y="154.2" width="1.6" height="20.6" fill="#a8123c"/>
<rect x="139" y="152.7" width="1.6" height="15.5" fill="#000"/>
<rect x="140" y="156.2" width="1.6" height="11.4" fill="#a8123c"/>
<rect x="141" y="153.1" width="1.6" height="25.8" fill="#a8123c"/>
<rect x="142" y="159.5" width="1.6" height="20.2" fill="#000"/>
<rect x="143" y="145.0" width="1.6" height="21.7" fill="#000"/>
<rect x="144" y="143.0" width="1.6" height="8.8" fill="#000"/>
<rect x="145" y="145.2" width="1.6" height="10.9" fill="#a8123c"/>
<rect x="146" y="153.4" width="1.6" height="11.5" fill="#a8123c"/>
<rect x="147" y="148.7" width="1.6" height="9.4" fill="#000"/>
<rect x="148" y="142.5" width="1.6" height="14.7" fill="#000"/>
<rect x="149" y="139.7" width="1.6" height="16.9" fill="#000"/>
<rect x="150" y="147.4" width="1.6" height="20.4" fill="#000"/>
<rect x="151" y="160.6" width="1.6" height="10.3" fill="#a8123c"/>
<rect x="152" y="148.0" width="1.6" height="24.3" fill="#000"/>
<rect x="153" y="151.0" width="1.6" height="17.6" fill="#000"/>
<rect x="154" y="155.0" width="1.6" height="12.2" fill="#a8123c"/>
<rect x="155" y="154.1" width="1.6" height="23.9" fill="#000"/>
<rect x="156" y="161.4" width="1.6" height="10.4" fill="#000"/>
<rect x="157" y="167.1" width="1.6" height="12.1" fill="#a8123c"/>
<rect x="158" y="159.0" width="1.6" height="16.8" fill="#000"/>
<rect x="159" y="156.1" width="1.6" height="10.0" fill="#000"/>
<rect x="160" y="158.0" width="1.6" height="13.2" fill="#000"/>
<rect x="161" y="158.1" width="1.6" height="23.1" fill="#a8123c"/>
<rect x="162" y="171.3" width="1.6" height="13.7" fill="#a8123c"/>
<rect x="163" y="181.3" width="1.6" height="6.7" fill="#000"/>
<rect x="164" y="162.4" width="1.6" height="25.3" fill="#000"/>
<rect x="165" y="160.9" width="1.6" height="7.1" fill="#a8123c"/>
<rect x="166" y="157.2" width="1.6" height="28.6" fill="#000"/>
<rect x="167" y="177.1" width="1.6" height="19.7" fill="#a8123c"/>
<rect x="168" y="185.8" width="1.6" height="10.3" fill="#a8123c"/>
<rect x="169" y="186.8" width="1.6" height="9.7" fill="#a8123c"/>
<rect x="170" y="174.1" width="1.6" height="22.3" fill="#000"/>
<rect x="171" y="174.5" width="1.6" height="19.0" fill="#a8123c"/>
<rect x="172" y="171.9" width="1.6" height="20.1" fill="#000"/>
<rect x="173" y="171.6" width="1.6" height="21.6" fill="#000"/>
<rect x="174" y="183.6" width="1.6" height="9.2" fill="#000"/>
<rect x="175" y="182.7" width="1.6" height="7.4" fill="#000"/>
<rect x="176" y="175.6" width="1.6" height="10.8" fill="#a8123c"/>
<rect x="177" y="170.4" width="1.6" height="11.9" fill="#a8123c"/>
<rect x="178" y="170.3" width="1.6" height="14.3" fill="#a8123c"/>
<rect x="179" y="172.1" width="1.6" height="10.0" fill="#000"/>
<rect x="180" y="177.8" width="1.6" height="11.6" fill="#000"/>
<rect x="181" y="179.3" width="1.6" height="13.7" fill="#000"/>
<rect x="182" y="198.5" width="1.6" height="22.6" fill="#000"/>
<rect x="183" y="223.0" width="1.6" height="16.5" fill="#000"/>
<rect x="184" y="226.3" width="1.6" height="11.7" fill="#a8123c"/>
<rect x="185" y="227.6" width="1.6" height="9.7" fill="#a8123c"/>
<rect x="186" y="233.1" width="1.6" height="9.2" fill="#000"/>
<rect x="187" y="231.7" width="1.6" height="12.2" fill="#000"/>
<rect x="188" y="232.0" width="1.6" height="12.9" fill="#000"/>
<rect x="189" y="232.2" width="1.6" height="12.2" fill="#000"/>
<rect x="190" y="227.8" width="1.6" height="11.8" fill="#a8123c"/>
<rect x="191" y="230.3" width="1.6" height="8.8" fill="#a8123c"/>
<rect x="192" y="227.7" width="1.6" height="10.9" fill="#000"/>
<rect x="193" y="229.0" width="1.6" height="9.5" fill="#000"/>
<rect x="194" y="224.0" width="1.6" height="11.0" fill="#a8123c"/>
<rect x="195" y="220.0" width="1.6" height="8.5" fill="#a8123c"/>
<rect x="196" y="219.3" width="1.6" height="6.4" fill="#000"/>
<rect x="197" y="213.7" width="1.6" height="11.7" fill="#a8123c"/>
<rect x="198" y="210.5" width="1.6" height="9.0" fill="#000"/>
<rect x="199" y="205.4" width="1.6" height="13.4" fill="#a8123c"/>
<rect x="200" y="207.5" width="1.6" height="8.3" fill="#000"/>
<rect x="201" y="203.2" width="1.6" height="8.4" fill="#a8123c"/>
<rect x="202" y="206.4" width="1.6" height="12.4" fill="#000"/>
<rect x="203" y="226.0" width="1.6" height="20.7" fill="#a8123c"/>
<rect x="204" y="249.0" width="1.6" height="13.8" fill="#000"/>
<rect x="205" y="257.0" width="1.6" height="15.5" fill="#a8123c"/>
<rect x="206" y="265.0" width="1.6" height="14.3" fill="#000"/>
<rect x="207" y="273.9" width="1.6" height="12.6" fill="#000"/>
<rect x="208" y="274.6" width="1.6" height="6.2" fill="#000"/>
<rect x="209" y="277.4" width="1.6" height="13.2" fill="#a8123c"/>
<rect x="210" y="281.6" width="1.6" height="7.7" fill="#000"/>
<rect x="211" y="284.6" width="1.6" height="11.1" fill="#000"/>
<rect x="212" y="291.7" width="1.6" height="10.5" fill="#000"/>
<rect x="213" y="300.0" width="1.6" height="12.2" fill="#a8123c"/>
<rect x="214" y="307.5" width="1.6" height="7.9" fill="#000"/>
<rect x="215" y="307.6" width="1.6" height="12.4" fill="#a8123c"/>
<rect x="216" y="312.4" width="1.6" height="10.1" fill="#000"/>
<rect x="217" y="315.2" width="1.6" height="11.8" fill="#000"/>
<rect x="218" y="319.8" width="1.6" height="8.3" fill="#000"/>
<rect x="219" y="322.2" width="1.6" height="11.1" fill="#a8123c"/>
<rect x="220" y="330.0" width="1.6" height="9.4" fill="#a8123c"/>
<rect x="221" y="331.7" width="1.6" height="22.0" fill="#a8123c"/>
<rect x="222" y="346.5" width="1.6" height="10.1" fill="#a8123c"/>
<rect x="223" y="339.0" width="1.6" height="10.8" fill="#000"/>
<rect x="224" y="348.9" width="1.6" height="10.4" fill="#000"/>
<rect x="225" y="352.4" width="1.6" height="12.0" fill="#000"/>
<rect x="226" y="354.0" width="1.6" height="16.9" fill="#a8123c"/>
<rect x="227" y="359.2" width="1.6" height="10.3" fill="#000"/>
<rect x="228" y="356.0" width="1.6" height="7.5" fill="#a8123c"/>
<rect x="229" y="350.1" width="1.6" height="14.3" fill="#000"/>
<rect x="230" y="349.6" width="1.6" height="11.1" fill="#a8123c"/>
<rect x="231" y="339.4" width="1.6" height="20.0" fill="#000"/>
<rect x="232" y="336.6" width="1.6" height="10.4" fill="#000"/>
<rect x="233" y="326.2" width="1.6" height="22.6" fill="#a8123c"/>
<rect x="234" y="327.5" width="1.6" height="18.1" fill="#a8123c"/>
<rect x="235" y="329.7" width="1.6" height="10.6" fill="#000"/>
<rect x="236" y="326.8" width="1.6" height="9.8" fill="#a8123c"/>
<rect x="237" y="320.1" width="1.6" height="13.7" fill="#a8123c"/>
<rect x="238" y="306.7" width="1.6" height="19.8" fill="#a8123c"/>
<rect x="239" y="303.7" width="1.6" height="8.1" fill="#a8123c"/>
<rect x="240" y="282.2" width="1.6" height="29.8" fill="#a8123c"/>
<rect x="241" y="281.8" width="1.6" height="9.8" fill="#000"/>
<rect x="242" y="283.6" width="1.6" height="20.3" fill="#a8123c"/>
<rect x="243" y="293.1" width="1.6" height="12.3" fill="#a8123c"/>
<rect x="244" y="295.3" width="1.6" height="16.3" fill="#a8123c"/>
<rect x="245" y="299.8" width="1.6" height="10.6" fill="#a8123c"/>
<rect x="246" y="291.0" width="1.6" height="17.7" fill="#a8123c"/>
<rect x="247" y="283.2" width="1.6" height="20.1" fill="#000"/>
<rect x="248" y="274.5" width="1.6" height="18.2" fill="#000"/>
<rect x="249" y="270.7" width="1.6" height="10.6" fill="#a8123c"/>
<rect x="250" y="268.6" width="1.6" height="13.9" fill="#000"/>
<rect x="251" y="261.9" width="1.6" height="18.5" fill="#a8123c"/>
<rect x="252" y="263.3" width="1.6" height="13.6" fill="#000"/>
<rect x="253" y="264.8" width="1.6" height="13.8" fill="#a8123c"/>
<rect x="254" y="262.8" width="1.6" height="14.4" fill="#a8123c"/>
<rect x="255" y="256.1" width="1.6" height="20.1" fill="#000"/>
<rect x="256" y="255.6" width="1.6" height="18.8" fill="#a8123c"/>
<rect x="257" y="262.9" width="1.6" height="9.7" fill="#000"/>
<rect x="258" y="264.8" width="1.6" height="9.9" fill="#000"/>
<rect x="259" y="261.1" width="1.6" height="12.9" fill="#000"/>
<rect x="260" y="262.8" width="1.6" height="10.2" fill="#a8123c"/>
<rect x="261" y="258.6" width="1.6" height="9.4" fill="#a8123c"/>
<rect x="262" y="255.2" width="1.6" height="9.7" fill="#000"/>
<rect x="263" y="258.1" width="1.6" height="8.5" fill="#a8123c"/>
<rect x="264" y="251.2" width="1.6" height="14.5" fill="#a8123c"/>
<rect x="265" y="248.0" width="1.6" height="11.9" fill="#000"/>
<rect x="266" y="251.4" width="1.6" height="16.0" fill="#000"/>
<rect x="267" y="262.5" width="1.6" height="13.4" fill="#a8123c"/>
<rect x="268" y="274.0" width="1.6" height="14.4" fill="#000"/>
<rect x="269" y="274.9" width="1.6" height="14.1" fill="#000"/>
<rect x="270" y="275.4" width="1.6" height="20.1" fill="#000"/>
<rect x="271" y="290.3" width="1.6" height="8.5" fill="#000"/>
<rect x="272" y="294.5" width="1.6" height="8.1" fill="#000"/>
<rect x="273" y="290.0" width="1.6" height="8.8" fill="#000"/>
<rect x="274" y="272.1" width="1.6" height="21.6" fill="#000"/>
<rect x="275" y="277.5" width="1.6" height="11.0" fill="#000"/>
<rect x="276" y="273.5" width="1.6" height="9.9" fill="#a8123c"/>
<rect x="277" y="260.2" width="1.6" height="18.0" fill="#000"/>
<rect x="278" y="246.1" width="1.6" height="26.9" fill="#a8123c"/>
<rect x="279" y="249.4" width="1.6" height="9.7" fill="#a8123c"/>
<rect x="280" y="240.9" width="1.6" height="18.5" fill="#000"/>
<rect x="281" y="240.2" width="1.6" height="21.7" fill="#a8123c"/>
<rect x="282" y="240.4" width="1.6" height="18.6" fill="#000"/>
<rect x="283" y="237.7" width="1.6" height="11.0" fill="#000"/>
<rect x="284" y="231.8" width="1.6" height="19.3" fill="#000"/>
<rect x="285" y="229.7" width="1.6" height="10.6" fill="#a8123c"/>
<rect x="286" y="228.2" width="1.6" height="18.2" fill="#000"/>
<rect x="287" y="230.9" width="1.6" height="14.6" fill="#000"/>
<rect x="288" y="229.9" width="1.6" height="7.8" fill="#000"/>
<rect x="289" y="223.1" width="1.6" height="12.9" fill="#a8123c"/>
<rect x="290" y="216.6" width="1.6" height="12.4" fill="#000"/>
<rect x="291" y="216.9" width="1.6" height="12.7" fill="#000"/>
<rect x="292" y="219.7" width="1.6" height="9.8" fill="#a8123c"/>
<rect x="293" y="220.8" width="1.6" height="10.8" fill="#000"/>
<rect x="294" y="221.4" width="1.6" height="12.1" fill="#a8123c"/>
<rect x="295" y="229.3" width="1.6" height="11.2" fill="#000"/>
<rect x="296" y="234.4" width="1.6" height="10.8" fill="#a8123c"/>
<rect x="297" y="235.4" width="1.6" height="11.1" fill="#000"/>
<rect x="298" y="237.2" width="1.6" height="17.1" fill="#a8123c"/>
<rect x="299" y="249.3" width="1.6" height="9.9" fill="#a8123c"/>
<rect x="300" y="246.9" width="1.6" height="13.0" fill="#a8123c"/>
<rect x="301" y="252.2" width="1.6" height="18.6" fill="#a8123c"/>
<rect x="302" y="259.7" width="1.6" height="11.7" fill="#a8123c"/>
<rect x="303" y="266.7" width="1.6" height="9.4" fill="#000"/>
<rect x="304" y="271.0" width="1.6" height="9.2" fill="#a8123c"/>
<rect x="305" y="267.4" width="1.6" height="11.3" fill="#000"/>
<rect x="306" y="263.8" width="1.6" height="10.3" fill="#000"/>
<rect x="307" y="260.3" width="1.6" height="13.1" fill="#a8123c"/>
<rect x="308" y="256.6" width="1.6" height="13.4" fill="#a8123c"/>
<rect x="309" y="253.3" width="1.6" height="11.1" fill="#a8123c"/>
<rect x="310" y="249.1" width="1.6" height="12.2" fill="#000"/>
<rect x="311" y="242.4" width="1.6" height="13.1" fill="#a8123c"/>
<rect x="312" y="236.5" width="1.6" height="13.3" fill="#000"/>
<rect x="313" y="231.9" width="1.6" height="8.3" fill="#000"/>
<rect x="314" y="226.5" width="1.6" height="13.1" fill="#000"/>
<rect x="315" y="221.6" width="1.6" height="10.1" fill="#a8123c"/>
<rect x="316" y="219.6" width="1.6" height="10.2" fill="#000"/>
<rect x="317" y="213.2" width="1.6" height="13.4" fill="#a8123c"/>
<rect x="318" y="209.7" width="1.6" height="8.5" fill="#000"/>
<rect x="319" y="212.5" width="1.6" height="13.3" fill="#a8123c"/>
<rect x="320" y="219.2" width="1.6" height="9.4" fill="#000"/>
<rect x="321" y="219.5" width="1.6" height="9.2" fill="#000"/>
<rect x="322" y="223.0" width="1.6" height="19.3" fill="#000"/>
<rect x="323" y="229.0" width="1.6" height="14.9" fill="#000"/>
<rect x="324" y="229.3" width="1.6" height="15.0" fill="#a8123c"/>
<rect x="325" y="236.7" width="1.6" height="10.2" fill="#a8123c"/>
<rect x="326" y="240.5" width="1.6" height="9.6" fill="#000"/>
<rect x="327" y="243.6" width="1.6" height="10.4" fill="#000"/>
<rect x="328" y="248.6" width="1.6" height="8.4" fill="#a8123c"/>
<rect x="329" y="246.5" width="1.6" height="13.5" fill="#a8123c"/>
<rect x="330" y="250.4" width="1.6" height="11.9" fill="#000"/>
<rect x="331" y="252.3" width="1.6" height="10.2" fill="#000"/>
<rect x="332" y="253.9" width="1.6" height="18.0" fill="#a8123c"/>
<rect x="333" y="262.5" width="1.6" height="13.0" fill="#000"/>
<rect x="334" y="266.4" width="1.6" height="9.6" fill="#000"/>
<rect x="335" y="266.5" width="1.6" height="19.0" fill="#a8123c"/>
<rect x="336" y="272.7" width="1.6" height="8.2" fill="#a8123c"/>
<rect x="337" y="274.3" width="1.6" height="11.8" fill="#000"/>
<rect x="338" y="277.0" width="1.6" height="14.0" fill="#000"/>
<rect x="339" y="272.7" width="1.6" height="13.3" fill="#000"/>
<rect x="340" y="267.4" width="1.6" height="11.2" fill="#a8123c"/>
<rect x="341" y="264.2" width="1.6" height="11.8" fill="#000"/>
<rect x="342" y="256.2" width="1.6" height="10.4" fill="#a8123c"/>
<rect x="343" y="254.1" width="1.6" height="11.2" fill="#a8123c"/>
<rect x="344" y="248.8" width="1.6" height="12.4" fill="#a8123c"/>
<rect x="345" y="243.5" width="1.6" height="11.7" fill="#000"/>
<rect x="346" y="240.4" width="1.6" height="11.4" fill="#000"/>
<rect x="347" y="235.0" width="1.6" height="12.0" fill="#000"/>
<rect x="348" y="235.9" width="1.6" height="9.4" fill="#a8123c"/>
<rect x="349" y="235.3" width="1.6" height="7.3" fill="#a8123c"/>
<rect x="350" y="231.0" width="1.6" height="9.3" fill="#000"/>
<rect x="351" y="228.5" width="1.6" height="11.5" fill="#a8123c"/>
<rect x="352" y="228.4" width="1.6" height="8.5" fill="#a8123c"/>
<rect x="353" y="221.7" width="1.6" height="12.9" fill="#000"/>
<rect x="354" y="214.5" width="1.6" height="19.2" fill="#a8123c"/>
<rect x="355" y="208.1" width="1.6" height="9.0" fill="#000"/>
<rect x="356" y="206.6" width="1.6" height="6.9" fill="#000"/>
<rect x="357" y="210.2" width="1.6" height="12.5" fill="#000"/>
<rect x="358" y="206.0" width="1.6" height="9.3" fill="#000"/>
<rect x="359" y="203.5" width="1.6" height="11.9" fill="#000"/>
<rect x="360" y="203.1" width="1.6" height="13.1" fill="#000"/>
<rect x="361" y="204.1" width="1.6" height="10.4" fill="#000"/>
<rect x="362" y="202.3" width="1.6" height="12.9" fill="#a8123c"/>
<rect x="363" y="204.6" width="1.6" height="7.7" fill="#a8123c"/>
<rect x="364" y="194.3" width="1.6" height="15.2" fill="#a8123c"/>
<rect x="365" y="185.4" width="1.6" height="18.0" fill="#000"/>
<rect x="366" y="186.3" width="1.6" height="9.6" fill="#000"/>
<rect x="367" y="179.2" width="1.6" height="11.1" fill="#a8123c"/>
<rect x="368" y="175.1" width="1.6" height="15.1" fill="#a8123c"/>
<rect x="369" y="167.6" width="1.6" height="16.2" fill="#a8123c"/>
<rect x="370" y="158.0" width="1.6" height="18.5" fill="#000"/>
<rect x="371" y="153.6" width="1.6" height="15.2" fill="#000"/>
<rect x="372" y="148.8" width="1.6" height="14.9" fill="#000"/>
<rect x="373" y="154.0" width="1.6" height="18.4" fill="#a8123c"/>
<rect x="374" y="166.8" width="1.6" height="9.3" fill="#000"/>
<rect x="375" y="171.5" width="1.6" height="10.3" fill="#a8123c"/>
<rect x="376" y="174.2" width="1.6" height="12.4" fill="#a8123c"/>
<rect x="377" y="179.9" width="1.6" height="11.3" fill="#000"/>
<rect x="378" y="180.6" width="1.6" height="15.2" fill="#a8123c"/>
<rect x="379" y="188.3" width="1.6" height="11.0" fill="#000"/>
<rect x="380" y="194.3" width="1.6" height="10.1" fill="#a8123c"/>
<rect x="381" y="198.1" width="1.6" height="8.9" fill="#000"/>
<rect x="382" y="198.0" width="1.6" height="17.8" fill="#a8123c"/>
<rect x="383" y="203.1" width="1.6" height="9.7" fill="#000"/>
<rect x="384" y="204.7" width="1.6" height="9.8" fill="#000"/>
<rect x="385" y="203.9" width="1.6" height="25.8" fill="#a8123c"/>
<rect x="386" y="213.8" width="1.6" height="14.5" fill="#a8123c"/>
<rect x="387" y="211.9" width="1.6" height="7.9" fill="#000"/>
<rect x="388" y="212.1" width="1.6" height="19.5" fill="#000"/>
<rect x="389" y="225.5" width="1.6" height="7.3" fill="#a8123c"/>
<rect x="390" y="219.5" width="1.6" height="9.9" fill="#a8123c"/>
<rect x="391" y="212.8" width="1.6" height="15.0" fill="#a8123c"/>
<rect x="392" y="208.9" width="1.6" height="10.8" fill="#a8123c"/>
<rect x="393" y="200.7" width="1.6" height="20.3" fill="#000"/>
<rect x="394" y="199.9" width="1.6" height="17.2" fill="#000"/>
<rect x="395" y="208.7" width="1.6" height="11.3" fill="#000"/>
<rect x="396" y="214.4" width="1.6" height="9.9" fill="#a8123c"/>
<rect x="397" y="210.8" width="1.6" height="9.7" fill="#000"/>
<rect x="398" y="212.9" width="1.6" height="9.9" fill="#a8123c"/>
<rect x="399" y="214.1" width="1.6" height="11.3" fill="#a8123c"/>
<rect x="400" y="218.6" width="1.6" height="7.1" fill="#000"/>
<rect x="401" y="217.2" width="1.6" height="13.7" fill="#000"/>
<rect x="402" y="217.2" width="1.6" height="11.2" fill="#a8123c"/>
<rect x="403" y="218.2" width="1.6" height="12.0" fill="#000"/>
<rect x="404" y="222.4" width="1.6" height="7.4" fill="#a8123c"/>
<rect x="405" y="218.1" width="1.6" height="10.2" fill="#a8123c"/>
<rect x="406" y="214.8" width="1.6" height="7.8" fill="#000"/>
<rect x="407" y="213.7" width="1.6" height="9.7" fill="#a8123c"/>
<rect x="408" y="216.6" width="1.6" height="9.5" fill="#000"/>
<rect x="409" y="215.9" width="1.6" height="10.6" fill="#a8123c"/>
<rect x="410" y="214.3" width="1.6" height="13.7" fill="#000"/>
<rect x="411" y="211.9" width="1.6" height="14.4" fill="#a8123c"/>
<rect x="412" y="215.2" width="1.6" height="12.1" fill="#000"/>
<rect x="413" y="217.1" width="1.6" height="9.4" fill="#000"/>
<rect x="414" y="211.6" width="1.6" height="11.6" fill="#a8123c"/>
<rect x="415" y="209.1" width="1.6" height="11.3" fill="#a8123c"/>
<rect x="416" y="208.2" width="1.6" height="10.4" fill="#000"/>
<rect x="417" y="205.9" width="1.6" height="22.0" fill="#000"/>
<rect x="418" y="208.8" width="1.6" height="12.2" fill="#a8123c"/>
<rect x="419" y="213.3" width="1.6" height="20.2" fill="#a8123c"/>
<rect x="420" y="219.7" width="1.6" height="20.2" fill="#a8123c"/>
<rect x="421" y="235.9" width="1.6" height="9.7" fill="#000"/>
<rect x="422" y="242.0" width="1.6" height="8.3" fill="#000"/>
<rect x="423" y="237.3" width="1.6" height="8.7" fill="#a8123c"/>
<rect x="424" y="234.6" width="1.6" height="10.2" fill="#a8123c"/>
<rect x="425" y="239.0" width="1.6" height="20.4" fill="#000"/>
<rect x="426" y="237.7" width="1.6" height="19.2" fill="#000"/>
<rect x="427" y="238.6" width="1.6" height="9.7" fill="#a8123c"/>
<rect x="428" y="234.0" width="1.6" height="10.8" fill="#000"/>
<rect x="429" y="225.0" width="1.6" height="17.0" fill="#a8123c"/>
<rect x="430" y="226.6" width="1.6" height="9.5" fill="#000"/>
<rect x="431" y="210.1" width="1.6" height="22.9" fill="#a8123c"/>
<rect x="432" y="202.8" width="1.6" height="11.3" fill="#000"/>
<rect x="433" y="192.5" width="1.6" height="22.5" fill="#000"/>
<rect x="434" y="184.9" width="1.6" height="11.9" fill="#000"/>
<rect x="435" y="179.5" width="1.6" height="17.5" fill="#000"/>
<rect x="436" y="174.4" width="1.6" height="10.0" fill="#a8123c"/>
<rect x="437" y="175.3" width="1.6" height="11.5" fill="#000"/>
<rect x="438" y="172.0" width="1.6" height="13.0" fill="#000"/>
<rect x="439" y="170.1" width="1.6" height="11.4" fill="#000"/>
<rect x="440" y="164.0" width="1.6" height="15.0" fill="#000"/>
<rect x="441" y="162.2" width="1.6" height="11.3" fill="#000"/>
<rect x="442" y="158.7" width="1.6" height="10.0" fill="#a8123c"/>
<rect x="443" y="155.9" width="1.6" height="10.5" fill="#000"/>
<rect x="444" y="158.2" width="1.6" height="11.7" fill="#a8123c"/>
<rect x="445" y="155.0" width="1.6" height="14.6" fill="#000"/>
<rect x="446" y="158.4" width="1.6" height="7.2" fill="#000"/>
<rect x="447" y="152.7" width="1.6" height="12.1" fill="#000"/>
<rect x="448" y="151.8" width="1.6" height="8.7" fill="#a8123c"/>
<rect x="449" y="159.4" width="1.6" height="8.6" fill="#a8123c"/>
<rect x="450" y="155.4" width="1.6" height="12.4" fill="#000"/>
<rect x="451" y="155.9" width="1.6" height="13.1" fill="#a8123c"/>
<rect x="452" y="159.5" width="1.6" height="23.0" fill="#000"/>
<rect x="453" y="173.9" width="1.6" height="8.6" fill="#a8123c"/>
<rect x="454" y="164.6" width="1.6" height="19.6" fill="#000"/>
<rect x="455" y="163.9" width="1.6" height="10.8" fill="#000"/>
<rect x="456" y="163.9" width="1.6" height="20.0" fill="#000"/>
<rect x="457" y="170.2" width="1.6" height="10.9" fill="#000"/>
<rect x="458" y="161.3" width="1.6" height="20.4" fill="#a8123c"/>
<rect x="459" y="160.1" width="1.6" height="10.3" fill="#a8123c"/>
<rect x="460" y="155.1" width="1.6" height="18.1" fill="#a8123c"/>
<rect x="461" y="158.7" width="1.6" height="6.4" fill="#a8123c"/>
<rect x="462" y="158.6" width="1.6" height="15.9" fill="#000"/>
<rect x="463" y="162.0" width="1.6" height="11.9" fill="#000"/>
<rect x="464" y="162.3" width="1.6" height="10.7" fill="#000"/>
<rect x="465" y="160.9" width="1.6" height="10.9" fill="#000"/>
<rect x="466" y="164.0" width="1.6" height="24.0" fill="#000"/>
<rect x="467" y="180.3" width="1.6" height="10.5" fill="#000"/>
<rect x="468" y="183.5" width="1.6" height="13.8" fill="#000"/>
<rect x="469" y="175.2" width="1.6" height="21.6" fill="#000"/>
<rect x="470" y="176.8" width="1.6" height="7.5" fill="#000"/>
<rect x="471" y="169.3" width="1.6" height="13.7" fill="#000"/>
<rect x="472" y="169.0" width="1.6" height="14.8" fill="#000"/>
<rect x="473" y="167.1" width="1.6" height="12.0" fill="#a8123c"/>
<rect x="474" y="171.7" width="1.6" height="13.1" fill="#000"/>
<rect x="475" y="167.4" width="1.6" height="9.8" fill="#a8123c"/>
<rect x="476" y="174.4" width="1.6" height="12.0" fill="#000"/>
<rect x="477" y="166.7" width="1.6" height="18.1" fill="#a8123c"/>
<rect x="478" y="165.4" width="1.6" height="7.7" fill="#000"/>
<rect x="479" y="170.0" width="1.6" height="8.0" fill="#a8123c"/>
<rect x="480" y="166.0" width="1.6" height="11.9" fill="#000"/>
<rect x="481" y="168.0" width="1.6" height="10.0" fill="#a8123c"/>
<rect x="482" y="171.7" width="1.6" height="8.4" fill="#000"/>
<rect x="483" y="168.0" width="1.6" height="10.8" fill="#000"/>
<rect x="484" y="170.2" width="1.6" height="14.2" fill="#000"/>
<rect x="485" y="165.6" width="1.6" height="9.4" fill="#000"/>
<rect x="486" y="164.2" width="1.6" height="8.3" fill="#000"/>
<rect x="487" y="163.0" width="1.6" height="10.1" fill="#000"/>
<rect x="488" y="154.0" width="1.6" height="21.4" fill="#a8123c"/>
<rect x="489" y="148.5" width="1.6" height="10.3" fill="#000"/>
<rect x="490" y="146.7" width="1.6" height="6.4" fill="#000"/>
<rect x="491" y="145.6" width="1.6" height="11.6" fill="#a8123c"/>
<rect x="492" y="143.2" width="1.6" height="11.7" fill="#000"/>
<rect x="493" y="144.8" width="1.6" height="14.7" fill="#a8123c"/>
<rect x="494" y="152.0" width="1.6" height="16.2" fill="#000"/>
<rect x="495" y="155.5" width="1.6" height="8.1" fill="#000"/>
<rect x="496" y="157.6" width="1.6" height="10.1" fill="#000"/>
<rect x="497" y="157.6" width="1.6" height="11.4" fill="#000"/>
<rect x="498" y="162.4" width="1.6" height="19.6" fill="#000"/>
<rect x="499" y="172.3" width="1.6" height="7.0" fill="#000"/>
<rect x="500" y="172.0" width="1.6" height="14.0" fill="#a8123c"/>
<rect x="501" y="176.5" width="1.6" height="11.1" fill="#a8123c"/>
<rect x="502" y="176.1" width="1.6" height="9.7" fill="#000"/>
<rect x="503" y="176.8" width="1.6" height="9.4" fill="#000"/>
<rect x="504" y="181.3" width="1.6" height="12.7" fill="#a8123c"/>
<rect x="505" y="181.1" width="1.6" height="8.2" fill="#000"/>
<rect x="506" y="184.7" width="1.6" height="8.4" fill="#000"/>
<rect x="507" y="184.3" width="1.6" height="9.9" fill="#000"/>
<rect x="508" y="185.7" width="1.6" height="10.1" fill="#a8123c"/>
<rect x="509" y="181.7" width="1.6" height="9.4" fill="#a8123c"/>
<rect x="510" y="185.9" width="1.6" height="11.6" fill="#a8123c"/>
<rect x="511" y="191.4" width="1.6" height="6.3" fill="#a8123c"/>
<rect x="512" y="186.0" width="1.6" height="10.3" fill="#000"/>
<rect x="513" y="188.3" width="1.6" height="16.8" fill="#000"/>
<rect x="514" y="194.8" width="1.6" height="11.3" fill="#a8123c"/>
<rect x="515" y="198.4" width="1.6" height="12.5" fill="#a8123c"/>
<rect x="516" y="200.4" width="1.6" height="10.8" fill="#000"/>
<rect x="517" y="193.8" width="1.6" height="12.3" fill="#a8123c"/>
<rect x="518" y="193.1" width="1.6" height="11.1" fill="#a8123c"/>
<rect x="519" y="193.5" width="1.6" height="12.7" fill="#a8123c"/>
<rect x="520" y="198.5" width="1.6" height="10.3" fill="#a8123c"/>
<rect x="521" y="195.5" width="1.6" height="11.4" fill="#000"/>
<rect x="522" y="194.2" width="1.6" height="13.3" fill="#a8123c"/>
<rect x="523" y="199.0" width="1.6" height="8.6" fill="#000"/>
<rect x="524" y="193.8" width="1.6" height="11.6" fill="#000"/>
<rect x="525" y="196.1" width="1.6" height="9.1" fill="#a8123c"/>
<rect x="526" y="191.3" width="1.6" height="12.7" fill="#000"/>
<rect x="527" y="190.6" width="1.6" height="12.4" fill="#a8123c"/>
<rect x="528" y="197.0" width="1.6" height="12.4" fill="#000"/>
<rect x="529" y="204.0" width="1.6" height="14.5" fill="#000"/>
<rect x="530" y="212.5" width="1.6" height="12.6" fill="#000"/>
<rect x="531" y="214.8" width="1.6" height="17.3" fill="#000"/>
<rect x="532" y="220.6" width="1.6" height="11.0" fill="#a8123c"/>
<rect x="533" y="225.5" width="1.6" height="8.4" fill="#000"/>
<rect x="534" y="226.3" width="1.6" height="14.5" fill="#a8123c"/>
<rect x="535" y="232.0" width="1.6" height="12.0" fill="#a8123c"/>
<rect x="536" y="232.4" width="1.6" height="15.1" fill="#000"/>
<rect x="537" y="232.0" width="1.6" height="8.7" fill="#000"/>
<rect x="538" y="234.6" width="1.6" height="13.0" fill="#a8123c"/>
<rect x="539" y="234.2" width="1.6" height="20.1" fill="#a8123c"/>
<rect x="540" y="237.1" width="1.6" height="11.0" fill="#000"/>
<rect x="541" y="242.8" width="1.6" height="9.0" fill="#000"/>
<rect x="542" y="242.2" width="1.6" height="13.0" fill="#a8123c"/>
<rect x="543" y="245.5" width="1.6" height="15.7" fill="#000"/>
<rect x="544" y="251.9" width="1.6" height="16.5" fill="#a8123c"/>
<rect x="545" y="259.4" width="1.6" height="9.4" fill="#000"/>
<rect x="546" y="264.0" width="1.6" height="10.7" fill="#a8123c"/>
<rect x="547" y="267.6" width="1.6" height="10.7" fill="#000"/>
<rect x="548" y="264.7" width="1.6" height="11.0" fill="#a8123c"/>
<rect x="549" y="265.0" width="1.6" height="12.9" fill="#a8123c"/>
<rect x="550" y="265.3" width="1.6" height="8.1" fill="#000"/>
<rect x="551" y="268.0" width="1.6" height="11.2" fill="#a8123c"/>
<rect x="552" y="266.0" width="1.6" height="11.3" fill="#a8123c"/>
<rect x="553" y="267.0" width="1.6" height="11.7" fill="#000"/>
<rect x="554" y="268.0" width="1.6" height="11.1" fill="#a8123c"/>
<rect x="555" y="269.7" width="1.6" height="10.1" fill="#a8123c"/>
<rect x="556" y="272.6" width="1.6" height="13.2" fill="#a8123c"/>
<rect x="557" y="272.2" width="1.6" height="10.8" fill="#a8123c"/>
<rect x="558" y="277.0" width="1.6" height="16.4" fill="#000"/>
<rect x="559" y="283.0" width="1.6" height="16.5" fill="#a8123c"/>
<rect x="560" y="291.4" width="1.6" height="17.6" fill="#a8123c"/>
<rect x="561" y="296.4" width="1.6" height="15.9" fill="#a8123c"/>
<rect x="562" y="295.3" width="1.6" height="18.8" fill="#a8123c"/>
<rect x="563" y="300.5" width="1.6" height="8.4" fill="#000"/>
<rect x="564" y="301.0" width="1.6" height="12.0" fill="#a8123c"/>
<rect x="565" y="291.5" width="1.6" height="17.6" fill="#000"/>
<rect x="566" y="295.0" width="1.6" height="10.5" fill="#000"/>
<rect x="567" y="296.1" width="1.6" height="12.9" fill="#000"/>
<rect x="568" y="292.9" width="1.6" height="14.1" fill="#a8123c"/>
<rect x="569" y="296.2" width="1.6" height="7.7" fill="#a8123c"/>
<rect x="570" y="294.3" width="1.6" height="8.6" fill="#a8123c"/>
<rect x="571" y="290.8" width="1.6" height="12.2" fill="#000"/>
<rect x="572" y="287.0" width="1.6" height="13.9" fill="#000"/>
<rect x="573" y="290.9" width="1.6" height="12.1" fill="#000"/>
<rect x="574" y="286.4" width="1.6" height="14.0" fill="#000"/>
<rect x="575" y="285.0" width="1.6" height="9.2" fill="#000"/>
<rect x="576" y="285.3" width="1.6" height="11.9" fill="#a8123c"/>
<rect x="577" y="291.3" width="1.6" height="7.8" fill="#a8123c"/>
<rect x="578" y="289.5" width="1.6" height="8.0" fill="#000"/>
<rect x="579" y="289.9" width="1.6" height="12.6" fill="#000"/>
<rect x="580" y="290.5" width="1.6" height="12.3" fill="#a8123c"/>
<rect x="581" y="291.7" width="1.6" height="12.9" fill="#000"/>
<rect x="582" y="290.8" width="1.6" height="12.1" fill="#000"/>
<rect x="583" y="291.2" width="1.6" height="10.8" fill="#000"/>
<rect x="584" y="295.0" width="1.6" height="11.4" fill="#000"/>
<rect x="585" y="291.6" width="1.6" height="12.1" fill="#000"/>
<rect x="586" y="297.5" width="1.6" height="11.5" fill="#000"/>
<rect x="587" y="297.2" width="1.6" height="10.8" fill="#000"/>
<rect x="588" y="298.2" width="1.6" height="12.8" fill="#000"/>
<rect x="589" y="297.7" width="1.6" height="11.5" fill="#a8123c"/>
<rect x="590" y="298.2" width="1.6" height="10.7" fill="#000"/>
<rect x="591" y="299.2" width="1.6" height="9.2" fill="#a8123c"/>
<rect x="592" y="290.1" width="1.6" height="16.5" fill="#000"/>
<rect x="593" y="291.9" width="1.6" height="11.4" fill="#a8123c"/>
<rect x="594" y="276.3" width="1.6" height="23.9" fill="#a8123c"/>
<rect x="595" y="267.0" width="1.6" height="20.0" fill="#000"/>
<rect x="596" y="265.8" width="1.6" height="23.9" fill="#000"/>
<rect x="597" y="277.4" width="1.6" height="7.4" fill="#a8123c"/>
<rect x="598" y="262.5" width="1.6" height="21.6" fill="#a8123c"/>
<rect x="599" y="267.4" width="1.6" height="13.6" fill="#000"/>
<rect x="600" y="267.0" width="1.6" height="11.7" fill="#a8123c"/>
<rect x="601" y="258.2" width="1.6" height="20.8" fill="#000"/>
<rect x="602" y="258.1" width="1.6" height="12.3" fill="#a8123c"/>
<rect x="603" y="262.2" width="1.6" height="11.5" fill="#a8123c"/>
<rect x="604" y="264.9" width="1.6" height="9.4" fill="#000"/>
<rect x="605" y="266.7" width="1.6" height="11.6" fill="#000"/>
<rect x="606" y="268.9" width="1.6" height="11.6" fill="#a8123c"/>
<rect x="607" y="265.1" width="1.6" height="12.9" fill="#000"/>
<rect x="608" y="265.8" width="1.6" height="12.1" fill="#a8123c"/>
<rect x="609" y="264.8" width="1.6" height="20.3" fill="#000"/>
<rect x="610" y="273.8" width="1.6" height="14.0" fill="#000"/>
<rect x="611" y="273.4" width="1.6" height="12.7" fill="#a8123c"/>
<rect x="612" y="276.7" width="1.6" height="19.5" fill="#000"/>
<rect x="613" y="283.6" width="1.6" height="10.2" fill="#000"/>
<rect x="614" y="276.5" width="1.6" height="12.9" fill="#000"/>
<rect x="615" y="281.4" width="1.6" height="9.9" fill="#a8123c"/>
<rect x="616" y="282.5" width="1.6" height="10.5" fill="#000"/>
<rect x="617" y="278.3" width="1.6" height="10.6" fill="#000"/>
<rect x="618" y="271.7" width="1.6" height="17.6" fill="#a8123c"/>
<rect x="619" y="276.0" width="1.6" height="10.8" fill="#a8123c"/>
<rect x="620" y="270.5" width="1.6" height="13.7" fill="#000"/>
<rect x="621" y="268.3" width="1.6" height="11.2" fill="#a8123c"/>
<rect x="622" y="266.1" width="1.6" height="12.9" fill="#000"/>
<rect x="623" y="264.8" width="1.6" height="9.6" fill="#000"/>
<rect x="624" y="257.4" width="1.6" height="15.3" fill="#a8123c"/>
<rect x="625" y="249.7" width="1.6" height="19.8" fill="#000"/>
<rect x="626" y="250.5" width="1.6" height="10.5" fill="#a8123c"/>
<rect x="627" y="248.5" width="1.6" height="8.3" fill="#000"/>
<rect x="628" y="245.2" width="1.6" height="14.7" fill="#000"/>
<rect x="629" y="244.6" width="1.6" height="11.0" fill="#000"/>
<rect x="630" y="241.8" width="1.6" height="13.2" fill="#a8123c"/>
<rect x="631" y="245.3" width="1.6" height="7.2" fill="#000"/>
<rect x="632" y="241.5" width="1.6" height="10.2" fill="#a8123c"/>
<rect x="633" y="233.1" width="1.6" height="10.8" fill="#000"/>
<rect x="634" y="234.3" width="1.6" height="9.2" fill="#000"/>
<rect x="635" y="230.3" width="1.6" height="12.2" fill="#a8123c"/>
<rect x="636" y="225.5" width="1.6" height="11.6" fill="#000"/>
<rect x="637" y="217.3" width="1.6" height="16.7" fill="#a8123c"/>
<rect x="638" y="208.9" width="1.6" height="13.2" fill="#a8123c"/>
<rect x="639" y="212.0" width="1.6" height="9.5" fill="#000"/>
<rect x="640" y="211.0" width="1.6" height="7.6" fill="#a8123c"/>
<rect x="641" y="211.6" width="1.6" height="7.8" fill="#000"/>
<rect x="642" y="206.2" width="1.6" height="11.4" fill="#000"/>
<rect x="643" y="206.3" width="1.6" height="6.6" fill="#a8123c"/>
<rect x="644" y="206.6" width="1.6" height="9.0" fill="#a8123c"/>
<rect x="645" y="205.0" width="1.6" height="9.9" fill="#a8123c"/>
<rect x="646" y="206.6" width="1.6" height="6.5" fill="#000"/>
<rect x="647" y="204.9" width="1.6" height="10.0" fill="#a8123c"/>
<rect x="648" y="209.5" width="1.6" height="8.3" fill="#000"/>
<rect x="649" y="206.9" width="1.6" height="10.6" fill="#a8123c"/>
<rect x="650" y="201.2" width="1.6" height="8.7" fill="#000"/>
<rect x="651" y="199.8" width="1.6" height="18.4" fill="#a8123c"/>
<rect x="41" y="372" width="1.2" height="16.0" fill="#000"/>
<rect x="42" y="384.0" width="1.2" height="16.0" fill="#a8123c"/>
<rect x="44" y="360" width="1.2" height="19.5" fill="#000"/>
<rect x="45" y="375.5" width="1.2" height="19.5" fill="#a8123c"/>
<rect x="47" y="330" width="1.2" height="12.0" fill="#000"/>
<rect x="48" y="338.0" width="1.2" height="12.0" fill="#a8123c"/>
<rect x="50" y="240" width="1.2" height="32.0" fill="#000"/>
<rect x="51" y="268.0" width="1.2" height="32.0" fill="#a8123c"/>
<rect x="53" y="230" width="1.2" height="24.5" fill="#000"/>
<rect x="54" y="250.5" width="1.2" height="24.5" fill="#a8123c"/>
<rect x="57" y="245" width="1.2" height="14.5" fill="#000"/>
<rect x="58" y="255.5" width="1.2" height="14.5" fill="#a8123c"/>
<rect x="62" y="229" width="1.2" height="18.5" fill="#000"/>
<rect x="63" y="243.5" width="1.2" height="18.5" fill="#a8123c"/>
<rect x="66" y="215" width="1.2" height="22.0" fill="#000"/>
<rect x="67" y="233.0" width="1.2" height="22.0" fill="#a8123c"/>
<rect x="70" y="233" width="1.2" height="16.5" fill="#000"/>
<rect x="71" y="245.5" width="1.2" height="16.5" fill="#a8123c"/>
<rect x="73" y="242" width="1.2" height="13.5" fill="#000"/>
<rect x="74" y="251.5" width="1.2" height="13.5" fill="#a8123c"/>
<rect x="78" y="250" width="1.2" height="13.0" fill="#000"/>
<rect x="79" y="259.0" width="1.2" height="13.0" fill="#a8123c"/>
<rect x="82" y="238" width="1.2" height="16.0" fill="#000"/>
<rect x="83" y="250.0" width="1.2" height="16.0" fill="#a8123c"/>
<rect x="86" y="244" width="1.2" height="12.5" fill="#000"/>
<rect x="87" y="252.5" width="1.2" height="12.5" fill="#a8123c"/>
<rect x="89" y="228" width="1.2" height="13.0" fill="#000"/>
<rect x="90" y="237.0" width="1.2" height="13.0" fill="#a8123c"/>
<rect x="94" y="199" width="1.2" height="23.5" fill="#000"/>
<rect x="95" y="218.5" width="1.2" height="23.5" fill="#a8123c"/>
<rect x="97" y="215" width="1.2" height="17.0" fill="#000"/>
<rect x="98" y="228.0" width="1.2" height="17.0" fill="#a8123c"/>
<rect x="102" y="220" width="1.2" height="17.0" fill="#000"/>
<rect x="103" y="233.0" width="1.2" height="17.0" fill="#a8123c"/>
<rect x="105" y="245" width="1.2" height="13.5" fill="#000"/>
<rect x="106" y="254.5" width="1.2" height="13.5" fill="#a8123c"/>
<rect x="109" y="270" width="1.2" height="12.0" fill="#000"/>
<rect x="110" y="278.0" width="1.2" height="12.0" fill="#a8123c"/>
<rect x="113" y="258" width="1.2" height="13.0" fill="#000"/>
<rect x="114" y="267.0" width="1.2" height="13.0" fill="#a8123c"/>
<rect x="117" y="231" width="1.2" height="16.5" fill="#000"/>
<rect x="118" y="243.5" width="1.2" height="16.5" fill="#a8123c"/>
<rect x="121" y="195" width="1.2" height="28.0" fill="#000"/>
<rect x="122" y="219.0" width="1.2" height="28.0" fill="#a8123c"/>
<rect x="125" y="215" width="1.2" height="14.5" fill="#000"/>
<rect x="126" y="225.5" width="1.2" height="14.5" fill="#a8123c"/>
<rect x="127" y="171" width="1.2" height="21.5" fill="#000"/>
<rect x="128" y="188.5" width="1.2" height="21.5" fill="#a8123c"/>
<rect x="131" y="141" width="1.2" height="20.5" fill="#000"/>
<rect x="132" y="157.5" width="1.2" height="20.5" fill="#a8123c"/>
<rect x="134" y="140" width="1.2" height="17.0" fill="#000"/>
<rect x="135" y="153.0" width="1.2" height="17.0" fill="#a8123c"/>
<rect x="137" y="157" width="1.2" height="16.5" fill="#000"/>
<rect x="138" y="169.5" width="1.2" height="16.5" fill="#a8123c"/>
<rect x="141" y="150" width="1.2" height="23.0" fill="#000"/>
<rect x="142" y="169.0" width="1.2" height="23.0" fill="#a8123c"/>
<rect x="147" y="138" width="1.2" height="16.5" fill="#000"/>
<rect x="148" y="150.5" width="1.2" height="16.5" fill="#a8123c"/>
<rect x="153" y="146" width="1.2" height="18.0" fill="#000"/>
<rect x="154" y="160.0" width="1.2" height="18.0" fill="#a8123c"/>
<rect x="160" y="159" width="1.2" height="15.5" fill="#000"/>
<rect x="161" y="170.5" width="1.2" height="15.5" fill="#a8123c"/>
<rect x="166" y="151" width="1.2" height="24.5" fill="#000"/>
<rect x="167" y="171.5" width="1.2" height="24.5" fill="#a8123c"/>
<rect x="172" y="167" width="1.2" height="16.0" fill="#000"/>
<rect x="173" y="179.0" width="1.2" height="16.0" fill="#a8123c"/>
<rect x="177" y="159" width="1.2" height="16.5" fill="#000"/>
<rect x="178" y="171.5" width="1.2" height="16.5" fill="#a8123c"/>
<rect x="181" y="175" width="1.2" height="10.5" fill="#000"/>
<rect x="182" y="181.5" width="1.2" height="10.5" fill="#a8123c"/>
<rect x="183" y="224" width="1.2" height="15.0" fill="#000"/>
<rect x="184" y="235.0" width="1.2" height="15.0" fill="#a8123c"/>
<rect x="186" y="229" width="1.2" height="10.5" fill="#000"/>
<rect x="187" y="235.5" width="1.2" height="10.5" fill="#a8123c"/>
<rect x="190" y="226" width="1.2" height="13.0" fill="#000"/>
<rect x="191" y="235.0" width="1.2" height="13.0" fill="#a8123c"/>
<rect x="194" y="219" width="1.2" height="9.5" fill="#000"/>
<rect x="195" y="224.5" width="1.2" height="9.5" fill="#a8123c"/>
<rect x="198" y="209" width="1.2" height="10.5" fill="#000"/>
<rect x="199" y="215.5" width="1.2" height="10.5" fill="#a8123c"/>
<rect x="200" y="195" width="1.2" height="14.0" fill="#000"/>
<rect x="201" y="205.0" width="1.2" height="14.0" fill="#a8123c"/>
<rect x="202" y="204" width="1.2" height="14.5" fill="#000"/>
<rect x="203" y="214.5" width="1.2" height="14.5" fill="#a8123c"/>
<rect x="204" y="250" width="1.2" height="11.0" fill="#000"/>
<rect x="205" y="257.0" width="1.2" height="11.0" fill="#a8123c"/>
<rect x="206" y="266" width="1.2" height="10.5" fill="#000"/>
<rect x="207" y="272.5" width="1.2" height="10.5" fill="#a8123c"/>
<rect x="210" y="276" width="1.2" height="10.5" fill="#000"/>
<rect x="211" y="282.5" width="1.2" height="10.5" fill="#a8123c"/>
<rect x="213" y="301" width="1.2" height="9.0" fill="#000"/>
<rect x="214" y="306.0" width="1.2" height="9.0" fill="#a8123c"/>
<rect x="218" y="320" width="1.2" height="9.5" fill="#000"/>
<rect x="219" y="325.5" width="1.2" height="9.5" fill="#a8123c"/>
<rect x="222" y="333" width="1.2" height="15.5" fill="#000"/>
<rect x="223" y="344.5" width="1.2" height="15.5" fill="#a8123c"/>
<rect x="226" y="355" width="1.2" height="13.0" fill="#000"/>
<rect x="227" y="364.0" width="1.2" height="13.0" fill="#a8123c"/>
<rect x="229" y="345" width="1.2" height="15.5" fill="#000"/>
<rect x="230" y="356.5" width="1.2" height="15.5" fill="#a8123c"/>
<rect x="232" y="328" width="1.2" height="16.0" fill="#000"/>
<rect x="233" y="340.0" width="1.2" height="16.0" fill="#a8123c"/>
<rect x="236" y="315" width="1.2" height="14.5" fill="#000"/>
<rect x="237" y="325.5" width="1.2" height="14.5" fill="#a8123c"/>
<rect x="240" y="281" width="1.2" height="17.0" fill="#000"/>
<rect x="241" y="294.0" width="1.2" height="17.0" fill="#a8123c"/>
<rect x="245" y="290" width="1.2" height="13.5" fill="#000"/>
<rect x="246" y="299.5" width="1.2" height="13.5" fill="#a8123c"/>
<rect x="251" y="261" width="1.2" height="12.0" fill="#000"/>
<rect x="252" y="269.0" width="1.2" height="12.0" fill="#a8123c"/>
<rect x="254" y="254" width="1.2" height="14.0" fill="#000"/>
<rect x="255" y="264.0" width="1.2" height="14.0" fill="#a8123c"/>
<rect x="260" y="252" width="1.2" height="12.0" fill="#000"/>
<rect x="261" y="260.0" width="1.2" height="12.0" fill="#a8123c"/>
<rect x="262" y="238" width="1.2" height="15.5" fill="#000"/>
<rect x="263" y="249.5" width="1.2" height="15.5" fill="#a8123c"/>
<rect x="266" y="252" width="1.2" height="11.0" fill="#000"/>
<rect x="267" y="259.0" width="1.2" height="11.0" fill="#a8123c"/>
<rect x="268" y="275" width="1.2" height="8.5" fill="#000"/>
<rect x="269" y="279.5" width="1.2" height="8.5" fill="#a8123c"/>
<rect x="272" y="268" width="1.2" height="19.5" fill="#000"/>
<rect x="273" y="283.5" width="1.2" height="19.5" fill="#a8123c"/>
<rect x="278" y="240" width="1.2" height="18.0" fill="#000"/>
<rect x="279" y="254.0" width="1.2" height="18.0" fill="#a8123c"/>
<rect x="282" y="240" width="1.2" height="12.0" fill="#000"/>
<rect x="283" y="248.0" width="1.2" height="12.0" fill="#a8123c"/>
<rect x="287" y="222" width="1.2" height="17.0" fill="#000"/>
<rect x="288" y="235.0" width="1.2" height="17.0" fill="#a8123c"/>
<rect x="290" y="212" width="1.2" height="10.0" fill="#000"/>
<rect x="291" y="218.0" width="1.2" height="10.0" fill="#a8123c"/>
<rect x="295" y="225" width="1.2" height="11.0" fill="#000"/>
<rect x="296" y="232.0" width="1.2" height="11.0" fill="#a8123c"/>
<rect x="300" y="247" width="1.2" height="12.5" fill="#000"/>
<rect x="301" y="255.5" width="1.2" height="12.5" fill="#a8123c"/>
<rect x="304" y="272" width="1.2" height="7.0" fill="#000"/>
<rect x="305" y="275.0" width="1.2" height="7.0" fill="#a8123c"/>
<rect x="309" y="254" width="1.2" height="8.0" fill="#000"/>
<rect x="310" y="258.0" width="1.2" height="8.0" fill="#a8123c"/>
<rect x="313" y="231" width="1.2" height="8.0" fill="#000"/>
<rect x="314" y="235.0" width="1.2" height="8.0" fill="#a8123c"/>
<rect x="318" y="210" width="1.2" height="11.0" fill="#000"/>
<rect x="319" y="217.0" width="1.2" height="11.0" fill="#a8123c"/>
<rect x="322" y="224" width="1.2" height="14.0" fill="#000"/>
<rect x="323" y="234.0" width="1.2" height="14.0" fill="#a8123c"/>
<rect x="326" y="235" width="1.2" height="9.5" fill="#000"/>
<rect x="327" y="240.5" width="1.2" height="9.5" fill="#a8123c"/>
<rect x="330" y="244" width="1.2" height="11.0" fill="#000"/>
<rect x="331" y="251.0" width="1.2" height="11.0" fill="#a8123c"/>
<rect x="334" y="264" width="1.2" height="12.5" fill="#000"/>
<rect x="335" y="272.5" width="1.2" height="12.5" fill="#a8123c"/>
<rect x="338" y="278" width="1.2" height="8.0" fill="#000"/>
<rect x="339" y="282.0" width="1.2" height="8.0" fill="#a8123c"/>
<rect x="343" y="252" width="1.2" height="8.5" fill="#000"/>
<rect x="344" y="256.5" width="1.2" height="8.5" fill="#a8123c"/>
<rect x="347" y="236" width="1.2" height="7.0" fill="#000"/>
<rect x="348" y="239.0" width="1.2" height="7.0" fill="#a8123c"/>
<rect x="350" y="223" width="1.2" height="11.0" fill="#000"/>
<rect x="351" y="230.0" width="1.2" height="11.0" fill="#a8123c"/>
<rect x="355" y="207" width="1.2" height="14.0" fill="#000"/>
<rect x="356" y="217.0" width="1.2" height="14.0" fill="#a8123c"/>
<rect x="362" y="202" width="1.2" height="8.5" fill="#000"/>
<rect x="363" y="206.5" width="1.2" height="8.5" fill="#a8123c"/>
<rect x="366" y="173" width="1.2" height="16.5" fill="#000"/>
<rect x="367" y="185.5" width="1.2" height="16.5" fill="#a8123c"/>
<rect x="371" y="143" width="1.2" height="15.5" fill="#000"/>
<rect x="372" y="154.5" width="1.2" height="15.5" fill="#a8123c"/>
<rect x="375" y="167" width="1.2" height="9.0" fill="#000"/>
<rect x="376" y="172.0" width="1.2" height="9.0" fill="#a8123c"/>
<rect x="380" y="186" width="1.2" height="11.0" fill="#000"/>
<rect x="381" y="193.0" width="1.2" height="11.0" fill="#a8123c"/>
<rect x="385" y="204" width="1.2" height="15.5" fill="#000"/>
<rect x="386" y="215.5" width="1.2" height="15.5" fill="#a8123c"/>
<rect x="388" y="210" width="1.2" height="15.5" fill="#000"/>
<rect x="389" y="221.5" width="1.2" height="15.5" fill="#a8123c"/>
<rect x="393" y="196" width="1.2" height="14.0" fill="#000"/>
<rect x="394" y="206.0" width="1.2" height="14.0" fill="#a8123c"/>
<rect x="400" y="215" width="1.2" height="10.0" fill="#000"/>
<rect x="401" y="221.0" width="1.2" height="10.0" fill="#a8123c"/>
<rect x="410" y="212" width="1.2" height="10.0" fill="#000"/>
<rect x="411" y="218.0" width="1.2" height="10.0" fill="#a8123c"/>
<rect x="416" y="202" width="1.2" height="12.5" fill="#000"/>
<rect x="417" y="210.5" width="1.2" height="12.5" fill="#a8123c"/>
<rect x="420" y="215" width="1.2" height="14.5" fill="#000"/>
<rect x="421" y="225.5" width="1.2" height="14.5" fill="#a8123c"/>
<rect x="423" y="228" width="1.2" height="15.0" fill="#000"/>
<rect x="424" y="239.0" width="1.2" height="15.0" fill="#a8123c"/>
<rect x="425" y="240" width="1.2" height="12.0" fill="#000"/>
<rect x="426" y="248.0" width="1.2" height="12.0" fill="#a8123c"/>
<rect x="430" y="215" width="1.2" height="15.0" fill="#000"/>
<rect x="431" y="226.0" width="1.2" height="15.0" fill="#a8123c"/>
<rect x="435" y="178" width="1.2" height="11.0" fill="#000"/>
<rect x="436" y="185.0" width="1.2" height="11.0" fill="#a8123c"/>
<rect x="440" y="165" width="1.2" height="8.5" fill="#000"/>
<rect x="441" y="169.5" width="1.2" height="8.5" fill="#a8123c"/>
<rect x="444" y="150" width="1.2" height="12.0" fill="#000"/>
<rect x="445" y="158.0" width="1.2" height="12.0" fill="#a8123c"/>
<rect x="448" y="145" width="1.2" height="14.5" fill="#000"/>
<rect x="449" y="155.5" width="1.2" height="14.5" fill="#a8123c"/>
<rect x="452" y="157" width="1.2" height="18.5" fill="#000"/>
<rect x="453" y="171.5" width="1.2" height="18.5" fill="#a8123c"/>
<rect x="457" y="162" width="1.2" height="15.0" fill="#000"/>
<rect x="458" y="173.0" width="1.2" height="15.0" fill="#a8123c"/>
<rect x="461" y="146" width="1.2" height="15.5" fill="#000"/>
<rect x="462" y="157.5" width="1.2" height="15.5" fill="#a8123c"/>
<rect x="466" y="165" width="1.2" height="16.5" fill="#000"/>
<rect x="467" y="177.5" width="1.2" height="16.5" fill="#a8123c"/>
<rect x="469" y="170" width="1.2" height="16.5" fill="#000"/>
<rect x="470" y="182.5" width="1.2" height="16.5" fill="#a8123c"/>
<rect x="472" y="170" width="1.2" height="10.0" fill="#000"/>
<rect x="473" y="176.0" width="1.2" height="10.0" fill="#a8123c"/>
<rect x="476" y="160" width="1.2" height="19.5" fill="#000"/>
<rect x="477" y="175.5" width="1.2" height="19.5" fill="#a8123c"/>
<rect x="480" y="167" width="1.2" height="16.5" fill="#000"/>
<rect x="481" y="179.5" width="1.2" height="16.5" fill="#a8123c"/>
<rect x="482" y="157" width="1.2" height="16.0" fill="#000"/>
<rect x="483" y="169.0" width="1.2" height="16.0" fill="#a8123c"/>
<rect x="487" y="162" width="1.2" height="11.5" fill="#000"/>
<rect x="488" y="169.5" width="1.2" height="11.5" fill="#a8123c"/>
<rect x="490" y="141" width="1.2" height="16.5" fill="#000"/>
<rect x="491" y="153.5" width="1.2" height="16.5" fill="#a8123c"/>
<rect x="495" y="149" width="1.2" height="14.0" fill="#000"/>
<rect x="496" y="159.0" width="1.2" height="14.0" fill="#a8123c"/>
<rect x="500" y="173" width="1.2" height="9.5" fill="#000"/>
<rect x="501" y="178.5" width="1.2" height="9.5" fill="#a8123c"/>
<rect x="505" y="181" width="1.2" height="9.5" fill="#000"/>
<rect x="506" y="186.5" width="1.2" height="9.5" fill="#a8123c"/>
<rect x="510" y="178" width="1.2" height="11.5" fill="#000"/>
<rect x="511" y="185.5" width="1.2" height="11.5" fill="#a8123c"/>
<rect x="515" y="194" width="1.2" height="13.5" fill="#000"/>
<rect x="516" y="203.5" width="1.2" height="13.5" fill="#a8123c"/>
<rect x="520" y="194" width="1.2" height="10.0" fill="#000"/>
<rect x="521" y="200.0" width="1.2" height="10.0" fill="#a8123c"/>
<rect x="527" y="191" width="1.2" height="7.5" fill="#000"/>
<rect x="528" y="194.5" width="1.2" height="7.5" fill="#a8123c"/>
<rect x="530" y="212" width="1.2" height="11.5" fill="#000"/>
<rect x="531" y="219.5" width="1.2" height="11.5" fill="#a8123c"/>
<rect x="535" y="231" width="1.2" height="10.0" fill="#000"/>
<rect x="536" y="237.0" width="1.2" height="10.0" fill="#a8123c"/>
<rect x="540" y="236" width="1.2" height="11.5" fill="#000"/>
<rect x="541" y="243.5" width="1.2" height="11.5" fill="#a8123c"/>
<rect x="543" y="245" width="1.2" height="10.5" fill="#000"/>
<rect x="544" y="251.5" width="1.2" height="10.5" fill="#a8123c"/>
<rect x="546" y="265" width="1.2" height="8.5" fill="#000"/>
<rect x="547" y="269.5" width="1.2" height="8.5" fill="#a8123c"/>
<rect x="552" y="267" width="1.2" height="8.5" fill="#000"/>
<rect x="553" y="271.5" width="1.2" height="8.5" fill="#a8123c"/>
<rect x="557" y="272" width="1.2" height="9.0" fill="#000"/>
<rect x="558" y="277.0" width="1.2" height="9.0" fill="#a8123c"/>
<rect x="561" y="296" width="1.2" height="14.0" fill="#000"/>
<rect x="562" y="306.0" width="1.2" height="14.0" fill="#a8123c"/>
<rect x="565" y="288" width="1.2" height="14.0" fill="#000"/>
<rect x="566" y="298.0" width="1.2" height="14.0" fill="#a8123c"/>
<rect x="570" y="283" width="1.2" height="11.5" fill="#000"/>
<rect x="571" y="290.5" width="1.2" height="11.5" fill="#a8123c"/>
<rect x="575" y="286" width="1.2" height="10.0" fill="#000"/>
<rect x="576" y="292.0" width="1.2" height="10.0" fill="#a8123c"/>
<rect x="582" y="288" width="1.2" height="10.0" fill="#000"/>
<rect x="583" y="294.0" width="1.2" height="10.0" fill="#a8123c"/>
<rect x="590" y="291" width="1.2" height="12.5" fill="#000"/>
<rect x="591" y="299.5" width="1.2" height="12.5" fill="#a8123c"/>
<rect x="595" y="265" width="1.2" height="17.5" fill="#000"/>
<rect x="596" y="278.5" width="1.2" height="17.5" fill="#a8123c"/>
<rect x="602" y="257" width="1.2" height="11.0" fill="#000"/>
<rect x="603" y="264.0" width="1.2" height="11.0" fill="#a8123c"/>
<rect x="608" y="259" width="1.2" height="15.5" fill="#000"/>
<rect x="609" y="270.5" width="1.2" height="15.5" fill="#a8123c"/>
<rect x="613" y="280" width="1.2" height="13.0" fill="#000"/>
<rect x="614" y="289.0" width="1.2" height="13.0" fill="#a8123c"/>
<rect x="617" y="270" width="1.2" height="12.5" fill="#000"/>
<rect x="618" y="278.5" width="1.2" height="12.5" fill="#a8123c"/>
<rect x="622" y="257" width="1.2" height="12.5" fill="#000"/>
<rect x="623" y="265.5" width="1.2" height="12.5" fill="#a8123c"/>
<rect x="628" y="243" width="1.2" height="10.0" fill="#000"/>
<rect x="629" y="249.0" width="1.2" height="10.0" fill="#a8123c"/>
<rect x="633" y="228" width="1.2" height="13.5" fill="#000"/>
<rect x="634" y="237.5" width="1.2" height="13.5" fill="#a8123c"/>
<rect x="637" y="212" width="1.2" height="12.5" fill="#000"/>
<rect x="638" y="220.5" width="1.2" height="12.5" fill="#a8123c"/>
<rect x="640" y="204" width="1.2" height="10.0" fill="#000"/>
<rect x="641" y="210.0" width="1.2" height="10.0" fill="#a8123c"/>
<rect x="646" y="205" width="1.2" height="6.5" fill="#000"/>
<rect x="647" y="207.5" width="1.2" height="6.5" fill="#a8123c"/>
<rect x="651" y="200" width="1.2" height="12.5" fill="#000"/>
<rect x="652" y="208.5" width="1.2" height="12.5" fill="#a8123c"/>
<polyline points="41.5,402 43,390 45,372 47,350 49,326 50.5,305 52,280 53,250" fill="none" stroke="#000" stroke-width="2.6"/>
<rect x="203.5" y="167" width="1" height="120" fill="#b3123f"/>
<polygon points="43,60.5 44.6,62.3 46.9,53.1 50.3,46.3 51.4,60 52,60.5" fill="#7d9a7d"/>
<polyline points="41.0,68.0 41.9,67.9 42.8,66.5 43.7,62.8 44.6,62.3 45.8,59.3 46.9,53.1 48.0,48.3 49.2,48.8 50.3,46.3 51.4,60.0 52.5,60.3 53.7,62.3 54.9,64.8 56.0,66.9 57.1,63.9 58.3,62.3 59.2,63.9 60.1,59.7 61.1,63.7 62.0,60.9 62.9,62.3 63.8,63.3 64.7,63.8 65.6,66.0 66.5,67.2 67.4,71.4 68.3,73.7 69.2,71.9 70.2,71.9 71.1,71.0 72.0,73.7 73.2,75.2 74.3,80.6 75.4,79.2 76.6,76.8 77.7,77.1 78.8,72.9 79.9,74.2 81.0,71.4 81.9,71.0 82.9,75.4 83.8,76.4 84.8,75.2 85.7,76.0 86.6,76.8 87.5,75.3 88.5,74.7 89.4,71.8 90.3,72.6 91.4,70.9 92.6,68.5 93.7,63.4 94.7,66.2 95.6,66.5 96.6,66.6 97.5,72.6 98.5,72.6 99.4,73.7 100.3,75.0 101.2,73.3 102.2,78.1 103.1,75.3 104.0,77.1 105.1,79.2 106.3,81.6 107.4,85.1 108.3,88.4 109.2,84.8 110.2,89.8 111.1,89.5 112.0,89.7 113.1,77.1 114.0,75.4 114.9,73.4 115.9,71.5 116.8,66.1 117.7,65.7 118.8,62.3 120.0,63.4 121.1,66.1 122.3,72.8 123.4,78.3 124.3,72.1 125.2,71.5 126.0,66.5 126.9,62.3 128.0,59.2 129.2,58.4 130.3,60.0 131.4,58.9 132.3,62.6 133.2,64.7 134.2,66.5 135.1,70.9 136.0,71.4 136.9,74.5 137.8,73.0 138.8,76.2 139.7,73.8 140.6,76.0 141.6,73.4 142.5,72.8 143.4,68.0 144.4,70.1 145.4,67.5 146.3,63.4 147.4,68.7 148.6,70.1 149.7,73.7 150.6,72.6 151.5,71.7 152.5,72.5 153.4,74.3 154.3,72.6 155.4,70.0 156.6,71.4 157.6,72.2 158.5,75.2 159.5,77.4 160.5,81.2 161.5,84.6 162.4,82.9 163.4,87.4 164.3,83.0 165.2,84.3 166.0,81.4 166.9,78.3 168.0,78.7 169.2,79.9 170.3,80.2 171.4,84.0 172.3,81.4 173.2,80.7 174.2,74.1 175.1,72.6 176.0,71.4 177.1,72.3 178.3,78.0 179.4,80.6 180.3,81.7 181.2,86.4 182.2,89.7 183.1,96.5 184.0,97.7 184.9,99.0 185.8,95.1 186.8,95.2 187.7,92.3 188.6,93.1 189.7,90.4 190.8,90.3 192.0,86.4 193.1,85.1 194.0,81.7 194.8,82.5 195.7,81.9 196.6,78.3 197.7,76.7 198.9,69.0 200.0,67.0 201.2,74.0 202.3,78.3 203.4,82.8 204.6,82.9 205.7,94.3 206.6,92.6 207.6,96.6 208.6,98.6 209.5,98.7 210.4,100.0 211.4,98.9 212.3,96.9 213.2,99.5 214.2,95.6 215.1,93.5 216.0,95.4 217.0,93.2 218.0,94.4 219.0,94.2 219.9,93.6 220.9,94.5 221.9,94.4 222.9,94.3 224.0,92.5 225.2,95.1 226.3,95.1 227.4,95.4 228.3,91.8 229.2,89.1 230.0,88.2 230.9,82.9 232.0,81.6 233.2,75.6 234.3,72.6 235.2,68.8 236.2,67.9 237.2,66.8 238.1,66.2 239.1,63.6 240.0,63.4 240.9,63.9 241.8,63.9 242.8,67.6 243.7,68.8 244.6,70.3 245.7,67.4 246.8,68.0 248.0,68.6 249.1,64.6 250.0,66.1 250.9,62.6 251.9,60.2 252.8,61.4 253.7,61.1 254.6,59.3 255.5,62.1 256.5,62.5 257.4,62.0 258.3,63.4 259.4,60.6 260.6,61.7 261.7,61.1 262.9,66.1 264.0,71.4 265.0,73.7 266.1,72.9 267.1,69.5 268.1,73.0 269.1,72.1 270.2,69.3 271.2,70.3 272.2,72.9 273.3,69.2 274.3,71.4 275.2,70.9 276.1,68.1 277.1,65.3 278.0,65.0 278.9,63.4 279.8,64.3 280.8,65.4 281.8,66.1 282.7,64.9 283.7,65.4 284.6,64.6 285.7,60.4 286.9,61.9 288.0,60.8 289.1,57.7 290.0,60.9 290.9,60.4 291.7,63.9 292.6,66.9 293.7,66.8 294.7,69.8 295.8,67.3 296.8,66.3 297.9,71.0 298.9,70.4 300.0,70.0 301.0,71.0 301.9,71.6 302.9,68.3 303.9,70.8 304.9,72.5 305.8,71.3 306.8,73.6 307.8,71.0 308.7,74.8 309.7,72.6 310.7,73.1 311.7,69.0 312.7,67.8 313.7,65.9 314.7,63.9 315.7,62.4 316.7,61.8 317.7,62.3 318.8,64.6 320.0,68.3 321.1,71.4 322.1,69.0 323.1,70.4 324.1,72.8 325.1,72.0 326.0,71.5 327.0,69.0 328.0,72.4 329.0,68.6 330.0,70.0 331.0,69.6 332.0,68.6 333.0,70.9 334.0,68.0 335.0,71.5 336.0,70.1 337.0,66.2 338.0,66.7 339.0,67.7 340.0,68.0 341.1,69.7 342.1,69.5 343.1,71.1 344.2,68.9 345.2,72.6 346.3,71.4 347.4,66.6 348.6,67.0 349.7,62.3 350.7,63.1 351.7,62.7 352.7,63.4 353.7,62.9 354.7,62.5 355.7,64.3 356.7,63.1 357.7,64.6 358.9,64.7 360.0,65.7 361.1,66.7 362.3,66.0 363.4,62.3 364.5,58.7 365.7,58.9 366.8,56.8 368.0,57.9 369.1,55.4 370.2,54.3 371.4,56.6 372.5,61.9 373.7,68.0 374.9,68.1 376.0,72.6 377.0,74.4 378.0,74.5 379.0,71.8 380.0,73.7 381.0,72.0 382.0,71.8 383.0,75.1 384.0,76.4 385.0,75.2 386.0,72.2 387.0,74.2 388.0,76.3 389.0,77.3 390.0,75.0 391.0,76.9 392.0,72.5 392.9,75.8 393.9,72.7 394.9,72.3 395.9,71.8 396.9,73.3 397.9,72.7 398.8,74.4 399.8,74.5 400.8,73.7 401.8,72.8 402.8,73.0 403.8,73.0 404.7,73.6 405.7,71.8 406.7,72.5 407.7,72.5 408.7,71.7 409.7,72.3 410.6,70.4 411.6,70.9 412.6,71.4 413.7,75.0 414.9,77.2 416.0,77.3 417.1,78.3 418.0,79.2 418.9,83.4 419.9,81.1 420.8,85.4 421.7,85.1 422.8,88.1 424.0,86.7 425.1,90.9 426.0,89.5 426.9,84.8 427.7,83.1 428.6,81.7 429.7,81.0 430.9,75.7 432.0,72.3 433.1,70.3 434.0,68.8 434.9,67.0 435.7,63.8 436.6,58.9 437.7,59.9 438.9,60.3 440.0,62.3 441.1,62.9 442.3,61.0 443.4,56.6 444.5,58.5 445.7,64.6 446.9,62.4 448.0,55.4 449.1,60.8 450.3,65.7 451.4,67.1 452.6,67.6 453.7,71.4 454.9,78.4 456.0,82.9 457.0,77.9 458.1,75.4 459.1,69.4 460.1,65.7 461.0,69.5 462.0,72.6 462.9,77.1 464.0,82.0 465.1,82.4 466.3,86.0 467.4,86.3 468.3,81.7 469.1,81.2 470.0,80.6 470.9,76.0 471.8,77.6 472.8,78.7 473.8,78.7 474.7,79.6 475.7,79.9 476.6,81.7 477.7,78.2 478.9,73.5 480.0,71.9 481.1,66.9 482.0,68.5 482.9,73.6 483.7,75.6 484.6,77.1 485.6,76.7 486.5,75.9 487.5,72.5 488.4,69.8 489.4,71.1 490.3,69.1 491.2,69.2 492.1,71.7 493.1,71.0 494.0,72.4 494.9,74.9 496.0,77.4 497.1,80.3 498.3,80.2 499.4,82.9 500.3,85.2 501.2,84.6 502.2,82.5 503.1,82.4 504.0,85.1 504.9,83.7 505.8,83.7 506.8,83.1 507.7,78.2 508.6,79.4 509.7,85.3 510.9,87.6 512.0,90.9 512.9,88.1 513.8,86.6 514.8,81.6 515.7,83.3 516.6,79.4 517.7,82.0 518.9,79.0 520.0,82.0 521.0,79.9 522.0,78.8 523.0,78.1 524.0,79.0 525.0,80.1 526.0,78.5 527.0,76.0 528.0,89.0 529.0,88.6 530.0,88.5 531.0,89.8 532.0,93.0 533.0,92.6 534.0,94.9 535.0,98.1 536.0,100.0 537.0,93.8 538.0,91.2 539.0,88.0 540.0,87.9 541.0,91.3 542.0,91.0 543.0,94.9 544.0,94.1 545.0,97.0 546.0,97.6 547.0,92.4 548.0,92.0 549.0,89.4 550.0,86.9 551.0,85.5 552.0,88.9 553.0,85.0 554.0,84.8 555.0,90.2 556.0,90.0 557.0,88.4 558.0,88.7 559.0,88.0 560.0,90.1 561.0,96.5 562.0,100.0 563.0,98.5 564.0,93.6 565.0,88.0 566.0,86.6 567.0,84.3 568.0,79.3 569.0,77.0 570.0,77.9 571.0,78.5 572.0,83.0 573.0,81.0 574.0,78.8 575.0,79.9 576.0,76.7 577.0,78.0 578.0,75.8 579.0,78.7 580.0,76.6 581.0,76.2 582.0,76.0 583.0,80.6 584.0,82.6 585.0,86.7 586.0,88.0 587.0,83.9 588.0,79.7 589.0,76.0 590.0,75.5 591.0,82.3 592.0,82.0 593.0,75.5 594.0,73.8 595.0,67.0 596.0,67.0 597.0,68.7 598.0,67.6 599.0,67.9 600.0,68.0 601.0,67.9 602.0,67.2 603.0,68.8 604.0,71.0 605.0,70.0 606.0,74.0 607.0,72.7 608.0,69.8 609.0,70.0 610.0,76.5 611.0,80.4 612.0,86.0 613.0,81.9 614.0,79.4 615.0,81.0 616.0,76.0 617.0,79.6 618.0,80.1 619.0,77.1 620.0,80.0 621.0,74.2 622.0,72.8 623.0,68.7 624.0,66.0 625.0,68.1 626.0,68.9 627.0,70.1 628.0,71.6 629.0,71.0 630.0,68.9 631.0,67.9 632.0,65.2 633.0,66.0 634.0,63.0 635.0,61.0 636.0,59.9 637.0,59.1 638.0,57.6 639.0,58.0 640.0,58.3 641.0,62.7 642.0,64.0 643.0,62.9 644.0,62.1 645.0,63.8 646.0,65.0 647.0,68.0 648.0,68.0 649.0,68.5 650.0,68.6 651.0,66.0" fill="none" stroke="#000" stroke-width="1.4" stroke-linejoin="miter"/>
<polygon points="43,38.5 45,33 47,36 49,32 51,38.5" fill="#7d9a7d" stroke="#333" stroke-width="0.8"/>
<text x="56" y="39" font-size="11" fill="#000" font-weight="normal" text-anchor="start" textLength="78" lengthAdjust="spacingAndGlyphs" >RSI(14) 63.83</text>
<text x="659.5" y="47.325" font-size="9.5" fill="#000" font-weight="normal" text-anchor="start" textLength="12" lengthAdjust="spacingAndGlyphs" >90</text>
<text x="659.5" y="64.075" font-size="9.5" fill="#000" font-weight="normal" text-anchor="start" textLength="12" lengthAdjust="spacingAndGlyphs" >70</text>
<text x="659.5" y="80.825" font-size="9.5" fill="#000" font-weight="normal" text-anchor="start" textLength="12" lengthAdjust="spacingAndGlyphs" >50</text>
<text x="659.5" y="97.575" font-size="9.5" fill="#000" font-weight="normal" text-anchor="start" textLength="12" lengthAdjust="spacingAndGlyphs" >30</text>
<text x="659.5" y="114.325" font-size="9.5" fill="#000" font-weight="normal" text-anchor="start" textLength="12" lengthAdjust="spacingAndGlyphs" >10</text>
<rect x="41" y="467.6" width="1" height="3.7" fill="#1f6e8e"/>
<rect x="42" y="467.5" width="1" height="3.8" fill="#1f6e8e"/>
<rect x="43" y="467.3" width="1" height="4.0" fill="#1f6e8e"/>
<rect x="44" y="467.1" width="1" height="4.2" fill="#1f6e8e"/>
<rect x="45" y="467.9" width="1" height="3.4" fill="#1f6e8e"/>
<rect x="46" y="467.9" width="1" height="3.4" fill="#1f6e8e"/>
<rect x="47" y="463.6" width="1" height="7.7" fill="#1f6e8e"/>
<rect x="48" y="460.2" width="1" height="11.1" fill="#1f6e8e"/>
<rect x="49" y="459.3" width="1" height="12.0" fill="#1f6e8e"/>
<rect x="50" y="457.5" width="1" height="13.8" fill="#1f6e8e"/>
<rect x="51" y="458.0" width="1" height="13.3" fill="#1f6e8e"/>
<rect x="52" y="459.7" width="1" height="11.6" fill="#1f6e8e"/>
<rect x="53" y="460.7" width="1" height="10.6" fill="#1f6e8e"/>
<rect x="54" y="462.3" width="1" height="9.0" fill="#1f6e8e"/>
<rect x="55" y="464.4" width="1" height="6.9" fill="#1f6e8e"/>
<rect x="56" y="465.6" width="1" height="5.7" fill="#1f6e8e"/>
<rect x="57" y="467.0" width="1" height="4.3" fill="#1f6e8e"/>
<rect x="58" y="469.7" width="1" height="1.6" fill="#1f6e8e"/>
<rect x="59" y="471.3" width="1" height="0.2" fill="#1f6e8e"/>
<rect x="60" y="471.3" width="1" height="1.6" fill="#1f6e8e"/>
<rect x="61" y="471.3" width="1" height="3.3" fill="#1f6e8e"/>
<rect x="62" y="471.3" width="1" height="2.1" fill="#1f6e8e"/>
<rect x="63" y="471.3" width="1" height="2.8" fill="#1f6e8e"/>
<rect x="64" y="471.3" width="1" height="1.6" fill="#1f6e8e"/>
<rect x="65" y="471.3" width="1" height="2.8" fill="#1f6e8e"/>
<rect x="66" y="471.3" width="1" height="3.5" fill="#1f6e8e"/>
<rect x="67" y="471.3" width="1" height="3.5" fill="#1f6e8e"/>
<rect x="68" y="471.3" width="1" height="4.4" fill="#1f6e8e"/>
<rect x="69" y="471.3" width="1" height="7.0" fill="#1f6e8e"/>
<rect x="70" y="471.3" width="1" height="6.6" fill="#1f6e8e"/>
<rect x="71" y="471.3" width="1" height="7.1" fill="#1f6e8e"/>
<rect x="72" y="471.3" width="1" height="7.2" fill="#1f6e8e"/>
<rect x="73" y="471.3" width="1" height="6.8" fill="#1f6e8e"/>
<rect x="74" y="471.3" width="1" height="8.3" fill="#1f6e8e"/>
<rect x="75" y="471.3" width="1" height="12.0" fill="#1f6e8e"/>
<rect x="76" y="471.3" width="1" height="10.1" fill="#1f6e8e"/>
<rect x="77" y="471.3" width="1" height="9.6" fill="#1f6e8e"/>
<rect x="78" y="471.3" width="1" height="8.8" fill="#1f6e8e"/>
<rect x="79" y="471.3" width="1" height="8.1" fill="#1f6e8e"/>
<rect x="80" y="471.3" width="1" height="6.1" fill="#1f6e8e"/>
<rect x="81" y="471.3" width="1" height="4.9" fill="#1f6e8e"/>
<rect x="82" y="471.3" width="1" height="2.9" fill="#1f6e8e"/>
<rect x="83" y="471.3" width="1" height="1.3" fill="#1f6e8e"/>
<rect x="84" y="471.3" width="1" height="1.3" fill="#1f6e8e"/>
<rect x="85" y="471.3" width="1" height="1.1" fill="#1f6e8e"/>
<rect x="86" y="471.3" width="1" height="1.9" fill="#1f6e8e"/>
<rect x="87" y="471.3" width="1" height="1.9" fill="#1f6e8e"/>
<rect x="88" y="471.3" width="1" height="1.3" fill="#1f6e8e"/>
<rect x="89" y="471.3" width="1" height="0.8" fill="#1f6e8e"/>
<rect x="90" y="471.3" width="1" height="0.7" fill="#1f6e8e"/>
<rect x="91" y="471.3" width="1" height="1.0" fill="#1f6e8e"/>
<rect x="92" y="471.3" width="1" height="0.8" fill="#1f6e8e"/>
<rect x="93" y="469.2" width="1" height="2.1" fill="#1f6e8e"/>
<rect x="94" y="467.9" width="1" height="3.4" fill="#1f6e8e"/>
<rect x="95" y="465.9" width="1" height="5.4" fill="#1f6e8e"/>
<rect x="96" y="465.3" width="1" height="6.0" fill="#1f6e8e"/>
<rect x="97" y="465.0" width="1" height="6.3" fill="#1f6e8e"/>
<rect x="98" y="466.3" width="1" height="5.0" fill="#1f6e8e"/>
<rect x="99" y="468.6" width="1" height="2.7" fill="#1f6e8e"/>
<rect x="100" y="470.1" width="1" height="1.2" fill="#1f6e8e"/>
<rect x="101" y="471.3" width="1" height="0.0" fill="#1f6e8e"/>
<rect x="102" y="471.3" width="1" height="1.1" fill="#1f6e8e"/>
<rect x="103" y="471.3" width="1" height="2.2" fill="#1f6e8e"/>
<rect x="104" y="471.3" width="1" height="3.8" fill="#1f6e8e"/>
<rect x="105" y="471.3" width="1" height="4.4" fill="#1f6e8e"/>
<rect x="106" y="471.3" width="1" height="4.5" fill="#1f6e8e"/>
<rect x="107" y="471.3" width="1" height="5.6" fill="#1f6e8e"/>
<rect x="108" y="471.3" width="1" height="7.8" fill="#1f6e8e"/>
<rect x="109" y="471.3" width="1" height="8.9" fill="#1f6e8e"/>
<rect x="110" y="471.3" width="1" height="10.0" fill="#1f6e8e"/>
<rect x="111" y="471.3" width="1" height="10.2" fill="#1f6e8e"/>
<rect x="112" y="471.3" width="1" height="11.2" fill="#1f6e8e"/>
<rect x="113" y="471.3" width="1" height="5.0" fill="#1f6e8e"/>
<rect x="114" y="471.3" width="1" height="0.7" fill="#1f6e8e"/>
<rect x="115" y="467.6" width="1" height="3.7" fill="#1f6e8e"/>
<rect x="116" y="465.4" width="1" height="5.9" fill="#1f6e8e"/>
<rect x="117" y="464.2" width="1" height="7.1" fill="#1f6e8e"/>
<rect x="118" y="463.9" width="1" height="7.4" fill="#1f6e8e"/>
<rect x="119" y="464.2" width="1" height="7.1" fill="#1f6e8e"/>
<rect x="120" y="463.6" width="1" height="7.7" fill="#1f6e8e"/>
<rect x="121" y="463.2" width="1" height="8.1" fill="#1f6e8e"/>
<rect x="122" y="465.5" width="1" height="5.8" fill="#1f6e8e"/>
<rect x="123" y="467.2" width="1" height="4.1" fill="#1f6e8e"/>
<rect x="124" y="468.2" width="1" height="3.1" fill="#1f6e8e"/>
<rect x="125" y="467.8" width="1" height="3.5" fill="#1f6e8e"/>
<rect x="126" y="464.8" width="1" height="6.5" fill="#1f6e8e"/>
<rect x="127" y="462.9" width="1" height="8.4" fill="#1f6e8e"/>
<rect x="128" y="461.7" width="1" height="9.6" fill="#1f6e8e"/>
<rect x="129" y="462.4" width="1" height="8.9" fill="#1f6e8e"/>
<rect x="130" y="463.3" width="1" height="8.0" fill="#1f6e8e"/>
<rect x="131" y="462.9" width="1" height="8.4" fill="#1f6e8e"/>
<rect x="132" y="462.9" width="1" height="8.4" fill="#1f6e8e"/>
<rect x="133" y="464.4" width="1" height="6.9" fill="#1f6e8e"/>
<rect x="134" y="468.8" width="1" height="2.5" fill="#1f6e8e"/>
<rect x="135" y="470.4" width="1" height="0.9" fill="#1f6e8e"/>
<rect x="136" y="471.3" width="1" height="1.2" fill="#1f6e8e"/>
<rect x="137" y="471.3" width="1" height="3.7" fill="#1f6e8e"/>
<rect x="138" y="471.3" width="1" height="5.2" fill="#1f6e8e"/>
<rect x="139" y="471.3" width="1" height="5.5" fill="#1f6e8e"/>
<rect x="140" y="471.3" width="1" height="6.7" fill="#1f6e8e"/>
<rect x="141" y="471.3" width="1" height="6.9" fill="#1f6e8e"/>
<rect x="142" y="471.3" width="1" height="6.8" fill="#1f6e8e"/>
<rect x="143" y="471.3" width="1" height="7.6" fill="#1f6e8e"/>
<rect x="144" y="471.3" width="1" height="6.5" fill="#1f6e8e"/>
<rect x="145" y="471.3" width="1" height="3.7" fill="#1f6e8e"/>
<rect x="146" y="471.3" width="1" height="0.9" fill="#1f6e8e"/>
<rect x="147" y="470.0" width="1" height="1.3" fill="#1f6e8e"/>
<rect x="148" y="469.8" width="1" height="1.5" fill="#1f6e8e"/>
<rect x="149" y="471.3" width="1" height="0.0" fill="#1f6e8e"/>
<rect x="150" y="471.3" width="1" height="0.8" fill="#1f6e8e"/>
<rect x="151" y="471.3" width="1" height="1.2" fill="#1f6e8e"/>
<rect x="152" y="471.3" width="1" height="1.1" fill="#1f6e8e"/>
<rect x="153" y="471.3" width="1" height="2.5" fill="#1f6e8e"/>
<rect x="154" y="471.3" width="1" height="1.9" fill="#1f6e8e"/>
<rect x="155" y="471.3" width="1" height="2.5" fill="#1f6e8e"/>
<rect x="156" y="471.3" width="1" height="3.3" fill="#1f6e8e"/>
<rect x="157" y="471.3" width="1" height="4.0" fill="#1f6e8e"/>
<rect x="158" y="471.3" width="1" height="4.2" fill="#1f6e8e"/>
<rect x="159" y="471.3" width="1" height="4.6" fill="#1f6e8e"/>
<rect x="160" y="471.3" width="1" height="4.7" fill="#1f6e8e"/>
<rect x="161" y="471.3" width="1" height="5.3" fill="#1f6e8e"/>
<rect x="162" y="471.3" width="1" height="6.3" fill="#1f6e8e"/>
<rect x="163" y="471.3" width="1" height="6.7" fill="#1f6e8e"/>
<rect x="164" y="471.3" width="1" height="6.2" fill="#1f6e8e"/>
<rect x="165" y="471.3" width="1" height="6.3" fill="#1f6e8e"/>
<rect x="166" y="471.3" width="1" height="3.0" fill="#1f6e8e"/>
<rect x="167" y="471.3" width="1" height="1.2" fill="#1f6e8e"/>
<rect x="168" y="471.3" width="1" height="0.3" fill="#1f6e8e"/>
<rect x="169" y="470.5" width="1" height="0.8" fill="#1f6e8e"/>
<rect x="170" y="471.1" width="1" height="0.2" fill="#1f6e8e"/>
<rect x="171" y="471.3" width="1" height="0.1" fill="#1f6e8e"/>
<rect x="172" y="471.3" width="1" height="0.1" fill="#1f6e8e"/>
<rect x="173" y="471.3" width="1" height="0.9" fill="#1f6e8e"/>
<rect x="174" y="471.3" width="1" height="0.9" fill="#1f6e8e"/>
<rect x="175" y="471.3" width="1" height="1.2" fill="#1f6e8e"/>
<rect x="176" y="471.3" width="1" height="1.4" fill="#1f6e8e"/>
<rect x="177" y="471.3" width="1" height="1.3" fill="#1f6e8e"/>
<rect x="178" y="471.3" width="1" height="0.8" fill="#1f6e8e"/>
<rect x="179" y="471.3" width="1" height="0.8" fill="#1f6e8e"/>
<rect x="180" y="471.3" width="1" height="2.6" fill="#1f6e8e"/>
<rect x="181" y="471.3" width="1" height="5.0" fill="#1f6e8e"/>
<rect x="182" y="471.3" width="1" height="6.5" fill="#1f6e8e"/>
<rect x="183" y="471.3" width="1" height="7.4" fill="#1f6e8e"/>
<rect x="184" y="471.3" width="1" height="8.1" fill="#1f6e8e"/>
<rect x="185" y="471.3" width="1" height="7.6" fill="#1f6e8e"/>
<rect x="186" y="471.3" width="1" height="8.1" fill="#1f6e8e"/>
<rect x="187" y="471.3" width="1" height="7.8" fill="#1f6e8e"/>
<rect x="188" y="471.3" width="1" height="6.5" fill="#1f6e8e"/>
<rect x="189" y="471.3" width="1" height="5.8" fill="#1f6e8e"/>
<rect x="190" y="471.3" width="1" height="3.8" fill="#1f6e8e"/>
<rect x="191" y="471.3" width="1" height="1.9" fill="#1f6e8e"/>
<rect x="192" y="471.2" width="1" height="0.1" fill="#1f6e8e"/>
<rect x="193" y="471.1" width="1" height="0.2" fill="#1f6e8e"/>
<rect x="194" y="469.3" width="1" height="2.0" fill="#1f6e8e"/>
<rect x="195" y="467.5" width="1" height="3.8" fill="#1f6e8e"/>
<rect x="196" y="466.7" width="1" height="4.6" fill="#1f6e8e"/>
<rect x="197" y="465.8" width="1" height="5.5" fill="#1f6e8e"/>
<rect x="198" y="465.5" width="1" height="5.8" fill="#1f6e8e"/>
<rect x="199" y="465.3" width="1" height="6.0" fill="#1f6e8e"/>
<rect x="200" y="464.5" width="1" height="6.8" fill="#1f6e8e"/>
<rect x="201" y="466.8" width="1" height="4.5" fill="#1f6e8e"/>
<rect x="202" y="468.8" width="1" height="2.5" fill="#1f6e8e"/>
<rect x="203" y="471.0" width="1" height="0.3" fill="#1f6e8e"/>
<rect x="204" y="471.3" width="1" height="1.3" fill="#1f6e8e"/>
<rect x="205" y="471.3" width="1" height="2.7" fill="#1f6e8e"/>
<rect x="206" y="471.3" width="1" height="4.8" fill="#1f6e8e"/>
<rect x="207" y="471.3" width="1" height="5.4" fill="#1f6e8e"/>
<rect x="208" y="471.3" width="1" height="6.5" fill="#1f6e8e"/>
<rect x="209" y="471.3" width="1" height="6.9" fill="#1f6e8e"/>
<rect x="210" y="471.3" width="1" height="6.3" fill="#1f6e8e"/>
<rect x="211" y="471.3" width="1" height="7.0" fill="#1f6e8e"/>
<rect x="212" y="471.3" width="1" height="6.1" fill="#1f6e8e"/>
<rect x="213" y="471.3" width="1" height="6.6" fill="#1f6e8e"/>
<rect x="214" y="471.3" width="1" height="5.1" fill="#1f6e8e"/>
<rect x="215" y="471.3" width="1" height="4.7" fill="#1f6e8e"/>
<rect x="216" y="471.3" width="1" height="4.8" fill="#1f6e8e"/>
<rect x="217" y="471.3" width="1" height="3.6" fill="#1f6e8e"/>
<rect x="218" y="471.3" width="1" height="2.0" fill="#1f6e8e"/>
<rect x="219" y="471.3" width="1" height="1.3" fill="#1f6e8e"/>
<rect x="220" y="471.3" width="1" height="0.2" fill="#1f6e8e"/>
<rect x="221" y="471.2" width="1" height="0.1" fill="#1f6e8e"/>
<rect x="222" y="471.3" width="1" height="0.2" fill="#1f6e8e"/>
<rect x="223" y="471.3" width="1" height="0.7" fill="#1f6e8e"/>
<rect x="224" y="471.3" width="1" height="0.3" fill="#1f6e8e"/>
<rect x="225" y="471.3" width="1" height="0.6" fill="#1f6e8e"/>
<rect x="226" y="471.3" width="1" height="1.3" fill="#1f6e8e"/>
<rect x="227" y="471.2" width="1" height="0.1" fill="#1f6e8e"/>
<rect x="228" y="471.0" width="1" height="0.3" fill="#1f6e8e"/>
<rect x="229" y="470.0" width="1" height="1.3" fill="#1f6e8e"/>
<rect x="230" y="467.5" width="1" height="3.8" fill="#1f6e8e"/>
<rect x="231" y="464.7" width="1" height="6.6" fill="#1f6e8e"/>
<rect x="232" y="463.9" width="1" height="7.4" fill="#1f6e8e"/>
<rect x="233" y="462.4" width="1" height="8.9" fill="#1f6e8e"/>
<rect x="234" y="461.0" width="1" height="10.3" fill="#1f6e8e"/>
<rect x="235" y="460.8" width="1" height="10.5" fill="#1f6e8e"/>
<rect x="236" y="461.0" width="1" height="10.3" fill="#1f6e8e"/>
<rect x="237" y="460.5" width="1" height="10.8" fill="#1f6e8e"/>
<rect x="238" y="459.7" width="1" height="11.6" fill="#1f6e8e"/>
<rect x="239" y="460.6" width="1" height="10.7" fill="#1f6e8e"/>
<rect x="240" y="460.2" width="1" height="11.1" fill="#1f6e8e"/>
<rect x="241" y="460.8" width="1" height="10.5" fill="#1f6e8e"/>
<rect x="242" y="460.9" width="1" height="10.4" fill="#1f6e8e"/>
<rect x="243" y="463.6" width="1" height="7.7" fill="#1f6e8e"/>
<rect x="244" y="465.2" width="1" height="6.1" fill="#1f6e8e"/>
<rect x="245" y="467.5" width="1" height="3.8" fill="#1f6e8e"/>
<rect x="246" y="468.3" width="1" height="3.0" fill="#1f6e8e"/>
<rect x="247" y="469.5" width="1" height="1.8" fill="#1f6e8e"/>
<rect x="248" y="468.0" width="1" height="3.3" fill="#1f6e8e"/>
<rect x="249" y="468.5" width="1" height="2.8" fill="#1f6e8e"/>
<rect x="250" y="467.8" width="1" height="3.5" fill="#1f6e8e"/>
<rect x="251" y="467.2" width="1" height="4.1" fill="#1f6e8e"/>
<rect x="252" y="467.5" width="1" height="3.8" fill="#1f6e8e"/>
<rect x="253" y="467.9" width="1" height="3.4" fill="#1f6e8e"/>
<rect x="254" y="468.0" width="1" height="3.3" fill="#1f6e8e"/>
<rect x="255" y="468.6" width="1" height="2.7" fill="#1f6e8e"/>
<rect x="256" y="470.0" width="1" height="1.3" fill="#1f6e8e"/>
<rect x="257" y="470.7" width="1" height="0.6" fill="#1f6e8e"/>
<rect x="258" y="470.1" width="1" height="1.2" fill="#1f6e8e"/>
<rect x="259" y="471.0" width="1" height="0.3" fill="#1f6e8e"/>
<rect x="260" y="470.2" width="1" height="1.1" fill="#1f6e8e"/>
<rect x="261" y="469.8" width="1" height="1.5" fill="#1f6e8e"/>
<rect x="262" y="470.0" width="1" height="1.3" fill="#1f6e8e"/>
<rect x="263" y="470.6" width="1" height="0.7" fill="#1f6e8e"/>
<rect x="264" y="471.3" width="1" height="1.8" fill="#1f6e8e"/>
<rect x="265" y="471.3" width="1" height="3.7" fill="#1f6e8e"/>
<rect x="266" y="471.3" width="1" height="5.3" fill="#1f6e8e"/>
<rect x="267" y="471.3" width="1" height="5.9" fill="#1f6e8e"/>
<rect x="268" y="471.3" width="1" height="7.2" fill="#1f6e8e"/>
<rect x="269" y="471.3" width="1" height="7.5" fill="#1f6e8e"/>
<rect x="270" y="471.3" width="1" height="8.2" fill="#1f6e8e"/>
<rect x="271" y="471.3" width="1" height="8.2" fill="#1f6e8e"/>
<rect x="272" y="471.3" width="1" height="5.3" fill="#1f6e8e"/>
<rect x="273" y="471.3" width="1" height="2.2" fill="#1f6e8e"/>
<rect x="274" y="471.3" width="1" height="0.3" fill="#1f6e8e"/>
<rect x="275" y="470.7" width="1" height="0.6" fill="#1f6e8e"/>
<rect x="276" y="469.6" width="1" height="1.7" fill="#1f6e8e"/>
<rect x="277" y="468.4" width="1" height="2.9" fill="#1f6e8e"/>
<rect x="278" y="467.8" width="1" height="3.5" fill="#1f6e8e"/>
<rect x="279" y="467.8" width="1" height="3.5" fill="#1f6e8e"/>
<rect x="280" y="466.8" width="1" height="4.5" fill="#1f6e8e"/>
<rect x="281" y="468.4" width="1" height="2.9" fill="#1f6e8e"/>
<rect x="282" y="468.9" width="1" height="2.4" fill="#1f6e8e"/>
<rect x="283" y="469.5" width="1" height="1.8" fill="#1f6e8e"/>
<rect x="284" y="469.0" width="1" height="2.3" fill="#1f6e8e"/>
<rect x="285" y="470.0" width="1" height="1.3" fill="#1f6e8e"/>
<rect x="286" y="469.5" width="1" height="1.8" fill="#1f6e8e"/>
<rect x="287" y="468.2" width="1" height="3.1" fill="#1f6e8e"/>
<rect x="288" y="468.2" width="1" height="3.1" fill="#1f6e8e"/>
<rect x="289" y="466.9" width="1" height="4.4" fill="#1f6e8e"/>
<rect x="290" y="466.3" width="1" height="5.0" fill="#1f6e8e"/>
<rect x="291" y="468.2" width="1" height="3.1" fill="#1f6e8e"/>
<rect x="292" y="469.6" width="1" height="1.7" fill="#1f6e8e"/>
<rect x="293" y="470.3" width="1" height="1.0" fill="#1f6e8e"/>
<rect x="294" y="471.0" width="1" height="0.3" fill="#1f6e8e"/>
<rect x="295" y="471.3" width="1" height="2.6" fill="#1f6e8e"/>
<rect x="296" y="471.3" width="1" height="4.7" fill="#1f6e8e"/>
<rect x="297" y="471.3" width="1" height="5.8" fill="#1f6e8e"/>
<rect x="298" y="471.3" width="1" height="7.7" fill="#1f6e8e"/>
<rect x="299" y="471.3" width="1" height="7.8" fill="#1f6e8e"/>
<rect x="300" y="471.3" width="1" height="8.3" fill="#1f6e8e"/>
<rect x="301" y="471.3" width="1" height="8.6" fill="#1f6e8e"/>
<rect x="302" y="471.3" width="1" height="8.2" fill="#1f6e8e"/>
<rect x="303" y="471.3" width="1" height="9.3" fill="#1f6e8e"/>
<rect x="304" y="471.3" width="1" height="7.9" fill="#1f6e8e"/>
<rect x="305" y="471.3" width="1" height="6.8" fill="#1f6e8e"/>
<rect x="306" y="471.3" width="1" height="5.5" fill="#1f6e8e"/>
<rect x="307" y="471.3" width="1" height="2.3" fill="#1f6e8e"/>
<rect x="308" y="470.1" width="1" height="1.2" fill="#1f6e8e"/>
<rect x="309" y="467.2" width="1" height="4.1" fill="#1f6e8e"/>
<rect x="310" y="465.7" width="1" height="5.6" fill="#1f6e8e"/>
<rect x="311" y="465.9" width="1" height="5.4" fill="#1f6e8e"/>
<rect x="312" y="465.5" width="1" height="5.8" fill="#1f6e8e"/>
<rect x="313" y="465.8" width="1" height="5.5" fill="#1f6e8e"/>
<rect x="314" y="466.0" width="1" height="5.3" fill="#1f6e8e"/>
<rect x="315" y="465.1" width="1" height="6.2" fill="#1f6e8e"/>
<rect x="316" y="465.8" width="1" height="5.5" fill="#1f6e8e"/>
<rect x="317" y="465.2" width="1" height="6.1" fill="#1f6e8e"/>
<rect x="318" y="465.9" width="1" height="5.4" fill="#1f6e8e"/>
<rect x="319" y="467.7" width="1" height="3.6" fill="#1f6e8e"/>
<rect x="320" y="469.6" width="1" height="1.7" fill="#1f6e8e"/>
<rect x="321" y="470.6" width="1" height="0.7" fill="#1f6e8e"/>
<rect x="322" y="471.1" width="1" height="0.2" fill="#1f6e8e"/>
<rect x="323" y="471.3" width="1" height="1.1" fill="#1f6e8e"/>
<rect x="324" y="471.3" width="1" height="1.6" fill="#1f6e8e"/>
<rect x="325" y="471.3" width="1" height="2.9" fill="#1f6e8e"/>
<rect x="326" y="471.3" width="1" height="3.9" fill="#1f6e8e"/>
<rect x="327" y="471.3" width="1" height="5.1" fill="#1f6e8e"/>
<rect x="328" y="471.3" width="1" height="5.5" fill="#1f6e8e"/>
<rect x="329" y="471.3" width="1" height="5.5" fill="#1f6e8e"/>
<rect x="330" y="471.3" width="1" height="5.6" fill="#1f6e8e"/>
<rect x="331" y="471.3" width="1" height="5.4" fill="#1f6e8e"/>
<rect x="332" y="471.3" width="1" height="5.8" fill="#1f6e8e"/>
<rect x="333" y="471.3" width="1" height="5.7" fill="#1f6e8e"/>
<rect x="334" y="471.3" width="1" height="5.4" fill="#1f6e8e"/>
<rect x="335" y="471.3" width="1" height="5.1" fill="#1f6e8e"/>
<rect x="336" y="471.3" width="1" height="4.6" fill="#1f6e8e"/>
<rect x="337" y="471.3" width="1" height="4.6" fill="#1f6e8e"/>
<rect x="338" y="471.3" width="1" height="4.5" fill="#1f6e8e"/>
<rect x="339" y="471.3" width="1" height="2.6" fill="#1f6e8e"/>
<rect x="340" y="471.3" width="1" height="0.8" fill="#1f6e8e"/>
<rect x="341" y="471.3" width="1" height="0.1" fill="#1f6e8e"/>
<rect x="342" y="469.8" width="1" height="1.5" fill="#1f6e8e"/>
<rect x="343" y="469.3" width="1" height="2.0" fill="#1f6e8e"/>
<rect x="344" y="467.7" width="1" height="3.6" fill="#1f6e8e"/>
<rect x="345" y="466.1" width="1" height="5.2" fill="#1f6e8e"/>
<rect x="346" y="464.9" width="1" height="6.4" fill="#1f6e8e"/>
<rect x="347" y="464.5" width="1" height="6.8" fill="#1f6e8e"/>
<rect x="348" y="463.5" width="1" height="7.8" fill="#1f6e8e"/>
<rect x="349" y="462.4" width="1" height="8.9" fill="#1f6e8e"/>
<rect x="350" y="463.4" width="1" height="7.9" fill="#1f6e8e"/>
<rect x="351" y="464.2" width="1" height="7.1" fill="#1f6e8e"/>
<rect x="352" y="465.2" width="1" height="6.1" fill="#1f6e8e"/>
<rect x="353" y="466.1" width="1" height="5.2" fill="#1f6e8e"/>
<rect x="354" y="466.7" width="1" height="4.6" fill="#1f6e8e"/>
<rect x="355" y="467.4" width="1" height="3.9" fill="#1f6e8e"/>
<rect x="356" y="467.7" width="1" height="3.6" fill="#1f6e8e"/>
<rect x="357" y="467.9" width="1" height="3.4" fill="#1f6e8e"/>
<rect x="358" y="469.0" width="1" height="2.3" fill="#1f6e8e"/>
<rect x="359" y="469.6" width="1" height="1.7" fill="#1f6e8e"/>
<rect x="360" y="469.0" width="1" height="2.3" fill="#1f6e8e"/>
<rect x="361" y="470.1" width="1" height="1.2" fill="#1f6e8e"/>
<rect x="362" y="470.2" width="1" height="1.1" fill="#1f6e8e"/>
<rect x="363" y="470.5" width="1" height="0.8" fill="#1f6e8e"/>
<rect x="364" y="470.3" width="1" height="1.0" fill="#1f6e8e"/>
<rect x="365" y="469.8" width="1" height="1.5" fill="#1f6e8e"/>
<rect x="366" y="469.1" width="1" height="2.2" fill="#1f6e8e"/>
<rect x="367" y="467.8" width="1" height="3.5" fill="#1f6e8e"/>
<rect x="368" y="467.9" width="1" height="3.4" fill="#1f6e8e"/>
<rect x="369" y="466.7" width="1" height="4.6" fill="#1f6e8e"/>
<rect x="370" y="466.8" width="1" height="4.5" fill="#1f6e8e"/>
<rect x="371" y="466.6" width="1" height="4.7" fill="#1f6e8e"/>
<rect x="372" y="467.3" width="1" height="4.0" fill="#1f6e8e"/>
<rect x="373" y="469.0" width="1" height="2.3" fill="#1f6e8e"/>
<rect x="374" y="471.3" width="1" height="0.0" fill="#1f6e8e"/>
<rect x="375" y="471.3" width="1" height="1.4" fill="#1f6e8e"/>
<rect x="376" y="471.3" width="1" height="3.6" fill="#1f6e8e"/>
<rect x="377" y="471.3" width="1" height="5.8" fill="#1f6e8e"/>
<rect x="378" y="471.3" width="1" height="7.0" fill="#1f6e8e"/>
<rect x="379" y="471.3" width="1" height="8.0" fill="#1f6e8e"/>
<rect x="380" y="471.3" width="1" height="9.0" fill="#1f6e8e"/>
<rect x="381" y="471.3" width="1" height="8.7" fill="#1f6e8e"/>
<rect x="382" y="471.3" width="1" height="9.6" fill="#1f6e8e"/>
<rect x="383" y="471.3" width="1" height="10.0" fill="#1f6e8e"/>
<rect x="384" y="471.3" width="1" height="8.7" fill="#1f6e8e"/>
<rect x="385" y="471.3" width="1" height="8.9" fill="#1f6e8e"/>
<rect x="386" y="471.3" width="1" height="7.4" fill="#1f6e8e"/>
<rect x="387" y="471.3" width="1" height="7.2" fill="#1f6e8e"/>
<rect x="388" y="471.3" width="1" height="6.0" fill="#1f6e8e"/>
<rect x="389" y="471.3" width="1" height="3.7" fill="#1f6e8e"/>
<rect x="390" y="471.3" width="1" height="2.3" fill="#1f6e8e"/>
<rect x="391" y="471.2" width="1" height="0.1" fill="#1f6e8e"/>
<rect x="392" y="471.1" width="1" height="0.2" fill="#1f6e8e"/>
<rect x="393" y="470.5" width="1" height="0.8" fill="#1f6e8e"/>
<rect x="394" y="471.3" width="1" height="0.3" fill="#1f6e8e"/>
<rect x="395" y="471.3" width="1" height="0.3" fill="#1f6e8e"/>
<rect x="396" y="471.0" width="1" height="0.3" fill="#1f6e8e"/>
<rect x="397" y="471.3" width="1" height="1.0" fill="#1f6e8e"/>
<rect x="398" y="471.3" width="1" height="0.5" fill="#1f6e8e"/>
<rect x="399" y="471.3" width="1" height="1.0" fill="#1f6e8e"/>
<rect x="400" y="471.3" width="1" height="1.7" fill="#1f6e8e"/>
<rect x="401" y="471.3" width="1" height="1.2" fill="#1f6e8e"/>
<rect x="402" y="471.3" width="1" height="0.2" fill="#1f6e8e"/>
<rect x="403" y="471.1" width="1" height="0.2" fill="#1f6e8e"/>
<rect x="404" y="471.3" width="1" height="0.0" fill="#1f6e8e"/>
<rect x="405" y="470.3" width="1" height="1.0" fill="#1f6e8e"/>
<rect x="406" y="470.2" width="1" height="1.1" fill="#1f6e8e"/>
<rect x="407" y="469.9" width="1" height="1.4" fill="#1f6e8e"/>
<rect x="408" y="470.0" width="1" height="1.3" fill="#1f6e8e"/>
<rect x="409" y="469.2" width="1" height="2.1" fill="#1f6e8e"/>
<rect x="410" y="469.9" width="1" height="1.4" fill="#1f6e8e"/>
<rect x="411" y="469.6" width="1" height="1.7" fill="#1f6e8e"/>
<rect x="412" y="468.4" width="1" height="2.9" fill="#1f6e8e"/>
<rect x="413" y="468.3" width="1" height="3.0" fill="#1f6e8e"/>
<rect x="414" y="468.7" width="1" height="2.6" fill="#1f6e8e"/>
<rect x="415" y="469.1" width="1" height="2.2" fill="#1f6e8e"/>
<rect x="416" y="468.8" width="1" height="2.5" fill="#1f6e8e"/>
<rect x="417" y="468.0" width="1" height="3.3" fill="#1f6e8e"/>
<rect x="418" y="469.7" width="1" height="1.6" fill="#1f6e8e"/>
<rect x="419" y="469.6" width="1" height="1.7" fill="#1f6e8e"/>
<rect x="420" y="470.7" width="1" height="0.6" fill="#1f6e8e"/>
<rect x="421" y="471.3" width="1" height="0.2" fill="#1f6e8e"/>
<rect x="422" y="471.3" width="1" height="0.9" fill="#1f6e8e"/>
<rect x="423" y="471.3" width="1" height="3.6" fill="#1f6e8e"/>
<rect x="424" y="471.3" width="1" height="5.6" fill="#1f6e8e"/>
<rect x="425" y="471.3" width="1" height="6.4" fill="#1f6e8e"/>
<rect x="426" y="471.3" width="1" height="4.3" fill="#1f6e8e"/>
<rect x="427" y="471.3" width="1" height="2.5" fill="#1f6e8e"/>
<rect x="428" y="471.3" width="1" height="0.7" fill="#1f6e8e"/>
<rect x="429" y="470.9" width="1" height="0.4" fill="#1f6e8e"/>
<rect x="430" y="469.8" width="1" height="1.5" fill="#1f6e8e"/>
<rect x="431" y="469.3" width="1" height="2.0" fill="#1f6e8e"/>
<rect x="432" y="467.8" width="1" height="3.5" fill="#1f6e8e"/>
<rect x="433" y="465.6" width="1" height="5.7" fill="#1f6e8e"/>
<rect x="434" y="464.7" width="1" height="6.6" fill="#1f6e8e"/>
<rect x="435" y="463.4" width="1" height="7.9" fill="#1f6e8e"/>
<rect x="436" y="462.8" width="1" height="8.5" fill="#1f6e8e"/>
<rect x="437" y="462.5" width="1" height="8.8" fill="#1f6e8e"/>
<rect x="438" y="462.8" width="1" height="8.5" fill="#1f6e8e"/>
<rect x="439" y="461.8" width="1" height="9.5" fill="#1f6e8e"/>
<rect x="440" y="463.4" width="1" height="7.9" fill="#1f6e8e"/>
<rect x="441" y="465.6" width="1" height="5.7" fill="#1f6e8e"/>
<rect x="442" y="466.0" width="1" height="5.3" fill="#1f6e8e"/>
<rect x="443" y="466.9" width="1" height="4.4" fill="#1f6e8e"/>
<rect x="444" y="467.6" width="1" height="3.7" fill="#1f6e8e"/>
<rect x="445" y="468.2" width="1" height="3.1" fill="#1f6e8e"/>
<rect x="446" y="468.1" width="1" height="3.2" fill="#1f6e8e"/>
<rect x="447" y="469.3" width="1" height="2.0" fill="#1f6e8e"/>
<rect x="448" y="469.8" width="1" height="1.5" fill="#1f6e8e"/>
<rect x="449" y="469.2" width="1" height="2.1" fill="#1f6e8e"/>
<rect x="450" y="471.3" width="1" height="0.2" fill="#1f6e8e"/>
<rect x="451" y="471.3" width="1" height="1.3" fill="#1f6e8e"/>
<rect x="452" y="471.3" width="1" height="2.0" fill="#1f6e8e"/>
<rect x="453" y="471.3" width="1" height="2.8" fill="#1f6e8e"/>
<rect x="454" y="471.3" width="1" height="3.1" fill="#1f6e8e"/>
<rect x="455" y="471.3" width="1" height="3.6" fill="#1f6e8e"/>
<rect x="456" y="471.3" width="1" height="4.1" fill="#1f6e8e"/>
<rect x="457" y="471.3" width="1" height="4.2" fill="#1f6e8e"/>
<rect x="458" y="471.3" width="1" height="4.0" fill="#1f6e8e"/>
<rect x="459" y="471.3" width="1" height="4.1" fill="#1f6e8e"/>
<rect x="460" y="471.3" width="1" height="2.6" fill="#1f6e8e"/>
<rect x="461" y="471.3" width="1" height="2.8" fill="#1f6e8e"/>
<rect x="462" y="471.3" width="1" height="2.1" fill="#1f6e8e"/>
<rect x="463" y="471.3" width="1" height="2.7" fill="#1f6e8e"/>
<rect x="464" y="471.3" width="1" height="3.5" fill="#1f6e8e"/>
<rect x="465" y="471.3" width="1" height="4.0" fill="#1f6e8e"/>
<rect x="466" y="471.3" width="1" height="4.1" fill="#1f6e8e"/>
<rect x="467" y="471.3" width="1" height="4.4" fill="#1f6e8e"/>
<rect x="468" y="471.3" width="1" height="5.0" fill="#1f6e8e"/>
<rect x="469" y="471.3" width="1" height="4.0" fill="#1f6e8e"/>
<rect x="470" y="471.3" width="1" height="3.5" fill="#1f6e8e"/>
<rect x="471" y="471.3" width="1" height="3.3" fill="#1f6e8e"/>
<rect x="472" y="471.3" width="1" height="2.4" fill="#1f6e8e"/>
<rect x="473" y="471.3" width="1" height="2.5" fill="#1f6e8e"/>
<rect x="474" y="471.3" width="1" height="2.0" fill="#1f6e8e"/>
<rect x="475" y="471.3" width="1" height="2.2" fill="#1f6e8e"/>
<rect x="476" y="471.3" width="1" height="1.8" fill="#1f6e8e"/>
<rect x="477" y="471.3" width="1" height="1.9" fill="#1f6e8e"/>
<rect x="478" y="471.3" width="1" height="1.2" fill="#1f6e8e"/>
<rect x="479" y="470.6" width="1" height="0.7" fill="#1f6e8e"/>
<rect x="480" y="470.0" width="1" height="1.3" fill="#1f6e8e"/>
<rect x="481" y="468.5" width="1" height="2.8" fill="#1f6e8e"/>
<rect x="482" y="468.1" width="1" height="3.2" fill="#1f6e8e"/>
<rect x="483" y="468.7" width="1" height="2.6" fill="#1f6e8e"/>
<rect x="484" y="468.7" width="1" height="2.6" fill="#1f6e8e"/>
<rect x="485" y="469.3" width="1" height="2.0" fill="#1f6e8e"/>
<rect x="486" y="469.7" width="1" height="1.6" fill="#1f6e8e"/>
<rect x="487" y="470.4" width="1" height="0.9" fill="#1f6e8e"/>
<rect x="488" y="469.6" width="1" height="1.7" fill="#1f6e8e"/>
<rect x="489" y="470.4" width="1" height="0.9" fill="#1f6e8e"/>
<rect x="490" y="469.4" width="1" height="1.9" fill="#1f6e8e"/>
<rect x="491" y="470.3" width="1" height="1.0" fill="#1f6e8e"/>
<rect x="492" y="469.3" width="1" height="2.0" fill="#1f6e8e"/>
<rect x="493" y="469.8" width="1" height="1.5" fill="#1f6e8e"/>
<rect x="494" y="469.8" width="1" height="1.5" fill="#1f6e8e"/>
<rect x="495" y="469.1" width="1" height="2.2" fill="#1f6e8e"/>
<rect x="496" y="471.2" width="1" height="0.1" fill="#1f6e8e"/>
<rect x="497" y="471.3" width="1" height="0.6" fill="#1f6e8e"/>
<rect x="498" y="471.3" width="1" height="1.8" fill="#1f6e8e"/>
<rect x="499" y="471.3" width="1" height="2.4" fill="#1f6e8e"/>
<rect x="500" y="471.3" width="1" height="3.7" fill="#1f6e8e"/>
<rect x="501" y="471.3" width="1" height="4.4" fill="#1f6e8e"/>
<rect x="502" y="471.3" width="1" height="5.7" fill="#1f6e8e"/>
<rect x="503" y="471.3" width="1" height="6.4" fill="#1f6e8e"/>
<rect x="504" y="471.3" width="1" height="6.2" fill="#1f6e8e"/>
<rect x="505" y="471.3" width="1" height="4.6" fill="#1f6e8e"/>
<rect x="506" y="471.3" width="1" height="3.7" fill="#1f6e8e"/>
<rect x="507" y="471.3" width="1" height="2.2" fill="#1f6e8e"/>
<rect x="508" y="471.3" width="1" height="1.9" fill="#1f6e8e"/>
<rect x="509" y="471.3" width="1" height="1.6" fill="#1f6e8e"/>
<rect x="510" y="471.3" width="1" height="2.6" fill="#1f6e8e"/>
<rect x="511" y="471.3" width="1" height="2.5" fill="#1f6e8e"/>
<rect x="512" y="471.3" width="1" height="3.2" fill="#1f6e8e"/>
<rect x="513" y="471.3" width="1" height="2.8" fill="#1f6e8e"/>
<rect x="514" y="471.3" width="1" height="2.0" fill="#1f6e8e"/>
<rect x="515" y="471.3" width="1" height="1.4" fill="#1f6e8e"/>
<rect x="516" y="471.2" width="1" height="0.1" fill="#1f6e8e"/>
<rect x="517" y="471.3" width="1" height="0.1" fill="#1f6e8e"/>
<rect x="518" y="470.3" width="1" height="1.0" fill="#1f6e8e"/>
<rect x="519" y="470.1" width="1" height="1.2" fill="#1f6e8e"/>
<rect x="520" y="470.3" width="1" height="1.0" fill="#1f6e8e"/>
<rect x="521" y="469.7" width="1" height="1.6" fill="#1f6e8e"/>
<rect x="522" y="469.3" width="1" height="2.0" fill="#1f6e8e"/>
<rect x="523" y="469.6" width="1" height="1.7" fill="#1f6e8e"/>
<rect x="524" y="469.6" width="1" height="1.7" fill="#1f6e8e"/>
<rect x="525" y="468.8" width="1" height="2.5" fill="#1f6e8e"/>
<rect x="526" y="469.3" width="1" height="2.0" fill="#1f6e8e"/>
<rect x="527" y="469.2" width="1" height="2.1" fill="#1f6e8e"/>
<rect x="528" y="469.9" width="1" height="1.4" fill="#1f6e8e"/>
<rect x="529" y="471.3" width="1" height="1.1" fill="#1f6e8e"/>
<rect x="530" y="471.3" width="1" height="1.7" fill="#1f6e8e"/>
<rect x="531" y="471.3" width="1" height="2.3" fill="#1f6e8e"/>
<rect x="532" y="471.3" width="1" height="3.3" fill="#1f6e8e"/>
<rect x="533" y="471.3" width="1" height="4.3" fill="#1f6e8e"/>
<rect x="534" y="471.3" width="1" height="3.9" fill="#1f6e8e"/>
<rect x="535" y="471.3" width="1" height="4.5" fill="#1f6e8e"/>
<rect x="536" y="471.3" width="1" height="4.6" fill="#1f6e8e"/>
<rect x="537" y="471.3" width="1" height="4.2" fill="#1f6e8e"/>
<rect x="538" y="471.3" width="1" height="3.3" fill="#1f6e8e"/>
<rect x="539" y="471.3" width="1" height="2.2" fill="#1f6e8e"/>
<rect x="540" y="471.3" width="1" height="1.4" fill="#1f6e8e"/>
<rect x="541" y="471.3" width="1" height="0.4" fill="#1f6e8e"/>
<rect x="542" y="471.3" width="1" height="0.4" fill="#1f6e8e"/>
<rect x="543" y="471.3" width="1" height="0.2" fill="#1f6e8e"/>
<rect x="544" y="471.3" width="1" height="1.0" fill="#1f6e8e"/>
<rect x="545" y="471.3" width="1" height="1.3" fill="#1f6e8e"/>
<rect x="546" y="471.3" width="1" height="1.9" fill="#1f6e8e"/>
<rect x="547" y="471.3" width="1" height="1.0" fill="#1f6e8e"/>
<rect x="548" y="471.3" width="1" height="2.1" fill="#1f6e8e"/>
<rect x="549" y="471.3" width="1" height="1.1" fill="#1f6e8e"/>
<rect x="550" y="471.1" width="1" height="0.2" fill="#1f6e8e"/>
<rect x="551" y="471.0" width="1" height="0.3" fill="#1f6e8e"/>
<rect x="552" y="470.9" width="1" height="0.4" fill="#1f6e8e"/>
<rect x="553" y="470.4" width="1" height="0.9" fill="#1f6e8e"/>
<rect x="554" y="470.4" width="1" height="0.9" fill="#1f6e8e"/>
<rect x="555" y="469.6" width="1" height="1.7" fill="#1f6e8e"/>
<rect x="556" y="471.0" width="1" height="0.3" fill="#1f6e8e"/>
<rect x="557" y="471.3" width="1" height="0.4" fill="#1f6e8e"/>
<rect x="558" y="471.3" width="1" height="0.2" fill="#1f6e8e"/>
<rect x="559" y="471.3" width="1" height="0.9" fill="#1f6e8e"/>
<rect x="560" y="471.3" width="1" height="1.2" fill="#1f6e8e"/>
<rect x="561" y="471.3" width="1" height="0.9" fill="#1f6e8e"/>
<rect x="562" y="471.3" width="1" height="0.7" fill="#1f6e8e"/>
<rect x="563" y="471.3" width="1" height="0.3" fill="#1f6e8e"/>
<rect x="564" y="470.7" width="1" height="0.6" fill="#1f6e8e"/>
<rect x="565" y="469.1" width="1" height="2.2" fill="#1f6e8e"/>
<rect x="566" y="468.9" width="1" height="2.4" fill="#1f6e8e"/>
<rect x="567" y="468.7" width="1" height="2.6" fill="#1f6e8e"/>
<rect x="568" y="467.4" width="1" height="3.9" fill="#1f6e8e"/>
<rect x="569" y="467.6" width="1" height="3.7" fill="#1f6e8e"/>
<rect x="570" y="468.5" width="1" height="2.8" fill="#1f6e8e"/>
<rect x="571" y="468.5" width="1" height="2.8" fill="#1f6e8e"/>
<rect x="572" y="469.0" width="1" height="2.3" fill="#1f6e8e"/>
<rect x="573" y="468.8" width="1" height="2.5" fill="#1f6e8e"/>
<rect x="574" y="469.0" width="1" height="2.3" fill="#1f6e8e"/>
<rect x="575" y="469.0" width="1" height="2.3" fill="#1f6e8e"/>
<rect x="576" y="469.3" width="1" height="2.0" fill="#1f6e8e"/>
<rect x="577" y="468.6" width="1" height="2.7" fill="#1f6e8e"/>
<rect x="578" y="468.7" width="1" height="2.6" fill="#1f6e8e"/>
<rect x="579" y="469.9" width="1" height="1.4" fill="#1f6e8e"/>
<rect x="580" y="469.4" width="1" height="1.9" fill="#1f6e8e"/>
<rect x="581" y="470.4" width="1" height="0.9" fill="#1f6e8e"/>
<rect x="582" y="469.8" width="1" height="1.5" fill="#1f6e8e"/>
<rect x="583" y="470.0" width="1" height="1.3" fill="#1f6e8e"/>
<rect x="584" y="469.8" width="1" height="1.5" fill="#1f6e8e"/>
<rect x="585" y="470.0" width="1" height="1.3" fill="#1f6e8e"/>
<rect x="586" y="471.0" width="1" height="0.3" fill="#1f6e8e"/>
<rect x="587" y="470.2" width="1" height="1.1" fill="#1f6e8e"/>
<rect x="588" y="471.0" width="1" height="0.3" fill="#1f6e8e"/>
<rect x="589" y="469.9" width="1" height="1.4" fill="#1f6e8e"/>
<rect x="590" y="470.3" width="1" height="1.0" fill="#1f6e8e"/>
<rect x="591" y="470.6" width="1" height="0.7" fill="#1f6e8e"/>
<rect x="592" y="471.0" width="1" height="0.3" fill="#1f6e8e"/>
<rect x="593" y="470.1" width="1" height="1.2" fill="#1f6e8e"/>
<rect x="594" y="470.0" width="1" height="1.3" fill="#1f6e8e"/>
<rect x="595" y="468.9" width="1" height="2.4" fill="#1f6e8e"/>
<rect x="596" y="467.9" width="1" height="3.4" fill="#1f6e8e"/>
<rect x="597" y="466.9" width="1" height="4.4" fill="#1f6e8e"/>
<rect x="598" y="466.8" width="1" height="4.5" fill="#1f6e8e"/>
<rect x="599" y="467.3" width="1" height="4.0" fill="#1f6e8e"/>
<rect x="600" y="467.4" width="1" height="3.9" fill="#1f6e8e"/>
<rect x="601" y="467.8" width="1" height="3.5" fill="#1f6e8e"/>
<rect x="602" y="467.6" width="1" height="3.7" fill="#1f6e8e"/>
<rect x="603" y="467.9" width="1" height="3.4" fill="#1f6e8e"/>
<rect x="604" y="469.7" width="1" height="1.6" fill="#1f6e8e"/>
<rect x="605" y="470.4" width="1" height="0.9" fill="#1f6e8e"/>
<rect x="606" y="471.3" width="1" height="0.2" fill="#1f6e8e"/>
<rect x="607" y="471.3" width="1" height="1.6" fill="#1f6e8e"/>
<rect x="608" y="471.3" width="1" height="2.2" fill="#1f6e8e"/>
<rect x="609" y="471.3" width="1" height="2.8" fill="#1f6e8e"/>
<rect x="610" y="471.3" width="1" height="2.7" fill="#1f6e8e"/>
<rect x="611" y="471.3" width="1" height="3.7" fill="#1f6e8e"/>
<rect x="612" y="471.3" width="1" height="3.5" fill="#1f6e8e"/>
<rect x="613" y="471.3" width="1" height="2.0" fill="#1f6e8e"/>
<rect x="614" y="471.3" width="1" height="1.7" fill="#1f6e8e"/>
<rect x="615" y="471.3" width="1" height="1.7" fill="#1f6e8e"/>
<rect x="616" y="471.3" width="1" height="0.5" fill="#1f6e8e"/>
<rect x="617" y="471.3" width="1" height="0.0" fill="#1f6e8e"/>
<rect x="618" y="470.3" width="1" height="1.0" fill="#1f6e8e"/>
<rect x="619" y="470.1" width="1" height="1.2" fill="#1f6e8e"/>
<rect x="620" y="469.4" width="1" height="1.9" fill="#1f6e8e"/>
<rect x="621" y="470.1" width="1" height="1.2" fill="#1f6e8e"/>
<rect x="622" y="469.2" width="1" height="2.1" fill="#1f6e8e"/>
<rect x="623" y="468.8" width="1" height="2.5" fill="#1f6e8e"/>
<rect x="624" y="468.7" width="1" height="2.6" fill="#1f6e8e"/>
<rect x="625" y="469.0" width="1" height="2.3" fill="#1f6e8e"/>
<rect x="626" y="468.4" width="1" height="2.9" fill="#1f6e8e"/>
<rect x="627" y="469.1" width="1" height="2.2" fill="#1f6e8e"/>
<rect x="628" y="468.6" width="1" height="2.7" fill="#1f6e8e"/>
<rect x="629" y="468.6" width="1" height="2.7" fill="#1f6e8e"/>
<rect x="630" y="469.2" width="1" height="2.1" fill="#1f6e8e"/>
<rect x="631" y="468.5" width="1" height="2.8" fill="#1f6e8e"/>
<rect x="632" y="468.4" width="1" height="2.9" fill="#1f6e8e"/>
<rect x="633" y="468.9" width="1" height="2.4" fill="#1f6e8e"/>
<rect x="634" y="469.0" width="1" height="2.3" fill="#1f6e8e"/>
<rect x="635" y="468.7" width="1" height="2.6" fill="#1f6e8e"/>
<rect x="636" y="468.5" width="1" height="2.8" fill="#1f6e8e"/>
<rect x="637" y="469.0" width="1" height="2.3" fill="#1f6e8e"/>
<rect x="638" y="468.1" width="1" height="3.2" fill="#1f6e8e"/>
<rect x="639" y="469.0" width="1" height="2.3" fill="#1f6e8e"/>
<rect x="640" y="469.2" width="1" height="2.1" fill="#1f6e8e"/>
<rect x="641" y="469.3" width="1" height="2.0" fill="#1f6e8e"/>
<rect x="642" y="469.9" width="1" height="1.4" fill="#1f6e8e"/>
<rect x="643" y="470.3" width="1" height="1.0" fill="#1f6e8e"/>
<rect x="644" y="470.8" width="1" height="0.5" fill="#1f6e8e"/>
<rect x="645" y="471.3" width="1" height="0.6" fill="#1f6e8e"/>
<rect x="646" y="471.3" width="1" height="1.1" fill="#1f6e8e"/>
<rect x="647" y="471.3" width="1" height="1.3" fill="#1f6e8e"/>
<rect x="648" y="471.3" width="1" height="1.4" fill="#1f6e8e"/>
<rect x="649" y="471.3" width="1" height="1.3" fill="#1f6e8e"/>
<rect x="650" y="471.3" width="1" height="1.0" fill="#1f6e8e"/>
<rect x="651" y="471.3" width="1" height="1.4" fill="#1f6e8e"/>
<line x1="40.5" y1="471.5" x2="656.5" y2="471.5" stroke="#1f6e8e" stroke-width="1"/>
<polyline points="41.0,463.1 42.0,462.0 43.0,461.0 44.0,459.9 45.0,458.9 46.0,457.9 47.0,455.7 48.0,452.8 49.0,449.3 50.0,445.4 51.0,441.6 52.0,438.3 53.0,435.1 54.0,432.6 55.0,430.6 56.0,429.0 57.0,427.7 58.0,427.2 59.0,427.3 60.0,427.9 61.0,428.7 62.0,429.4 63.0,430.1 64.0,430.6 65.0,431.3 66.0,432.1 67.0,433.1 68.0,434.5 69.0,436.4 70.0,438.4 71.0,440.4 72.0,442.3 73.0,444.2 74.0,446.6 75.0,449.9 76.0,452.9 77.0,455.5 78.0,457.9 79.0,460.1 80.0,462.0 81.0,463.3 82.0,464.0 83.0,464.4 84.0,464.7 85.0,465.1 86.0,465.5 87.0,466.0 88.0,466.4 89.0,466.7 90.0,466.9 91.0,467.1 92.0,467.3 93.0,466.7 94.0,465.6 95.0,464.1 96.0,462.4 97.0,460.8 98.0,459.2 99.0,458.3 100.0,457.9 101.0,457.9 102.0,458.4 103.0,459.1 104.0,460.0 105.0,461.2 106.0,462.5 107.0,464.2 108.0,466.3 109.0,468.7 110.0,471.4 111.0,474.3 112.0,477.3 113.0,478.7 114.0,478.8 115.0,477.9 116.0,476.2 117.0,474.1 118.0,472.0 119.0,469.8 120.0,467.6 121.0,465.4 122.0,463.7 123.0,462.4 124.0,461.5 125.0,460.5 126.0,458.8 127.0,456.6 128.0,453.9 129.0,451.5 130.0,449.1 131.0,446.8 132.0,444.6 133.0,442.8 134.0,442.0 135.0,441.8 136.0,442.2 137.0,443.1 138.0,444.4 139.0,446.0 140.0,447.9 141.0,449.9 142.0,451.9 143.0,453.9 144.0,455.9 145.0,456.9 146.0,457.0 147.0,456.6 148.0,456.1 149.0,456.0 150.0,456.1 151.0,456.4 152.0,456.8 153.0,457.4 154.0,458.1 155.0,458.9 156.0,459.9 157.0,461.0 158.0,462.3 159.0,463.6 160.0,465.0 161.0,466.6 162.0,468.3 163.0,470.1 164.0,472.0 165.0,473.6 166.0,474.6 167.0,475.0 168.0,475.0 169.0,474.7 170.0,474.4 171.0,474.4 172.0,474.4 173.0,474.5 174.0,474.6 175.0,474.9 176.0,475.1 177.0,475.3 178.0,475.5 179.0,475.8 180.0,476.4 181.0,477.7 182.0,479.5 183.0,481.6 184.0,484.1 185.0,486.3 186.0,488.5 187.0,490.6 188.0,492.6 189.0,494.3 190.0,495.3 191.0,495.8 192.0,495.9 193.0,495.8 194.0,495.1 195.0,494.1 196.0,492.8 197.0,491.3 198.0,489.6 199.0,487.8 200.0,485.9 201.0,484.7 202.0,484.0 203.0,483.8 204.0,484.1 205.0,484.9 206.0,486.1 207.0,487.6 208.0,489.3 209.0,491.1 210.0,493.0 211.0,495.0 212.0,496.9 213.0,498.6 214.0,500.1 215.0,501.6 216.0,502.9 217.0,503.8 218.0,504.3 219.0,504.5 220.0,504.5 221.0,504.5 222.0,504.5 223.0,504.7 224.0,505.0 225.0,505.3 226.0,505.5 227.0,505.5 228.0,505.5 229.0,505.1 230.0,504.0 231.0,502.3 232.0,500.1 233.0,497.5 234.0,494.8 235.0,491.8 236.0,488.8 237.0,485.7 238.0,482.5 239.0,479.4 240.0,476.4 241.0,473.5 242.0,470.6 243.0,468.3 244.0,466.6 245.0,465.3 246.0,464.5 247.0,463.9 248.0,463.1 249.0,462.2 250.0,461.2 251.0,460.1 252.0,458.9 253.0,457.8 254.0,457.0 255.0,456.4 256.0,456.0 257.0,455.7 258.0,455.5 259.0,455.4 260.0,455.2 261.0,454.9 262.0,454.6 263.0,454.2 264.0,454.6 265.0,455.6 266.0,457.0 267.0,458.8 268.0,460.8 269.0,463.1 270.0,465.5 271.0,467.9 272.0,469.4 273.0,470.2 274.0,470.4 275.0,470.2 276.0,469.7 277.0,468.9 278.0,468.0 279.0,467.0 280.0,465.9 281.0,465.0 282.0,464.2 283.0,463.6 284.0,463.0 285.0,462.5 286.0,462.0 287.0,461.2 288.0,460.2 289.0,459.1 290.0,457.8 291.0,456.8 292.0,456.1 293.0,455.8 294.0,455.8 295.0,456.6 296.0,457.9 297.0,459.6 298.0,461.6 299.0,463.9 300.0,466.2 301.0,468.6 302.0,471.1 303.0,473.6 304.0,475.7 305.0,477.5 306.0,479.0 307.0,479.7 308.0,479.4 309.0,478.4 310.0,476.9 311.0,475.3 312.0,473.7 313.0,472.1 314.0,470.5 315.0,468.8 316.0,467.1 317.0,465.5 318.0,464.0 319.0,463.0 320.0,462.5 321.0,462.3 322.0,462.4 323.0,462.7 324.0,463.3 325.0,464.2 326.0,465.3 327.0,466.6 328.0,468.1 329.0,469.6 330.0,471.2 331.0,472.8 332.0,474.4 333.0,476.1 334.0,477.6 335.0,479.0 336.0,480.4 337.0,481.8 338.0,483.1 339.0,484.0 340.0,484.3 341.0,484.3 342.0,483.9 343.0,483.3 344.0,482.1 345.0,480.6 346.0,478.8 347.0,476.8 348.0,474.6 349.0,472.2 350.0,469.9 351.0,467.9 352.0,466.2 353.0,464.7 354.0,463.3 355.0,462.0 356.0,461.0 357.0,460.1 358.0,459.4 359.0,458.9 360.0,458.4 361.0,458.0 362.0,457.6 363.0,457.4 364.0,457.1 365.0,456.7 366.0,456.1 367.0,455.2 368.0,454.1 369.0,452.9 370.0,451.6 371.0,450.3 372.0,449.2 373.0,448.7 374.0,448.6 375.0,448.8 376.0,449.8 377.0,451.3 378.0,453.3 379.0,455.6 380.0,458.1 381.0,460.8 382.0,463.4 383.0,466.2 384.0,468.7 385.0,471.0 386.0,473.2 387.0,475.4 388.0,477.0 389.0,478.0 390.0,478.5 391.0,478.7 392.0,478.5 393.0,478.4 394.0,478.4 395.0,478.5 396.0,478.5 397.0,478.7 398.0,478.9 399.0,479.2 400.0,479.5 401.0,479.9 402.0,480.1 403.0,480.2 404.0,480.1 405.0,479.9 406.0,479.7 407.0,479.4 408.0,479.1 409.0,478.6 410.0,478.1 411.0,477.5 412.0,476.8 413.0,476.1 414.0,475.3 415.0,474.5 416.0,473.7 417.0,472.9 418.0,472.3 419.0,472.0 420.0,471.8 421.0,471.8 422.0,472.1 423.0,473.1 424.0,474.6 425.0,476.5 426.0,477.8 427.0,478.6 428.0,478.9 429.0,478.9 430.0,478.7 431.0,478.2 432.0,477.1 433.0,475.6 434.0,473.8 435.0,471.7 436.0,469.4 437.0,466.9 438.0,464.4 439.0,461.8 440.0,459.7 441.0,458.0 442.0,456.5 443.0,455.3 444.0,454.3 445.0,453.4 446.0,452.7 447.0,452.1 448.0,451.5 449.0,451.0 450.0,450.9 451.0,451.2 452.0,451.7 453.0,452.5 454.0,453.3 455.0,454.3 456.0,455.3 457.0,456.4 458.0,457.5 459.0,458.6 460.0,459.5 461.0,460.3 462.0,461.0 463.0,461.8 464.0,462.7 465.0,463.8 466.0,465.1 467.0,466.5 468.0,467.8 469.0,468.9 470.0,469.9 471.0,470.8 472.0,471.6 473.0,472.2 474.0,472.8 475.0,473.3 476.0,473.7 477.0,474.1 478.0,474.3 479.0,474.2 480.0,473.7 481.0,473.1 482.0,472.2 483.0,471.4 484.0,470.7 485.0,470.2 486.0,469.7 487.0,469.3 488.0,468.9 489.0,468.5 490.0,468.1 491.0,467.6 492.0,467.2 493.0,466.7 494.0,466.2 495.0,465.8 496.0,465.7 497.0,466.0 498.0,466.4 499.0,467.1 500.0,468.0 501.0,469.3 502.0,470.9 503.0,472.7 504.0,474.3 505.0,475.5 506.0,476.4 507.0,477.0 508.0,477.4 509.0,478.1 510.0,478.8 511.0,479.7 512.0,480.6 513.0,481.5 514.0,482.0 515.0,482.3 516.0,482.5 517.0,482.5 518.0,482.3 519.0,482.0 520.0,481.6 521.0,481.1 522.0,480.6 523.0,480.0 524.0,479.4 525.0,478.8 526.0,478.3 527.0,477.7 528.0,477.5 529.0,477.7 530.0,478.2 531.0,479.0 532.0,480.0 533.0,481.1 534.0,482.3 535.0,483.6 536.0,484.9 537.0,486.1 538.0,486.9 539.0,487.5 540.0,487.8 541.0,488.0 542.0,488.0 543.0,488.1 544.0,488.4 545.0,488.7 546.0,489.0 547.0,489.5 548.0,489.9 549.0,490.2 550.0,490.2 551.0,490.1 552.0,489.8 553.0,489.5 554.0,489.1 555.0,488.6 556.0,488.4 557.0,488.4 558.0,488.6 559.0,488.8 560.0,489.2 561.0,489.6 562.0,490.0 563.0,489.9 564.0,489.6 565.0,489.1 566.0,488.4 567.0,487.5 568.0,486.6 569.0,485.6 570.0,484.7 571.0,483.9 572.0,483.1 573.0,482.3 574.0,481.6 575.0,480.9 576.0,480.2 577.0,479.5 578.0,478.9 579.0,478.4 580.0,477.9 581.0,477.5 582.0,477.2 583.0,476.9 584.0,476.6 585.0,476.4 586.0,476.1 587.0,475.9 588.0,475.6 589.0,475.4 590.0,475.1 591.0,474.9 592.0,474.6 593.0,474.4 594.0,474.0 595.0,473.4 596.0,472.5 597.0,471.4 598.0,470.2 599.0,469.0 600.0,467.9 601.0,466.9 602.0,465.9 603.0,465.1 604.0,464.6 605.0,464.5 606.0,464.6 607.0,464.9 608.0,465.4 609.0,466.1 610.0,466.8 611.0,467.7 612.0,468.7 613.0,469.4 614.0,469.9 615.0,470.2 616.0,470.4 617.0,470.5 618.0,470.3 619.0,470.0 620.0,469.6 621.0,469.1 622.0,468.5 623.0,467.9 624.0,467.2 625.0,466.5 626.0,465.8 627.0,465.1 628.0,464.4 629.0,463.7 630.0,462.9 631.0,462.2 632.0,461.4 633.0,460.6 634.0,459.8 635.0,459.1 636.0,458.3 637.0,457.5 638.0,456.7 639.0,455.9 640.0,455.2 641.0,454.7 642.0,454.4 643.0,454.3 644.0,454.2 645.0,454.3 646.0,454.5 647.0,454.9 648.0,455.3 649.0,455.8 650.0,456.2 651.0,456.6" fill="none" stroke="#e8201c" stroke-width="1.2"/>
<polyline points="41.0,459.2 42.0,458.2 43.0,457.2 44.0,456.3 45.0,455.3 46.0,454.3 47.0,448.1 48.0,442.1 49.0,436.9 50.0,431.6 51.0,428.4 52.0,426.2 53.0,424.0 54.0,423.8 55.0,423.5 56.0,423.2 57.0,423.0 58.0,425.3 59.0,427.6 60.0,430.0 61.0,431.7 62.0,432.0 63.0,432.3 64.0,432.7 65.0,433.7 66.0,435.1 67.0,436.5 68.0,439.4 69.0,443.2 70.0,445.6 71.0,447.3 72.0,449.0 73.0,450.8 74.0,455.1 75.0,461.9 76.0,463.4 77.0,464.9 78.0,466.4 79.0,467.9 80.0,468.7 81.0,467.7 82.0,466.7 83.0,465.7 84.0,465.7 85.0,466.4 86.0,467.1 87.0,467.7 88.0,467.8 89.0,467.8 90.0,467.8 91.0,467.8 92.0,467.8 93.0,464.8 94.0,461.8 95.0,458.8 96.0,456.3 97.0,455.0 98.0,453.7 99.0,455.1 100.0,456.5 101.0,458.0 102.0,459.8 103.0,461.6 104.0,463.4 105.0,465.3 106.0,467.1 107.0,470.1 108.0,473.7 109.0,477.3 110.0,480.9 111.0,484.5 112.0,488.1 113.0,483.6 114.0,479.2 115.0,474.7 116.0,470.3 117.0,466.7 118.0,464.4 119.0,462.1 120.0,459.8 121.0,457.5 122.0,457.6 123.0,457.9 124.0,458.2 125.0,456.8 126.0,452.8 127.0,448.7 128.0,444.7 129.0,442.7 130.0,440.7 131.0,438.8 132.0,436.8 133.0,436.5 134.0,438.9 135.0,441.2 136.0,443.6 137.0,446.3 138.0,449.0 139.0,451.8 140.0,454.5 141.0,456.9 142.0,458.9 143.0,461.0 144.0,463.0 145.0,460.3 146.0,457.6 147.0,455.0 148.0,454.5 149.0,455.5 150.0,456.5 151.0,457.4 152.0,458.4 153.0,459.4 154.0,460.4 155.0,461.8 156.0,463.4 157.0,465.1 158.0,466.7 159.0,468.3 160.0,469.9 161.0,472.1 162.0,474.3 163.0,476.6 164.0,478.8 165.0,479.5 166.0,478.0 167.0,476.5 168.0,475.0 169.0,473.5 170.0,473.7 171.0,474.1 172.0,474.5 173.0,474.8 174.0,475.2 175.0,475.6 176.0,475.9 177.0,476.1 178.0,476.4 179.0,476.6 180.0,478.8 181.0,482.3 182.0,485.7 183.0,489.2 184.0,492.7 185.0,494.4 186.0,496.2 187.0,497.9 188.0,499.7 189.0,500.2 190.0,498.9 191.0,497.7 192.0,496.4 193.0,495.1 194.0,492.9 195.0,490.6 196.0,488.3 197.0,486.0 198.0,483.6 199.0,481.3 200.0,479.0 201.0,480.4 202.0,481.7 203.0,483.1 204.0,485.2 205.0,487.8 206.0,490.4 207.0,492.9 208.0,495.2 209.0,497.5 210.0,499.8 211.0,502.1 212.0,503.6 213.0,504.6 214.0,505.6 215.0,506.6 216.0,507.6 217.0,506.8 218.0,506.1 219.0,505.3 220.0,504.6 221.0,504.3 222.0,504.8 223.0,505.3 224.0,505.8 225.0,506.3 226.0,506.1 227.0,505.8 228.0,505.5 229.0,503.8 230.0,499.9 231.0,496.1 232.0,492.3 233.0,488.5 234.0,485.0 235.0,481.5 236.0,478.0 237.0,474.5 238.0,471.3 239.0,468.6 240.0,465.9 241.0,463.1 242.0,460.4 243.0,459.9 244.0,460.4 245.0,460.9 246.0,461.4 247.0,461.8 248.0,460.4 249.0,459.0 250.0,457.5 251.0,456.1 252.0,454.7 253.0,454.0 254.0,454.1 255.0,454.3 256.0,454.4 257.0,454.6 258.0,454.8 259.0,454.9 260.0,454.6 261.0,453.9 262.0,453.3 263.0,453.0 264.0,456.0 265.0,459.1 266.0,462.1 267.0,465.1 268.0,468.1 269.0,471.0 270.0,474.0 271.0,476.5 272.0,474.7 273.0,473.0 274.0,471.2 275.0,469.4 276.0,467.8 277.0,466.3 278.0,464.9 279.0,463.4 280.0,461.9 281.0,461.7 282.0,461.5 283.0,461.3 284.0,461.1 285.0,460.8 286.0,460.2 287.0,458.4 288.0,456.7 289.0,455.0 290.0,453.2 291.0,453.2 292.0,453.9 293.0,454.5 294.0,456.0 295.0,459.2 296.0,462.4 297.0,465.7 298.0,468.9 299.0,471.8 300.0,474.5 301.0,477.2 302.0,480.0 303.0,482.5 304.0,483.1 305.0,483.8 306.0,484.5 307.0,482.1 308.0,478.4 309.0,474.7 310.0,471.6 311.0,469.8 312.0,468.1 313.0,466.4 314.0,464.6 315.0,462.9 316.0,461.2 317.0,459.6 318.0,458.7 319.0,459.7 320.0,460.7 321.0,461.7 322.0,462.7 323.0,463.7 324.0,465.3 325.0,467.3 326.0,469.3 327.0,471.3 328.0,473.3 329.0,475.0 330.0,476.8 331.0,478.5 332.0,480.3 333.0,481.8 334.0,483.0 335.0,484.2 336.0,485.4 337.0,486.5 338.0,487.7 339.0,487.1 340.0,485.6 341.0,484.1 342.0,482.6 343.0,481.0 344.0,478.2 345.0,475.3 346.0,472.5 347.0,469.6 348.0,466.7 349.0,463.9 350.0,461.7 351.0,460.9 352.0,460.0 353.0,459.2 354.0,458.4 355.0,457.6 356.0,457.2 357.0,457.1 358.0,457.0 359.0,456.8 360.0,456.7 361.0,456.6 362.0,456.4 363.0,456.3 364.0,456.2 365.0,455.4 366.0,453.8 367.0,452.1 368.0,450.4 369.0,448.7 370.0,447.0 371.0,445.4 372.0,445.5 373.0,446.8 374.0,448.1 375.0,449.7 376.0,453.2 377.0,456.8 378.0,460.3 379.0,463.9 380.0,467.1 381.0,470.0 382.0,473.0 383.0,475.8 384.0,477.6 385.0,479.3 386.0,481.1 387.0,482.9 388.0,482.9 389.0,481.6 390.0,480.4 391.0,479.1 392.0,477.9 393.0,478.1 394.0,478.4 395.0,478.6 396.0,478.9 397.0,479.2 398.0,479.7 399.0,480.2 400.0,480.7 401.0,481.2 402.0,480.9 403.0,480.4 404.0,479.9 405.0,479.4 406.0,478.9 407.0,478.4 408.0,477.9 409.0,477.0 410.0,476.1 411.0,475.3 412.0,474.4 413.0,473.5 414.0,472.6 415.0,471.7 416.0,470.9 417.0,470.0 418.0,470.3 419.0,470.8 420.0,471.3 421.0,471.8 422.0,473.1 423.0,476.5 424.0,479.9 425.0,483.3 426.0,482.5 427.0,481.3 428.0,480.1 429.0,479.0 430.0,477.8 431.0,476.4 432.0,473.4 433.0,470.3 434.0,467.3 435.0,464.2 436.0,461.2 437.0,458.3 438.0,455.3 439.0,452.7 440.0,452.3 441.0,451.9 442.0,451.4 443.0,451.0 444.0,450.6 445.0,450.3 446.0,450.1 447.0,449.8 448.0,449.6 449.0,449.3 450.0,450.6 451.0,452.1 452.0,453.6 453.0,455.1 454.0,456.5 455.0,457.7 456.0,459.0 457.0,460.3 458.0,461.5 459.0,462.2 460.0,462.7 461.0,463.2 462.0,463.7 463.0,464.3 464.0,466.1 465.0,467.8 466.0,469.6 467.0,471.4 468.0,472.4 469.0,472.9 470.0,473.4 471.0,473.9 472.0,474.4 473.0,474.6 474.0,474.8 475.0,475.0 476.0,475.2 477.0,475.5 478.0,475.1 479.0,473.6 480.0,472.1 481.0,470.6 482.0,469.1 483.0,468.6 484.0,468.4 485.0,468.2 486.0,468.0 487.0,467.8 488.0,467.6 489.0,467.1 490.0,466.6 491.0,466.1 492.0,465.6 493.0,465.1 494.0,464.6 495.0,464.2 496.0,465.5 497.0,466.8 498.0,468.1 499.0,469.4 500.0,471.4 501.0,474.0 502.0,476.5 503.0,479.1 504.0,480.0 505.0,479.7 506.0,479.5 507.0,479.2 508.0,479.0 509.0,480.2 510.0,481.5 511.0,482.7 512.0,484.0 513.0,484.5 514.0,484.0 515.0,483.5 516.0,483.0 517.0,482.5 518.0,481.7 519.0,480.9 520.0,480.1 521.0,479.4 522.0,478.6 523.0,477.8 524.0,477.3 525.0,476.8 526.0,476.3 527.0,475.8 528.0,476.6 529.0,478.4 530.0,480.1 531.0,481.9 532.0,483.6 533.0,485.1 534.0,486.6 535.0,488.0 536.0,489.5 537.0,490.2 538.0,489.8 539.0,489.4 540.0,489.0 541.0,488.6 542.0,488.2 543.0,488.5 544.0,489.1 545.0,489.8 546.0,490.4 547.0,491.0 548.0,491.6 549.0,490.9 550.0,490.3 551.0,489.6 552.0,488.9 553.0,488.3 554.0,487.6 555.0,487.1 556.0,487.7 557.0,488.4 558.0,489.1 559.0,489.8 560.0,490.4 561.0,491.1 562.0,491.2 563.0,489.9 564.0,488.5 565.0,487.2 566.0,485.9 567.0,484.5 568.0,483.2 569.0,482.1 570.0,481.5 571.0,480.9 572.0,480.3 573.0,479.6 574.0,479.0 575.0,478.4 576.0,477.8 577.0,477.1 578.0,476.7 579.0,476.5 580.0,476.3 581.0,476.2 582.0,476.0 583.0,475.9 584.0,475.7 585.0,475.5 586.0,475.2 587.0,475.0 588.0,474.7 589.0,474.5 590.0,474.2 591.0,474.0 592.0,473.7 593.0,473.5 594.0,472.8 595.0,471.0 596.0,469.3 597.0,467.6 598.0,465.8 599.0,464.8 600.0,464.0 601.0,463.3 602.0,462.6 603.0,462.0 604.0,463.0 605.0,464.0 606.0,465.0 607.0,466.0 608.0,467.1 609.0,468.4 610.0,469.6 611.0,470.9 612.0,472.1 613.0,471.9 614.0,471.6 615.0,471.4 616.0,471.1 617.0,470.7 618.0,469.8 619.0,469.0 620.0,468.1 621.0,467.3 622.0,466.5 623.0,465.6 624.0,464.9 625.0,464.1 626.0,463.4 627.0,462.6 628.0,461.9 629.0,461.1 630.0,460.3 631.0,459.5 632.0,458.7 633.0,457.9 634.0,457.1 635.0,456.3 636.0,455.4 637.0,454.6 638.0,453.8 639.0,453.0 640.0,452.9 641.0,453.1 642.0,453.4 643.0,453.6 644.0,453.9 645.0,454.6 646.0,455.4 647.0,456.1 648.0,456.9 649.0,457.4 650.0,457.7 651.0,458.0" fill="none" stroke="#000" stroke-width="2" stroke-linejoin="round"/>
<rect x="41" y="418" width="222" height="11.5" fill="#fff"/>
<rect x="43" y="423" width="8" height="2.5" fill="#000"/>
<text x="55" y="427.5" font-size="11" fill="#000" font-weight="normal" text-anchor="start" textLength="118" lengthAdjust="spacingAndGlyphs" >MACD(12,26,9) 8.033</text>
<text x="173" y="427.5" font-size="11" fill="#c0201c" font-weight="normal" text-anchor="start" textLength="38" lengthAdjust="spacingAndGlyphs" >, 9.944</text>
<text x="211" y="427.5" font-size="11" fill="#6a7f95" font-weight="normal" text-anchor="start" textLength="50" lengthAdjust="spacingAndGlyphs" >, -1.910</text>
<text x="661" y="434.6" font-size="9.5" fill="#000" font-weight="normal" text-anchor="start" textLength="12" lengthAdjust="spacingAndGlyphs" >30</text>
<text x="661" y="448.0" font-size="9.5" fill="#000" font-weight="normal" text-anchor="start" textLength="12" lengthAdjust="spacingAndGlyphs" >20</text>
<text x="658" y="488.2" font-size="9.5" fill="#000" font-weight="normal" text-anchor="start" textLength="17" lengthAdjust="spacingAndGlyphs" >-10</text>
<text x="658" y="501.6" font-size="9.5" fill="#000" font-weight="normal" text-anchor="start" textLength="17" lengthAdjust="spacingAndGlyphs" >-20</text>
<text x="658" y="515.0" font-size="9.5" fill="#000" font-weight="normal" text-anchor="start" textLength="17" lengthAdjust="spacingAndGlyphs" >-30</text>
<rect x="41" y="126" width="142" height="11" fill="#fff"/>
<rect x="41" y="137" width="87" height="11" fill="#fff"/>
<rect x="41" y="148" width="88" height="10.5" fill="#fff"/>
<rect x="41" y="158.5" width="95" height="10.5" fill="#fff"/>
<g fill="#000"><rect x="43" y="129" width="1.5" height="6"/><rect x="45.5" y="130" width="2" height="5"/><rect x="48.5" y="128.5" width="1.5" height="6.5"/><rect x="51" y="130" width="2" height="4"/></g>
<text x="54" y="135.5" font-size="11" fill="#000" font-weight="normal" text-anchor="start" textLength="128" lengthAdjust="spacingAndGlyphs" >$GOLD (Daily) 1298.10</text>
<rect x="43" y="142.5" width="9" height="2" fill="#000080"/>
<text x="54" y="146.5" font-size="11" fill="#000080" font-weight="normal" text-anchor="start" textLength="74" lengthAdjust="spacingAndGlyphs" >MA(50) 1257.31,</text>
<rect x="43" y="153" width="9" height="2" fill="#b0103c"/>
<text x="54" y="157.5" font-size="11" fill="#b0103c" font-weight="normal" text-anchor="start" textLength="73" lengthAdjust="spacingAndGlyphs" >MA(200) 1252.42</text>
<g fill="#666"><rect x="43" y="161" width="2" height="6"/><rect x="46" y="163" width="2" height="4"/><rect x="49" y="160" width="2" height="7"/><rect x="52" y="162" width="1.5" height="5"/></g>
<text x="54" y="168" font-size="11" fill="#555" font-weight="normal" text-anchor="start" textLength="81" lengthAdjust="spacingAndGlyphs" >Volume 29,340,700</text>
<text x="661" y="132.96519939582686" font-size="9.5" fill="#000" font-weight="normal" text-anchor="start" textLength="22" lengthAdjust="spacingAndGlyphs" >1380</text>
<text x="661" y="150.63164453934587" font-size="9.5" fill="#000" font-weight="normal" text-anchor="start" textLength="22" lengthAdjust="spacingAndGlyphs" >1360</text>
<text x="661" y="168.5598243005188" font-size="9.5" fill="#000" font-weight="normal" text-anchor="start" textLength="22" lengthAdjust="spacingAndGlyphs" >1340</text>
<text x="661" y="186.75761083566977" font-size="9.5" fill="#000" font-weight="normal" text-anchor="start" textLength="22" lengthAdjust="spacingAndGlyphs" >1320</text>
<text x="661" y="223.9953181380679" font-size="9.5" fill="#000" font-weight="normal" text-anchor="start" textLength="22" lengthAdjust="spacingAndGlyphs" >1280</text>
<text x="661" y="262.4153704294913" font-size="9.5" fill="#000" font-weight="normal" text-anchor="start" textLength="22" lengthAdjust="spacingAndGlyphs" >1240</text>
<text x="661" y="282.09271455205817" font-size="9.5" fill="#000" font-weight="normal" text-anchor="start" textLength="22" lengthAdjust="spacingAndGlyphs" >1220</text>
<text x="661" y="302.0953187222767" font-size="9.5" fill="#000" font-weight="normal" text-anchor="start" textLength="22" lengthAdjust="spacingAndGlyphs" >1200</text>
<text x="661" y="322.4341168104802" font-size="9.5" fill="#000" font-weight="normal" text-anchor="start" textLength="22" lengthAdjust="spacingAndGlyphs" >1180</text>
<text x="661" y="343.12060345156897" font-size="9.5" fill="#000" font-weight="normal" text-anchor="start" textLength="22" lengthAdjust="spacingAndGlyphs" >1160</text>
<text x="661" y="364.1668730594829" font-size="9.5" fill="#000" font-weight="normal" text-anchor="start" textLength="22" lengthAdjust="spacingAndGlyphs" >1140</text>
<text x="661" y="385.5856622947831" font-size="9.5" fill="#000" font-weight="normal" text-anchor="start" textLength="22" lengthAdjust="spacingAndGlyphs" >1120</text>
<text x="16.5" y="328.3" font-size="9.5" fill="#000" font-weight="normal" text-anchor="start" textLength="20.5" lengthAdjust="spacingAndGlyphs" >80M</text>
<line x1="38" y1="325" x2="40.5" y2="325" stroke="#888"/>
<text x="16.5" y="347.3" font-size="9.5" fill="#000" font-weight="normal" text-anchor="start" textLength="20.5" lengthAdjust="spacingAndGlyphs" >60M</text>
<line x1="38" y1="344" x2="40.5" y2="344" stroke="#888"/>
<text x="16.5" y="366.6" font-size="9.5" fill="#000" font-weight="normal" text-anchor="start" textLength="20.5" lengthAdjust="spacingAndGlyphs" >40M</text>
<line x1="38" y1="363.3" x2="40.5" y2="363.3" stroke="#888"/>
<text x="16.5" y="385.90000000000003" font-size="9.5" fill="#000" font-weight="normal" text-anchor="start" textLength="20.5" lengthAdjust="spacingAndGlyphs" >20M</text>
<line x1="38" y1="382.6" x2="40.5" y2="382.6" stroke="#888"/>
<rect x="40.5" y="28.5" width="616.0" height="97.0" fill="none" stroke="#b4b4b4" stroke-width="1"/>
<rect x="40.5" y="125.5" width="616.0" height="278.0" fill="none" stroke="#b4b4b4" stroke-width="1"/>
<rect x="40.5" y="417.5" width="616.0" height="96.0" fill="none" stroke="#b4b4b4" stroke-width="1"/>
<line x1="656.5" y1="130.5" x2="658.5" y2="130.5" stroke="#ccc"/>
<line x1="656.5" y1="134.5" x2="658.5" y2="134.5" stroke="#ccc"/>
<line x1="656.5" y1="138.5" x2="658.5" y2="138.5" stroke="#ccc"/>
<line x1="656.5" y1="142.5" x2="658.5" y2="142.5" stroke="#ccc"/>
<line x1="656.5" y1="146.5" x2="658.5" y2="146.5" stroke="#ccc"/>
<line x1="656.5" y1="150.5" x2="658.5" y2="150.5" stroke="#ccc"/>
<line x1="656.5" y1="154.5" x2="658.5" y2="154.5" stroke="#ccc"/>
<line x1="656.5" y1="158.5" x2="658.5" y2="158.5" stroke="#ccc"/>
<line x1="656.5" y1="162.5" x2="658.5" y2="162.5" stroke="#ccc"/>
<line x1="656.5" y1="166.5" x2="658.5" y2="166.5" stroke="#ccc"/>
<line x1="656.5" y1="170.5" x2="658.5" y2="170.5" stroke="#ccc"/>
<line x1="656.5" y1="174.5" x2="658.5" y2="174.5" stroke="#ccc"/>
<line x1="656.5" y1="178.5" x2="658.5" y2="178.5" stroke="#ccc"/>
<line x1="656.5" y1="182.5" x2="658.5" y2="182.5" stroke="#ccc"/>
<line x1="656.5" y1="186.5" x2="658.5" y2="186.5" stroke="#ccc"/>
<line x1="656.5" y1="190.5" x2="658.5" y2="190.5" stroke="#ccc"/>
<line x1="656.5" y1="194.5" x2="658.5" y2="194.5" stroke="#ccc"/>
<line x1="656.5" y1="198.5" x2="658.5" y2="198.5" stroke="#ccc"/>
<line x1="656.5" y1="202.5" x2="658.5" y2="202.5" stroke="#ccc"/>
<line x1="656.5" y1="206.5" x2="658.5" y2="206.5" stroke="#ccc"/>
<line x1="656.5" y1="210.5" x2="658.5" y2="210.5" stroke="#ccc"/>
<line x1="656.5" y1="214.5" x2="658.5" y2="214.5" stroke="#ccc"/>
<line x1="656.5" y1="218.5" x2="658.5" y2="218.5" stroke="#ccc"/>
<line x1="656.5" y1="222.5" x2="658.5" y2="222.5" stroke="#ccc"/>
<line x1="656.5" y1="226.5" x2="658.5" y2="226.5" stroke="#ccc"/>
<line x1="656.5" y1="230.5" x2="658.5" y2="230.5" stroke="#ccc"/>
<line x1="656.5" y1="234.5" x2="658.5" y2="234.5" stroke="#ccc"/>
<line x1="656.5" y1="238.5" x2="658.5" y2="238.5" stroke="#ccc"/>
<line x1="656.5" y1="242.5" x2="658.5" y2="242.5" stroke="#ccc"/>
<line x1="656.5" y1="246.5" x2="658.5" y2="246.5" stroke="#ccc"/>
<line x1="656.5" y1="250.5" x2="658.5" y2="250.5" stroke="#ccc"/>
<line x1="656.5" y1="254.5" x2="658.5" y2="254.5" stroke="#ccc"/>
<line x1="656.5" y1="258.5" x2="658.5" y2="258.5" stroke="#ccc"/>
<line x1="656.5" y1="262.5" x2="658.5" y2="262.5" stroke="#ccc"/>
<line x1="656.5" y1="266.5" x2="658.5" y2="266.5" stroke="#ccc"/>
<line x1="656.5" y1="270.5" x2="658.5" y2="270.5" stroke="#ccc"/>
<line x1="656.5" y1="274.5" x2="658.5" y2="274.5" stroke="#ccc"/>
<line x1="656.5" y1="278.5" x2="658.5" y2="278.5" stroke="#ccc"/>
<line x1="656.5" y1="282.5" x2="658.5" y2="282.5" stroke="#ccc"/>
<line x1="656.5" y1="286.5" x2="658.5" y2="286.5" stroke="#ccc"/>
<line x1="656.5" y1="290.5" x2="658.5" y2="290.5" stroke="#ccc"/>
<line x1="656.5" y1="294.5" x2="658.5" y2="294.5" stroke="#ccc"/>
<line x1="656.5" y1="298.5" x2="658.5" y2="298.5" stroke="#ccc"/>
<line x1="656.5" y1="302.5" x2="658.5" y2="302.5" stroke="#ccc"/>
<line x1="656.5" y1="306.5" x2="658.5" y2="306.5" stroke="#ccc"/>
<line x1="656.5" y1="310.5" x2="658.5" y2="310.5" stroke="#ccc"/>
<line x1="656.5" y1="314.5" x2="658.5" y2="314.5" stroke="#ccc"/>
<line x1="656.5" y1="318.5" x2="658.5" y2="318.5" stroke="#ccc"/>
<line x1="656.5" y1="322.5" x2="658.5" y2="322.5" stroke="#ccc"/>
<line x1="656.5" y1="326.5" x2="658.5" y2="326.5" stroke="#ccc"/>
<line x1="656.5" y1="330.5" x2="658.5" y2="330.5" stroke="#ccc"/>
<line x1="656.5" y1="334.5" x2="658.5" y2="334.5" stroke="#ccc"/>
<line x1="656.5" y1="338.5" x2="658.5" y2="338.5" stroke="#ccc"/>
<line x1="656.5" y1="342.5" x2="658.5" y2="342.5" stroke="#ccc"/>
<line x1="656.5" y1="346.5" x2="658.5" y2="346.5" stroke="#ccc"/>
<line x1="656.5" y1="350.5" x2="658.5" y2="350.5" stroke="#ccc"/>
<line x1="656.5" y1="354.5" x2="658.5" y2="354.5" stroke="#ccc"/>
<line x1="656.5" y1="358.5" x2="658.5" y2="358.5" stroke="#ccc"/>
<line x1="656.5" y1="362.5" x2="658.5" y2="362.5" stroke="#ccc"/>
<line x1="656.5" y1="366.5" x2="658.5" y2="366.5" stroke="#ccc"/>
<line x1="656.5" y1="370.5" x2="658.5" y2="370.5" stroke="#ccc"/>
<line x1="656.5" y1="374.5" x2="658.5" y2="374.5" stroke="#ccc"/>
<line x1="656.5" y1="378.5" x2="658.5" y2="378.5" stroke="#ccc"/>
<line x1="656.5" y1="382.5" x2="658.5" y2="382.5" stroke="#ccc"/>
<line x1="656.5" y1="386.5" x2="658.5" y2="386.5" stroke="#ccc"/>
<line x1="656.5" y1="390.5" x2="658.5" y2="390.5" stroke="#ccc"/>
<line x1="656.5" y1="394.5" x2="658.5" y2="394.5" stroke="#ccc"/>
<line x1="656.5" y1="398.5" x2="658.5" y2="398.5" stroke="#ccc"/>
<line x1="656.5" y1="402.5" x2="658.5" y2="402.5" stroke="#ccc"/>
<text x="44.1" y="414" font-size="9.5" fill="#000" font-weight="normal" text-anchor="middle" stroke="#000" stroke-width="0.35">F</text>
<text x="44.1" y="525" font-size="9.5" fill="#000" font-weight="normal" text-anchor="middle" stroke="#000" stroke-width="0.35">F</text>
<line x1="43.5" y1="403.5" x2="43.5" y2="406" stroke="#bbb"/>
<line x1="43.5" y1="415" x2="43.5" y2="417.5" stroke="#bbb"/>
<text x="60.7" y="414" font-size="9.5" fill="#000" font-weight="normal" text-anchor="middle" stroke="#000" stroke-width="0.35">M</text>
<text x="60.7" y="525" font-size="9.5" fill="#000" font-weight="normal" text-anchor="middle" stroke="#000" stroke-width="0.35">M</text>
<line x1="60.5" y1="403.5" x2="60.5" y2="406" stroke="#bbb"/>
<line x1="60.5" y1="415" x2="60.5" y2="417.5" stroke="#bbb"/>
<text x="78.5" y="414" font-size="9.5" fill="#000" font-weight="normal" text-anchor="middle" stroke="#000" stroke-width="0.35">A</text>
<text x="78.5" y="525" font-size="9.5" fill="#000" font-weight="normal" text-anchor="middle" stroke="#000" stroke-width="0.35">A</text>
<line x1="78.5" y1="403.5" x2="78.5" y2="406" stroke="#bbb"/>
<line x1="78.5" y1="415" x2="78.5" y2="417.5" stroke="#bbb"/>
<text x="95.3" y="414" font-size="9.5" fill="#000" font-weight="normal" text-anchor="middle" stroke="#000" stroke-width="0.35">M</text>
<text x="95.3" y="525" font-size="9.5" fill="#000" font-weight="normal" text-anchor="middle" stroke="#000" stroke-width="0.35">M</text>
<line x1="94.5" y1="403.5" x2="94.5" y2="406" stroke="#bbb"/>
<line x1="94.5" y1="415" x2="94.5" y2="417.5" stroke="#bbb"/>
<text x="112.5" y="414" font-size="9.5" fill="#000" font-weight="normal" text-anchor="middle" stroke="#000" stroke-width="0.35">J</text>
<text x="112.5" y="525" font-size="9.5" fill="#000" font-weight="normal" text-anchor="middle" stroke="#000" stroke-width="0.35">J</text>
<line x1="112.5" y1="403.5" x2="112.5" y2="406" stroke="#bbb"/>
<line x1="112.5" y1="415" x2="112.5" y2="417.5" stroke="#bbb"/>
<text x="130.0" y="414" font-size="9.5" fill="#000" font-weight="normal" text-anchor="middle" stroke="#000" stroke-width="0.35">J</text>
<text x="130.0" y="525" font-size="9.5" fill="#000" font-weight="normal" text-anchor="middle" stroke="#000" stroke-width="0.35">J</text>
<line x1="129.5" y1="403.5" x2="129.5" y2="406" stroke="#bbb"/>
<line x1="129.5" y1="415" x2="129.5" y2="417.5" stroke="#bbb"/>
<text x="147.0" y="414" font-size="9.5" fill="#000" font-weight="normal" text-anchor="middle" stroke="#000" stroke-width="0.35">A</text>
<text x="147.0" y="525" font-size="9.5" fill="#000" font-weight="normal" text-anchor="middle" stroke="#000" stroke-width="0.35">A</text>
<line x1="146.5" y1="403.5" x2="146.5" y2="406" stroke="#bbb"/>
<line x1="146.5" y1="415" x2="146.5" y2="417.5" stroke="#bbb"/>
<text x="165.0" y="414" font-size="9.5" fill="#000" font-weight="normal" text-anchor="middle" stroke="#000" stroke-width="0.35">S</text>
<text x="165.0" y="525" font-size="9.5" fill="#000" font-weight="normal" text-anchor="middle" stroke="#000" stroke-width="0.35">S</text>
<line x1="164.5" y1="403.5" x2="164.5" y2="406" stroke="#bbb"/>
<line x1="164.5" y1="415" x2="164.5" y2="417.5" stroke="#bbb"/>
<text x="181.8" y="414" font-size="9.5" fill="#000" font-weight="normal" text-anchor="middle" stroke="#000" stroke-width="0.35">O</text>
<text x="181.8" y="525" font-size="9.5" fill="#000" font-weight="normal" text-anchor="middle" stroke="#000" stroke-width="0.35">O</text>
<line x1="181.5" y1="403.5" x2="181.5" y2="406" stroke="#bbb"/>
<line x1="181.5" y1="415" x2="181.5" y2="417.5" stroke="#bbb"/>
<text x="199.5" y="414" font-size="9.5" fill="#000" font-weight="normal" text-anchor="middle" stroke="#000" stroke-width="0.35">N</text>
<text x="199.5" y="525" font-size="9.5" fill="#000" font-weight="normal" text-anchor="middle" stroke="#000" stroke-width="0.35">N</text>
<line x1="199.5" y1="403.5" x2="199.5" y2="406" stroke="#bbb"/>
<line x1="199.5" y1="415" x2="199.5" y2="417.5" stroke="#bbb"/>
<text x="216.5" y="414" font-size="9.5" fill="#000" font-weight="normal" text-anchor="middle" stroke="#000" stroke-width="0.35">D</text>
<text x="216.5" y="525" font-size="9.5" fill="#000" font-weight="normal" text-anchor="middle" stroke="#000" stroke-width="0.35">D</text>
<line x1="216.5" y1="403.5" x2="216.5" y2="406" stroke="#bbb"/>
<line x1="216.5" y1="415" x2="216.5" y2="417.5" stroke="#bbb"/>
<text x="231.2" y="414" font-size="10.5" fill="#000" font-weight="bold" text-anchor="middle" textLength="11.5" lengthAdjust="spacingAndGlyphs" >17</text>
<text x="231.2" y="525" font-size="10.5" fill="#000" font-weight="bold" text-anchor="middle" textLength="11.5" lengthAdjust="spacingAndGlyphs" >17</text>
<line x1="232.5" y1="403.5" x2="232.5" y2="406" stroke="#bbb"/>
<line x1="232.5" y1="415" x2="232.5" y2="417.5" stroke="#bbb"/>
<text x="249.0" y="414" font-size="9.5" fill="#000" font-weight="normal" text-anchor="middle" stroke="#000" stroke-width="0.35">F</text>
<text x="249.0" y="525" font-size="9.5" fill="#000" font-weight="normal" text-anchor="middle" stroke="#000" stroke-width="0.35">F</text>
<line x1="248.5" y1="403.5" x2="248.5" y2="406" stroke="#bbb"/>
<line x1="248.5" y1="415" x2="248.5" y2="417.5" stroke="#bbb"/>
<text x="265.0" y="414" font-size="9.5" fill="#000" font-weight="normal" text-anchor="middle" stroke="#000" stroke-width="0.35">M</text>
<text x="265.0" y="525" font-size="9.5" fill="#000" font-weight="normal" text-anchor="middle" stroke="#000" stroke-width="0.35">M</text>
<line x1="264.5" y1="403.5" x2="264.5" y2="406" stroke="#bbb"/>
<line x1="264.5" y1="415" x2="264.5" y2="417.5" stroke="#bbb"/>
<text x="283.5" y="414" font-size="9.5" fill="#000" font-weight="normal" text-anchor="middle" stroke="#000" stroke-width="0.35">A</text>
<text x="283.5" y="525" font-size="9.5" fill="#000" font-weight="normal" text-anchor="middle" stroke="#000" stroke-width="0.35">A</text>
<line x1="283.5" y1="403.5" x2="283.5" y2="406" stroke="#bbb"/>
<line x1="283.5" y1="415" x2="283.5" y2="417.5" stroke="#bbb"/>
<text x="298.8" y="414" font-size="9.5" fill="#000" font-weight="normal" text-anchor="middle" stroke="#000" stroke-width="0.35">M</text>
<text x="298.8" y="525" font-size="9.5" fill="#000" font-weight="normal" text-anchor="middle" stroke="#000" stroke-width="0.35">M</text>
<line x1="298.5" y1="403.5" x2="298.5" y2="406" stroke="#bbb"/>
<line x1="298.5" y1="415" x2="298.5" y2="417.5" stroke="#bbb"/>
<text x="316.7" y="414" font-size="9.5" fill="#000" font-weight="normal" text-anchor="middle" stroke="#000" stroke-width="0.35">J</text>
<text x="316.7" y="525" font-size="9.5" fill="#000" font-weight="normal" text-anchor="middle" stroke="#000" stroke-width="0.35">J</text>
<line x1="316.5" y1="403.5" x2="316.5" y2="406" stroke="#bbb"/>
<line x1="316.5" y1="415" x2="316.5" y2="417.5" stroke="#bbb"/>
<text x="334.5" y="414" font-size="9.5" fill="#000" font-weight="normal" text-anchor="middle" stroke="#000" stroke-width="0.35">J</text>
<text x="334.5" y="525" font-size="9.5" fill="#000" font-weight="normal" text-anchor="middle" stroke="#000" stroke-width="0.35">J</text>
<line x1="334.5" y1="403.5" x2="334.5" y2="406" stroke="#bbb"/>
<line x1="334.5" y1="415" x2="334.5" y2="417.5" stroke="#bbb"/>
<text x="350.7" y="414" font-size="9.5" fill="#000" font-weight="normal" text-anchor="middle" stroke="#000" stroke-width="0.35">A</text>
<text x="350.7" y="525" font-size="9.5" fill="#000" font-weight="normal" text-anchor="middle" stroke="#000" stroke-width="0.35">A</text>
<line x1="350.5" y1="403.5" x2="350.5" y2="406" stroke="#bbb"/>
<line x1="350.5" y1="415" x2="350.5" y2="417.5" stroke="#bbb"/>
<text x="369.3" y="414" font-size="9.5" fill="#000" font-weight="normal" text-anchor="middle" stroke="#000" stroke-width="0.35">S</text>
<text x="369.3" y="525" font-size="9.5" fill="#000" font-weight="normal" text-anchor="middle" stroke="#000" stroke-width="0.35">S</text>
<line x1="368.5" y1="403.5" x2="368.5" y2="406" stroke="#bbb"/>
<line x1="368.5" y1="415" x2="368.5" y2="417.5" stroke="#bbb"/>
<text x="385.3" y="414" font-size="9.5" fill="#000" font-weight="normal" text-anchor="middle" stroke="#000" stroke-width="0.35">O</text>
<text x="385.3" y="525" font-size="9.5" fill="#000" font-weight="normal" text-anchor="middle" stroke="#000" stroke-width="0.35">O</text>
<line x1="384.5" y1="403.5" x2="384.5" y2="406" stroke="#bbb"/>
<line x1="384.5" y1="415" x2="384.5" y2="417.5" stroke="#bbb"/>
<text x="404.0" y="414" font-size="9.5" fill="#000" font-weight="normal" text-anchor="middle" stroke="#000" stroke-width="0.35">N</text>
<text x="404.0" y="525" font-size="9.5" fill="#000" font-weight="normal" text-anchor="middle" stroke="#000" stroke-width="0.35">N</text>
<line x1="403.5" y1="403.5" x2="403.5" y2="406" stroke="#bbb"/>
<line x1="403.5" y1="415" x2="403.5" y2="417.5" stroke="#bbb"/>
<text x="420.1" y="414" font-size="9.5" fill="#000" font-weight="normal" text-anchor="middle" stroke="#000" stroke-width="0.35">D</text>
<text x="420.1" y="525" font-size="9.5" fill="#000" font-weight="normal" text-anchor="middle" stroke="#000" stroke-width="0.35">D</text>
<line x1="419.5" y1="403.5" x2="419.5" y2="406" stroke="#bbb"/>
<line x1="419.5" y1="415" x2="419.5" y2="417.5" stroke="#bbb"/>
<text x="434.5" y="414" font-size="10.5" fill="#000" font-weight="bold" text-anchor="middle" textLength="11.5" lengthAdjust="spacingAndGlyphs" >18</text>
<text x="434.5" y="525" font-size="10.5" fill="#000" font-weight="bold" text-anchor="middle" textLength="11.5" lengthAdjust="spacingAndGlyphs" >18</text>
<line x1="435.5" y1="403.5" x2="435.5" y2="406" stroke="#bbb"/>
<line x1="435.5" y1="415" x2="435.5" y2="417.5" stroke="#bbb"/>
<text x="453.1" y="414" font-size="9.5" fill="#000" font-weight="normal" text-anchor="middle" stroke="#000" stroke-width="0.35">F</text>
<text x="453.1" y="525" font-size="9.5" fill="#000" font-weight="normal" text-anchor="middle" stroke="#000" stroke-width="0.35">F</text>
<line x1="452.5" y1="403.5" x2="452.5" y2="406" stroke="#bbb"/>
<line x1="452.5" y1="415" x2="452.5" y2="417.5" stroke="#bbb"/>
<text x="468.8" y="414" font-size="9.5" fill="#000" font-weight="normal" text-anchor="middle" stroke="#000" stroke-width="0.35">M</text>
<text x="468.8" y="525" font-size="9.5" fill="#000" font-weight="normal" text-anchor="middle" stroke="#000" stroke-width="0.35">M</text>
<line x1="468.5" y1="403.5" x2="468.5" y2="406" stroke="#bbb"/>
<line x1="468.5" y1="415" x2="468.5" y2="417.5" stroke="#bbb"/>
<text x="486.1" y="414" font-size="9.5" fill="#000" font-weight="normal" text-anchor="middle" stroke="#000" stroke-width="0.35">A</text>
<text x="486.1" y="525" font-size="9.5" fill="#000" font-weight="normal" text-anchor="middle" stroke="#000" stroke-width="0.35">A</text>
<line x1="485.5" y1="403.5" x2="485.5" y2="406" stroke="#bbb"/>
<line x1="485.5" y1="415" x2="485.5" y2="417.5" stroke="#bbb"/>
<text x="503.1" y="414" font-size="9.5" fill="#000" font-weight="normal" text-anchor="middle" stroke="#000" stroke-width="0.35">M</text>
<text x="503.1" y="525" font-size="9.5" fill="#000" font-weight="normal" text-anchor="middle" stroke="#000" stroke-width="0.35">M</text>
<line x1="502.5" y1="403.5" x2="502.5" y2="406" stroke="#bbb"/>
<line x1="502.5" y1="415" x2="502.5" y2="417.5" stroke="#bbb"/>
<text x="520.5" y="414" font-size="9.5" fill="#000" font-weight="normal" text-anchor="middle" stroke="#000" stroke-width="0.35">J</text>
<text x="520.5" y="525" font-size="9.5" fill="#000" font-weight="normal" text-anchor="middle" stroke="#000" stroke-width="0.35">J</text>
<line x1="520.5" y1="403.5" x2="520.5" y2="406" stroke="#bbb"/>
<line x1="520.5" y1="415" x2="520.5" y2="417.5" stroke="#bbb"/>
<text x="537.9" y="414" font-size="9.5" fill="#000" font-weight="normal" text-anchor="middle" stroke="#000" stroke-width="0.35">J</text>
<text x="537.9" y="525" font-size="9.5" fill="#000" font-weight="normal" text-anchor="middle" stroke="#000" stroke-width="0.35">J</text>
<line x1="537.5" y1="403.5" x2="537.5" y2="406" stroke="#bbb"/>
<line x1="537.5" y1="415" x2="537.5" y2="417.5" stroke="#bbb"/>
<text x="555.3" y="414" font-size="9.5" fill="#000" font-weight="normal" text-anchor="middle" stroke="#000" stroke-width="0.35">A</text>
<text x="555.3" y="525" font-size="9.5" fill="#000" font-weight="normal" text-anchor="middle" stroke="#000" stroke-width="0.35">A</text>
<line x1="554.5" y1="403.5" x2="554.5" y2="406" stroke="#bbb"/>
<line x1="554.5" y1="415" x2="554.5" y2="417.5" stroke="#bbb"/>
<text x="573.3" y="414" font-size="9.5" fill="#000" font-weight="normal" text-anchor="middle" stroke="#000" stroke-width="0.35">S</text>
<text x="573.3" y="525" font-size="9.5" fill="#000" font-weight="normal" text-anchor="middle" stroke="#000" stroke-width="0.35">S</text>
<line x1="572.5" y1="403.5" x2="572.5" y2="406" stroke="#bbb"/>
<line x1="572.5" y1="415" x2="572.5" y2="417.5" stroke="#bbb"/>
<text x="588.3" y="414" font-size="9.5" fill="#000" font-weight="normal" text-anchor="middle" stroke="#000" stroke-width="0.35">O</text>
<text x="588.3" y="525" font-size="9.5" fill="#000" font-weight="normal" text-anchor="middle" stroke="#000" stroke-width="0.35">O</text>
<line x1="587.5" y1="403.5" x2="587.5" y2="406" stroke="#bbb"/>
<line x1="587.5" y1="415" x2="587.5" y2="417.5" stroke="#bbb"/>
<text x="607.5" y="414" font-size="9.5" fill="#000" font-weight="normal" text-anchor="middle" stroke="#000" stroke-width="0.35">N</text>
<text x="607.5" y="525" font-size="9.5" fill="#000" font-weight="normal" text-anchor="middle" stroke="#000" stroke-width="0.35">N</text>
<line x1="607.5" y1="403.5" x2="607.5" y2="406" stroke="#bbb"/>
<line x1="607.5" y1="415" x2="607.5" y2="417.5" stroke="#bbb"/>
<text x="624.5" y="414" font-size="9.5" fill="#000" font-weight="normal" text-anchor="middle" stroke="#000" stroke-width="0.35">D</text>
<text x="624.5" y="525" font-size="9.5" fill="#000" font-weight="normal" text-anchor="middle" stroke="#000" stroke-width="0.35">D</text>
<line x1="624.5" y1="403.5" x2="624.5" y2="406" stroke="#bbb"/>
<line x1="624.5" y1="415" x2="624.5" y2="417.5" stroke="#bbb"/>
<text x="638.7" y="414" font-size="10.5" fill="#000" font-weight="bold" text-anchor="middle" textLength="11.5" lengthAdjust="spacingAndGlyphs" >19</text>
<text x="638.7" y="525" font-size="10.5" fill="#000" font-weight="bold" text-anchor="middle" textLength="11.5" lengthAdjust="spacingAndGlyphs" >19</text>
<line x1="639.5" y1="403.5" x2="639.5" y2="406" stroke="#bbb"/>
<line x1="639.5" y1="415" x2="639.5" y2="417.5" stroke="#bbb"/>
<polygon points="654.5,65.5 659.5,60.5 687.5,60.5 687.5,70.5 659.5,70.5" fill="#fff" stroke="#000" stroke-width="1"/>
<text x="659.5" y="68.7" font-size="9.5" fill="#000" font-weight="normal" text-anchor="start" textLength="25" lengthAdjust="spacingAndGlyphs" >63.83</text>
<polygon points="654.5,204.0 659.5,198.5 698.5,198.5 698.5,209.5 659.5,209.5" fill="#fff" stroke="#000" stroke-width="1.6"/>
<text x="659.5" y="207.7" font-size="11" fill="#000" font-weight="bold" text-anchor="start" textLength="36" lengthAdjust="spacingAndGlyphs" >1298.10</text>
<polygon points="654.5,250.0 659.5,246.5 698.5,246.5 698.5,253.5 659.5,253.5" fill="#fff" stroke="#b0103c" stroke-width="1"/>
<text x="659.5" y="251.7" font-size="9.5" fill="#000" font-weight="normal" text-anchor="start" textLength="36" lengthAdjust="spacingAndGlyphs" >1252.42</text>
<polygon points="654.5,242.5 659.5,238.5 698.5,238.5 698.5,246.5 659.5,246.5" fill="#fff" stroke="#000080" stroke-width="1"/>
<text x="659.5" y="244.7" font-size="9.5" fill="#000" font-weight="normal" text-anchor="start" textLength="36" lengthAdjust="spacingAndGlyphs" >1257.31</text>
<polygon points="654.5,373.25 659.5,369 700.5,369 700.5,377.5 659.5,377.5" fill="#fff" stroke="#000" stroke-width="1"/>
<text x="659.5" y="375.7" font-size="9.5" fill="#000" font-weight="normal" text-anchor="start" textLength="38" lengthAdjust="spacingAndGlyphs" >2934070</text>
<polygon points="654.5,457 659.5,453 690.5,453 690.5,461 659.5,461" fill="#fff" stroke="#e02020"/>
<polygon points="654.5,461.0 659.5,456.5 688.5,456.5 688.5,465.5 659.5,465.5" fill="#fff" stroke="#000" stroke-width="1"/>
<text x="659.5" y="463.7" font-size="9.5" fill="#000" font-weight="normal" text-anchor="start" textLength="26" lengthAdjust="spacingAndGlyphs" >8.033</text>
<polygon points="654.5,473.75 659.5,469.5 690.5,469.5 690.5,478 659.5,478" fill="#fff" stroke="#1f4e8e" stroke-width="1"/>
<text x="659.5" y="476.2" font-size="9.5" fill="#000" font-weight="normal" text-anchor="start" textLength="28" lengthAdjust="spacingAndGlyphs" >-1.910</text>
<rect x="651" y="200" width="2" height="21" fill="#000"/>
<rect x="58" y="28" width="3" height="485" fill="#4d7a3c"/>
<rect x="307" y="28" width="3" height="485" fill="#4d7a3c"/>
<rect x="648" y="28" width="3" height="485" fill="#4d7a3c"/>
<rect x="187.5" y="133.5" width="465" height="22" fill="#eb1414" fill-opacity="0.48" stroke="#d83030" stroke-opacity="0.55" stroke-width="1"/>
<defs><filter id="sh" x="-10%" y="-10%" width="120%" height="120%"><feGaussianBlur stdDeviation="1.2"/></filter></defs>
<polygon points="255.6,75.6 418.8,75.6 418.8,111.0 648.0,248.0 412.5,117.5 340.6,117.5 312.0,250.0 333.4,117.5 262.8,117.5 68.0,370.0 255.6,117.5" fill="#999" filter="url(#sh)" opacity="0.8"/>
<polygon points="253.6,73.6 416.8,73.6 416.8,109.0 646.0,246.0 410.5,115.5 338.6,115.5 310.0,248.0 331.4,115.5 260.8,115.5 66.0,368.0 253.6,115.5" fill="#fff" stroke="#777" stroke-width="1.3" stroke-linejoin="miter"/>
<polygon points="363.0,298.8 505.5,298.8 658.0,160.0 511.5,305.0 511.5,377.2 357.2,377.2 357.2,305.5 79.0,292.0 335.0,297.7 75.0,218.0 346.0,294.0 321.0,214.0" fill="#999" filter="url(#sh)" opacity="0.8"/>
<polygon points="361.0,296.8 503.5,296.8 656.0,158.0 509.5,303.0 509.5,375.2 355.2,375.2 355.2,303.5 77.0,290.0 333.0,295.7 73.0,216.0 344.0,292.0 319.0,212.0" fill="#fff" stroke="#777" stroke-width="1.3" stroke-linejoin="miter"/>
<ellipse cx="59.5" cy="369.5" rx="9.5" ry="9.5" fill="none" stroke="#e39a4c" stroke-width="3"/>
<ellipse cx="308.5" cy="253.5" rx="9" ry="12" fill="none" stroke="#e39a4c" stroke-width="3"/>
<ellipse cx="648.5" cy="247.5" rx="7" ry="10.8" fill="none" stroke="#e39a4c" stroke-width="3"/>
<polygon points="61.9,232.7 74.5,272.4 68.5,274.3 81.5,287.0 84.7,269.2 78.8,271.1 66.1,231.3" fill="#ea1c1c"/>
<polygon points="318.9,214.8 343.0,275.9 337.2,278.2 351.0,290.0 353.0,272.0 347.2,274.3 323.1,213.2" fill="#ea1c1c"/>
<polygon points="484.0,188.1 545.3,300.0 539.9,303.0 555.0,313.0 554.8,294.9 549.3,297.9 488.0,185.9" fill="#ea1c1c"/>
<polygon points="662.1,231.5 683.7,318.5 677.4,320.0 689.5,333.5 693.9,315.9 687.6,317.5 665.9,230.5" fill="#ea1c1c"/>
<ellipse cx="69.3" cy="218.6" rx="10.3" ry="7.5" fill="none" stroke="#ea1c1c" stroke-width="3"/>
<circle cx="319" cy="204.7" r="10" fill="none" stroke="#ea1c1c" stroke-width="3"/>
<circle cx="668.6" cy="142.6" r="14" fill="none" stroke="#ea1c1c" stroke-width="4"/>
<text x="668" y="141" font-size="15" fill="#ea1c1c" font-weight="bold" text-anchor="middle" >?</text>
<text x="257.6" y="89.5" font-size="15" fill="#000" font-weight="bold" text-anchor="start" textLength="114" lengthAdjust="spacingAndGlyphs" >Golden Crosses</text>
<text x="257.6" y="108.5" font-size="15" fill="#000" font-weight="bold" text-anchor="start" textLength="88" lengthAdjust="spacingAndGlyphs" >occur here...</text>
<text x="359" y="313.9" font-size="14.5" fill="#000" font-weight="bold" text-anchor="start" textLength="117.1" lengthAdjust="spacingAndGlyphs" >Rallies sold here</text>
<text x="359" y="331.5" font-size="14.5" fill="#000" font-weight="bold" text-anchor="start" textLength="143" lengthAdjust="spacingAndGlyphs" >resulted in new lows</text>
<text x="359" y="348.7" font-size="14.5" fill="#000" font-weight="bold" text-anchor="start" textLength="139.5" lengthAdjust="spacingAndGlyphs" >beneath the Golden</text>
<text x="359" y="366.9" font-size="14.5" fill="#000" font-weight="bold" text-anchor="start" textLength="131.3" lengthAdjust="spacingAndGlyphs" >Cross entry level...</text>
</svg>
</body></html>
